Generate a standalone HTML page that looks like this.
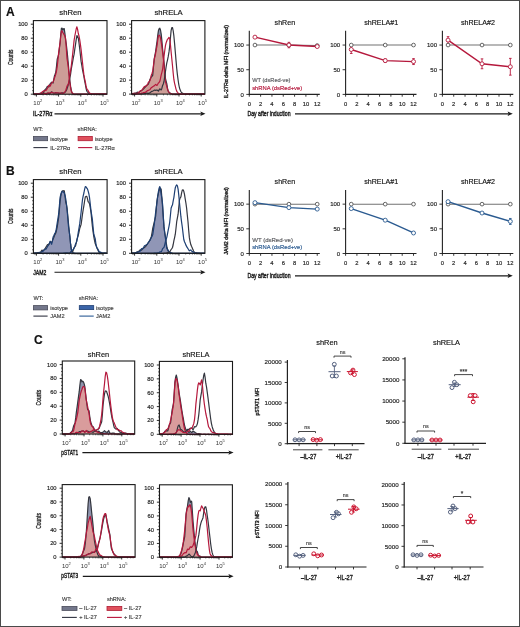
<!DOCTYPE html>
<html><head><meta charset="utf-8"><style>
html,body{margin:0;padding:0;background:#fff;width:520px;height:627px;overflow:hidden;}
svg{display:block;font-family:"Liberation Sans", sans-serif;will-change:transform;}
</style></head><body>
<svg width="520" height="627" viewBox="0 0 520 627" font-family='"Liberation Sans", sans-serif'>
<rect x="0" y="0" width="520" height="627" fill="#fff"/>
<text x="6" y="15.6" font-size="12" text-anchor="start" fill="#111" stroke="#111" stroke-width="0.16" font-weight="bold" >A</text>
<text x="70.4" y="15.1" font-size="7.7" text-anchor="middle" fill="#141414" stroke="#141414" stroke-width="0.16" >shRen</text>
<text x="168.6" y="15.1" font-size="7.7" text-anchor="middle" fill="#141414" stroke="#141414" stroke-width="0.16" >shRELA</text>
<path d="M33.4,94.0 34.1,93.9 34.8,93.9 35.5,93.9 36.2,94.0 36.9,94.0 37.6,94.1 38.3,94.0 39.0,94.0 39.7,93.6 40.4,93.1 41.1,93.1 41.8,93.1 42.5,93.0 43.2,92.7 43.9,91.5 44.6,90.1 45.3,89.4 46.0,88.7 46.7,87.6 47.4,86.4 48.1,86.6 48.8,86.9 49.5,85.3 50.2,83.7 50.9,83.0 51.6,82.2 52.3,82.6 53.0,83.1 53.7,79.8 54.4,76.0 55.1,74.2 55.8,72.1 56.5,66.3 57.2,59.2 57.9,57.1 58.6,54.6 59.3,49.0 60.0,43.5 60.7,35.3 61.4,28.3 62.1,28.1 62.8,30.0 63.5,28.9 64.2,28.6 64.9,33.4 65.6,39.8 66.3,44.2 67.0,50.3 67.7,57.2 68.4,64.8 69.1,73.4 69.8,80.7 70.6,86.4 71.3,90.2 72.0,92.7 72.7,93.9 73.4,94.0 74.1,94.0 74.8,94.1 75.5,94.2 76.2,94.2 76.9,94.2 77.6,94.2 78.3,94.2 79.0,94.2 79.7,94.2 80.4,94.2 81.1,94.2 81.8,94.2 82.5,94.2 83.2,94.2 83.9,94.2 84.6,94.2 85.3,94.2 86.0,94.2 86.7,94.2 87.4,94.2 88.1,94.2 88.8,94.2 89.5,94.2 90.2,94.2 90.9,94.2 91.6,94.2 92.3,94.2 93.0,94.2 93.7,94.2 94.4,94.2 95.1,94.2 95.8,94.2 96.5,94.2 97.2,94.2 97.9,94.2 98.6,94.2 99.3,94.2 100.0,94.2 100.7,94.2 101.4,94.2 102.1,94.2 102.8,94.2 103.5,94.2 104.2,94.2 104.9,94.2 105.6,94.2 106.3,94.2 107.0,94.2 L107,94.2 L33.4,94.2 Z" fill="#8e94ad" stroke="none"/>
<path d="M33.4,94.2 34.1,94.2 34.8,94.1 35.5,94.0 36.2,93.9 36.9,93.9 37.6,93.8 38.3,93.7 39.0,93.5 39.7,93.5 40.4,93.5 41.1,93.0 41.8,92.3 42.5,91.7 43.2,91.1 43.9,90.9 44.6,90.8 45.3,90.5 46.0,90.3 46.7,89.3 47.4,88.3 48.1,86.8 48.8,85.2 49.5,85.6 50.2,86.2 50.9,84.6 51.6,82.8 52.3,82.5 53.0,82.1 53.7,80.3 54.4,78.1 55.1,76.3 55.8,74.0 56.5,70.8 57.2,66.7 57.9,60.4 58.6,53.1 59.3,48.0 60.0,43.2 60.7,36.5 61.4,31.1 62.1,30.8 62.8,32.6 63.5,33.4 64.2,34.9 64.9,36.0 65.6,38.6 66.3,48.0 67.0,58.4 67.7,62.8 68.4,68.2 69.1,75.7 69.8,82.0 70.6,87.6 71.3,91.2 72.0,92.5 72.7,93.3 73.4,93.9 74.1,94.2 74.8,94.2 75.5,94.2 76.2,94.2 76.9,94.2 77.6,94.2 78.3,94.2 79.0,94.2 79.7,94.2 80.4,94.2 81.1,94.2 81.8,94.2 82.5,94.2 83.2,94.2 83.9,94.2 84.6,94.2 85.3,94.2 86.0,94.2 86.7,94.2 87.4,94.2 88.1,94.2 88.8,94.2 89.5,94.2 90.2,94.2 90.9,94.2 91.6,94.2 92.3,94.2 93.0,94.2 93.7,94.2 94.4,94.2 95.1,94.2 95.8,94.2 96.5,94.2 97.2,94.2 97.9,94.2 98.6,94.2 99.3,94.2 100.0,94.2 100.7,94.2 101.4,94.2 102.1,94.2 102.8,94.2 103.5,94.2 104.2,94.2 104.9,94.2 105.6,94.2 106.3,94.2 107.0,94.2 L107,94.2 L33.4,94.2 Z" fill="#cd9d97" stroke="none"/>
<path d="M33.4,94.0 34.1,93.9 34.8,93.9 35.5,93.9 36.2,94.0 36.9,94.0 37.6,94.1 38.3,94.0 39.0,94.0 39.7,93.6 40.4,93.1 41.1,93.1 41.8,93.1 42.5,93.0 43.2,92.7 43.9,91.5 44.6,90.1 45.3,89.4 46.0,88.7 46.7,87.6 47.4,86.4 48.1,86.6 48.8,86.9 49.5,85.3 50.2,83.7 50.9,83.0 51.6,82.2 52.3,82.6 53.0,83.1 53.7,79.8 54.4,76.0 55.1,74.2 55.8,72.1 56.5,66.3 57.2,59.2 57.9,57.1 58.6,54.6 59.3,49.0 60.0,43.5 60.7,35.3 61.4,28.3 62.1,28.1 62.8,30.0 63.5,28.9 64.2,28.6 64.9,33.4 65.6,39.8 66.3,44.2 67.0,50.3 67.7,57.2 68.4,64.8 69.1,73.4 69.8,80.7 70.6,86.4 71.3,90.2 72.0,92.7 72.7,93.9 73.4,94.0 74.1,94.0 74.8,94.1 75.5,94.2 76.2,94.2 76.9,94.2 77.6,94.2 78.3,94.2 79.0,94.2 79.7,94.2 80.4,94.2 81.1,94.2 81.8,94.2 82.5,94.2 83.2,94.2 83.9,94.2 84.6,94.2 85.3,94.2 86.0,94.2 86.7,94.2 87.4,94.2 88.1,94.2 88.8,94.2 89.5,94.2 90.2,94.2 90.9,94.2 91.6,94.2 92.3,94.2 93.0,94.2 93.7,94.2 94.4,94.2 95.1,94.2 95.8,94.2 96.5,94.2 97.2,94.2 97.9,94.2 98.6,94.2 99.3,94.2 100.0,94.2 100.7,94.2 101.4,94.2 102.1,94.2 102.8,94.2 103.5,94.2 104.2,94.2 104.9,94.2 105.6,94.2 106.3,94.2 107.0,94.2" fill="none" stroke="#34363f" stroke-width="1.2" stroke-linejoin="round"/>
<path d="M33.4,94.2 34.1,94.2 34.8,94.1 35.5,94.0 36.2,93.9 36.9,93.9 37.6,93.8 38.3,93.7 39.0,93.5 39.7,93.5 40.4,93.5 41.1,93.0 41.8,92.3 42.5,91.7 43.2,91.1 43.9,90.9 44.6,90.8 45.3,90.5 46.0,90.3 46.7,89.3 47.4,88.3 48.1,86.8 48.8,85.2 49.5,85.6 50.2,86.2 50.9,84.6 51.6,82.8 52.3,82.5 53.0,82.1 53.7,80.3 54.4,78.1 55.1,76.3 55.8,74.0 56.5,70.8 57.2,66.7 57.9,60.4 58.6,53.1 59.3,48.0 60.0,43.2 60.7,36.5 61.4,31.1 62.1,30.8 62.8,32.6 63.5,33.4 64.2,34.9 64.9,36.0 65.6,38.6 66.3,48.0 67.0,58.4 67.7,62.8 68.4,68.2 69.1,75.7 69.8,82.0 70.6,87.6 71.3,91.2 72.0,92.5 72.7,93.3 73.4,93.9 74.1,94.2 74.8,94.2 75.5,94.2 76.2,94.2 76.9,94.2 77.6,94.2 78.3,94.2 79.0,94.2 79.7,94.2 80.4,94.2 81.1,94.2 81.8,94.2 82.5,94.2 83.2,94.2 83.9,94.2 84.6,94.2 85.3,94.2 86.0,94.2 86.7,94.2 87.4,94.2 88.1,94.2 88.8,94.2 89.5,94.2 90.2,94.2 90.9,94.2 91.6,94.2 92.3,94.2 93.0,94.2 93.7,94.2 94.4,94.2 95.1,94.2 95.8,94.2 96.5,94.2 97.2,94.2 97.9,94.2 98.6,94.2 99.3,94.2 100.0,94.2 100.7,94.2 101.4,94.2 102.1,94.2 102.8,94.2 103.5,94.2 104.2,94.2 104.9,94.2 105.6,94.2 106.3,94.2 107.0,94.2" fill="none" stroke="#b5183c" stroke-width="1.2" stroke-linejoin="round"/>
<path d="M33.4,94.2 34.1,94.2 34.8,94.2 35.5,94.2 36.2,94.2 36.9,94.2 37.6,94.2 38.3,94.1 39.0,94.0 39.7,94.0 40.4,94.0 41.1,93.9 41.8,93.8 42.5,93.6 43.2,93.5 43.9,93.4 44.6,93.3 45.3,93.7 46.0,94.1 46.7,93.6 47.4,93.1 48.1,93.6 48.8,94.1 49.5,93.6 50.2,93.1 50.9,92.4 51.6,91.8 52.3,92.3 53.0,92.9 53.7,93.0 54.4,93.0 55.1,92.9 55.8,92.7 56.5,92.8 57.2,92.9 57.9,93.0 58.6,93.1 59.3,93.3 60.0,93.6 60.7,93.2 61.4,92.8 62.1,92.8 62.8,92.8 63.5,93.0 64.2,93.0 64.9,92.4 65.6,91.6 66.3,90.5 67.0,88.9 67.7,86.8 68.4,84.0 69.1,81.5 69.8,78.5 70.6,74.1 71.3,69.0 72.0,65.1 72.7,61.3 73.4,57.5 74.1,54.2 74.8,49.1 75.5,44.7 76.2,39.6 76.9,35.7 77.6,36.2 78.3,38.2 79.0,43.0 79.7,48.8 80.4,55.0 81.1,61.4 81.8,65.5 82.5,69.7 83.2,73.1 83.9,76.3 84.6,80.6 85.3,84.1 86.0,88.0 86.7,90.9 87.4,91.8 88.1,92.5 88.8,93.5 89.5,94.1 90.2,94.2 90.9,94.2 91.6,94.2 92.3,94.1 93.0,94.1 93.7,94.2 94.4,94.2 95.1,94.2 95.8,94.2 96.5,94.2 97.2,94.2 97.9,94.2 98.6,94.2 99.3,94.2 100.0,94.2 100.7,94.2 101.4,94.2 102.1,94.2 102.8,94.2 103.5,94.2 104.2,94.2 104.9,94.2 105.6,94.2 106.3,94.2 107.0,94.2" fill="none" stroke="#34363f" stroke-width="1.2" stroke-linejoin="round"/>
<path d="M33.4,94.2 34.1,94.2 34.8,94.1 35.5,94.2 36.2,94.2 36.9,94.2 37.6,94.1 38.3,94.1 39.0,94.1 39.7,94.0 40.4,93.9 41.1,93.9 41.8,93.8 42.5,93.8 43.2,93.8 43.9,93.6 44.6,93.3 45.3,93.5 46.0,93.6 46.7,93.6 47.4,93.5 48.1,93.1 48.8,92.7 49.5,93.0 50.2,93.3 50.9,92.8 51.6,92.2 52.3,92.5 53.0,92.8 53.7,93.0 54.4,93.1 55.1,93.0 55.8,92.8 56.5,92.9 57.2,92.9 57.9,92.9 58.6,93.0 59.3,93.1 60.0,93.2 60.7,93.1 61.4,92.9 62.1,93.3 62.8,93.6 63.5,93.2 64.2,92.5 64.9,91.8 65.6,90.7 66.3,88.8 67.0,86.2 67.7,85.2 68.4,84.0 69.1,79.8 69.8,74.8 70.6,70.5 71.3,65.9 72.0,59.9 72.7,53.8 73.4,47.0 74.1,40.4 74.8,36.0 75.5,32.5 76.2,29.0 76.9,26.8 77.6,29.4 78.3,33.5 79.0,36.0 79.7,39.7 80.4,44.3 81.1,49.6 81.8,56.1 82.5,62.5 83.2,69.1 83.9,74.9 84.6,78.6 85.3,81.7 86.0,85.7 86.7,88.7 87.4,89.7 88.1,90.5 88.8,91.9 89.5,92.9 90.2,93.4 90.9,93.7 91.6,93.9 92.3,94.0 93.0,94.1 93.7,94.1 94.4,94.1 95.1,94.1 95.8,94.2 96.5,94.2 97.2,94.2 97.9,94.2 98.6,94.2 99.3,94.2 100.0,94.2 100.7,94.2 101.4,94.2 102.1,94.2 102.8,94.2 103.5,94.2 104.2,94.2 104.9,94.2 105.6,94.2 106.3,94.2 107.0,94.2" fill="none" stroke="#b5183c" stroke-width="1.2" stroke-linejoin="round"/>
<rect x="33.4" y="20.6" width="73.6" height="73.6" fill="none" stroke="#1a1a1a" stroke-width="1.1"/>
<line x1="30.8" y1="94.2" x2="33.4" y2="94.2" stroke="#1a1a1a" stroke-width="0.9"/>
<text x="27.8" y="96.2" font-size="5.8" text-anchor="end" fill="#1e1e1e" stroke="#1e1e1e" stroke-width="0.16" >0</text>
<line x1="32.1" y1="90.7" x2="33.4" y2="90.7" stroke="#1a1a1a" stroke-width="0.7"/>
<line x1="32.1" y1="87.2" x2="33.4" y2="87.2" stroke="#1a1a1a" stroke-width="0.7"/>
<line x1="32.1" y1="83.7" x2="33.4" y2="83.7" stroke="#1a1a1a" stroke-width="0.7"/>
<line x1="30.8" y1="80.2" x2="33.4" y2="80.2" stroke="#1a1a1a" stroke-width="0.9"/>
<text x="27.8" y="82.2" font-size="5.8" text-anchor="end" fill="#1e1e1e" stroke="#1e1e1e" stroke-width="0.16" >20</text>
<line x1="32.1" y1="76.7" x2="33.4" y2="76.7" stroke="#1a1a1a" stroke-width="0.7"/>
<line x1="32.1" y1="73.2" x2="33.4" y2="73.2" stroke="#1a1a1a" stroke-width="0.7"/>
<line x1="32.1" y1="69.7" x2="33.4" y2="69.7" stroke="#1a1a1a" stroke-width="0.7"/>
<line x1="30.8" y1="66.2" x2="33.4" y2="66.2" stroke="#1a1a1a" stroke-width="0.9"/>
<text x="27.8" y="68.2" font-size="5.8" text-anchor="end" fill="#1e1e1e" stroke="#1e1e1e" stroke-width="0.16" >40</text>
<line x1="32.1" y1="62.7" x2="33.4" y2="62.7" stroke="#1a1a1a" stroke-width="0.7"/>
<line x1="32.1" y1="59.2" x2="33.4" y2="59.2" stroke="#1a1a1a" stroke-width="0.7"/>
<line x1="32.1" y1="55.7" x2="33.4" y2="55.7" stroke="#1a1a1a" stroke-width="0.7"/>
<line x1="30.8" y1="52.2" x2="33.4" y2="52.2" stroke="#1a1a1a" stroke-width="0.9"/>
<text x="27.8" y="54.2" font-size="5.8" text-anchor="end" fill="#1e1e1e" stroke="#1e1e1e" stroke-width="0.16" >60</text>
<line x1="32.1" y1="48.7" x2="33.4" y2="48.7" stroke="#1a1a1a" stroke-width="0.7"/>
<line x1="32.1" y1="45.2" x2="33.4" y2="45.2" stroke="#1a1a1a" stroke-width="0.7"/>
<line x1="32.1" y1="41.7" x2="33.4" y2="41.7" stroke="#1a1a1a" stroke-width="0.7"/>
<line x1="30.8" y1="38.2" x2="33.4" y2="38.2" stroke="#1a1a1a" stroke-width="0.9"/>
<text x="27.8" y="40.2" font-size="5.8" text-anchor="end" fill="#1e1e1e" stroke="#1e1e1e" stroke-width="0.16" >80</text>
<line x1="32.1" y1="34.7" x2="33.4" y2="34.7" stroke="#1a1a1a" stroke-width="0.7"/>
<line x1="32.1" y1="31.2" x2="33.4" y2="31.2" stroke="#1a1a1a" stroke-width="0.7"/>
<line x1="32.1" y1="27.7" x2="33.4" y2="27.7" stroke="#1a1a1a" stroke-width="0.7"/>
<line x1="30.8" y1="24.2" x2="33.4" y2="24.2" stroke="#1a1a1a" stroke-width="0.9"/>
<text x="27.8" y="26.2" font-size="5.8" text-anchor="end" fill="#1e1e1e" stroke="#1e1e1e" stroke-width="0.16" >100</text>
<line x1="36.4" y1="94.2" x2="36.4" y2="96.6" stroke="#1a1a1a" stroke-width="0.9"/>
<text x="33.3" y="104.7" font-size="6" fill="#333">10<tspan dy="-2.4" font-size="4">2</tspan></text>
<line x1="43.08" y1="94.2" x2="43.08" y2="95.5" stroke="#1a1a1a" stroke-width="0.6"/>
<line x1="46.99" y1="94.2" x2="46.99" y2="95.5" stroke="#1a1a1a" stroke-width="0.6"/>
<line x1="49.77" y1="94.2" x2="49.77" y2="95.5" stroke="#1a1a1a" stroke-width="0.6"/>
<line x1="51.92" y1="94.2" x2="51.92" y2="95.5" stroke="#1a1a1a" stroke-width="0.6"/>
<line x1="53.67" y1="94.2" x2="53.67" y2="95.5" stroke="#1a1a1a" stroke-width="0.6"/>
<line x1="55.16" y1="94.2" x2="55.16" y2="95.5" stroke="#1a1a1a" stroke-width="0.6"/>
<line x1="56.45" y1="94.2" x2="56.45" y2="95.5" stroke="#1a1a1a" stroke-width="0.6"/>
<line x1="57.58" y1="94.2" x2="57.58" y2="95.5" stroke="#1a1a1a" stroke-width="0.6"/>
<line x1="58.6" y1="94.2" x2="58.6" y2="96.6" stroke="#1a1a1a" stroke-width="0.9"/>
<text x="55.5" y="104.7" font-size="6" fill="#333">10<tspan dy="-2.4" font-size="4">3</tspan></text>
<line x1="65.28" y1="94.2" x2="65.28" y2="95.5" stroke="#1a1a1a" stroke-width="0.6"/>
<line x1="69.19" y1="94.2" x2="69.19" y2="95.5" stroke="#1a1a1a" stroke-width="0.6"/>
<line x1="71.97" y1="94.2" x2="71.97" y2="95.5" stroke="#1a1a1a" stroke-width="0.6"/>
<line x1="74.12" y1="94.2" x2="74.12" y2="95.5" stroke="#1a1a1a" stroke-width="0.6"/>
<line x1="75.87" y1="94.2" x2="75.87" y2="95.5" stroke="#1a1a1a" stroke-width="0.6"/>
<line x1="77.36" y1="94.2" x2="77.36" y2="95.5" stroke="#1a1a1a" stroke-width="0.6"/>
<line x1="78.65" y1="94.2" x2="78.65" y2="95.5" stroke="#1a1a1a" stroke-width="0.6"/>
<line x1="79.78" y1="94.2" x2="79.78" y2="95.5" stroke="#1a1a1a" stroke-width="0.6"/>
<line x1="80.8" y1="94.2" x2="80.8" y2="96.6" stroke="#1a1a1a" stroke-width="0.9"/>
<text x="77.7" y="104.7" font-size="6" fill="#333">10<tspan dy="-2.4" font-size="4">4</tspan></text>
<line x1="87.48" y1="94.2" x2="87.48" y2="95.5" stroke="#1a1a1a" stroke-width="0.6"/>
<line x1="91.39" y1="94.2" x2="91.39" y2="95.5" stroke="#1a1a1a" stroke-width="0.6"/>
<line x1="94.17" y1="94.2" x2="94.17" y2="95.5" stroke="#1a1a1a" stroke-width="0.6"/>
<line x1="96.32" y1="94.2" x2="96.32" y2="95.5" stroke="#1a1a1a" stroke-width="0.6"/>
<line x1="98.07" y1="94.2" x2="98.07" y2="95.5" stroke="#1a1a1a" stroke-width="0.6"/>
<line x1="99.56" y1="94.2" x2="99.56" y2="95.5" stroke="#1a1a1a" stroke-width="0.6"/>
<line x1="100.85" y1="94.2" x2="100.85" y2="95.5" stroke="#1a1a1a" stroke-width="0.6"/>
<line x1="101.98" y1="94.2" x2="101.98" y2="95.5" stroke="#1a1a1a" stroke-width="0.6"/>
<line x1="103" y1="94.2" x2="103" y2="96.6" stroke="#1a1a1a" stroke-width="0.9"/>
<text x="99.9" y="104.7" font-size="6" fill="#333">10<tspan dy="-2.4" font-size="4">5</tspan></text>
<line x1="34.25" y1="94.2" x2="34.25" y2="95.5" stroke="#1a1a1a" stroke-width="0.6"/>
<line x1="35.38" y1="94.2" x2="35.38" y2="95.5" stroke="#1a1a1a" stroke-width="0.6"/>
<path d="M131.6,93.5 132.3,93.7 133.0,93.9 133.7,93.7 134.4,93.4 135.1,93.2 135.8,93.1 136.5,92.7 137.2,92.2 137.9,92.4 138.6,92.6 139.4,92.0 140.1,91.2 140.8,90.8 141.5,90.4 142.2,90.0 142.9,89.5 143.6,88.9 144.3,88.1 145.0,87.3 145.7,86.5 146.4,85.7 147.1,84.9 147.8,84.4 148.5,83.9 149.2,81.9 149.9,79.6 150.6,78.4 151.3,76.9 152.0,76.3 152.7,75.4 153.4,67.8 154.2,59.0 154.9,55.3 155.6,51.5 156.3,46.4 157.0,41.6 157.7,35.7 158.4,30.8 159.1,28.7 159.8,28.2 160.5,30.0 161.2,34.1 161.9,40.9 162.6,49.0 163.3,55.3 164.0,61.9 164.7,70.7 165.4,78.1 166.1,81.1 166.8,83.6 167.5,88.1 168.2,91.2 169.0,92.2 169.7,92.8 170.4,93.4 171.1,93.7 171.8,93.9 172.5,94.0 173.2,94.0 173.9,94.1 174.6,94.1 175.3,94.1 176.0,94.1 176.7,94.1 177.4,94.1 178.1,94.1 178.8,94.1 179.5,94.1 180.2,94.1 180.9,94.1 181.6,94.1 182.3,94.1 183.1,94.1 183.8,94.1 184.5,94.1 185.2,94.1 185.9,94.1 186.6,94.1 187.3,94.1 188.0,94.1 188.7,94.1 189.4,94.1 190.1,94.1 190.8,94.1 191.5,94.1 192.2,94.1 192.9,94.1 193.6,94.1 194.3,94.1 195.0,94.1 195.7,94.1 196.4,94.1 197.1,94.1 197.9,94.1 198.6,94.1 199.3,94.1 200.0,94.1 200.7,94.1 201.4,94.1 202.1,94.1 202.8,94.1 203.5,94.1 204.2,94.1 204.9,94.1 L204.9,94.1 L131.6,94.1 Z" fill="#8e94ad" stroke="none"/>
<path d="M131.6,94.1 132.3,93.8 133.0,93.4 133.7,93.3 134.4,93.3 135.1,93.3 135.8,93.4 136.5,93.4 137.2,93.5 137.9,93.0 138.6,92.4 139.4,91.8 140.1,91.1 140.8,90.9 141.5,90.7 142.2,89.7 142.9,88.6 143.6,87.6 144.3,86.6 145.0,86.4 145.7,86.2 146.4,85.7 147.1,85.2 147.8,83.7 148.5,82.1 149.2,81.5 149.9,80.8 150.6,78.2 151.3,75.2 152.0,73.5 152.7,71.3 153.4,65.8 154.2,59.5 154.9,56.5 155.6,53.5 156.3,49.4 157.0,45.8 157.7,40.3 158.4,35.8 159.1,35.1 159.8,35.9 160.5,38.0 161.2,42.2 161.9,46.6 162.6,52.2 163.3,58.4 164.0,64.7 164.7,73.7 165.4,81.2 166.1,84.1 166.8,86.4 167.5,89.1 168.2,91.0 169.0,92.3 169.7,93.0 170.4,93.4 171.1,93.6 171.8,94.0 172.5,94.1 173.2,94.1 173.9,94.1 174.6,94.1 175.3,94.1 176.0,94.1 176.7,94.1 177.4,94.1 178.1,94.1 178.8,94.1 179.5,94.1 180.2,94.1 180.9,94.1 181.6,94.1 182.3,94.1 183.1,94.1 183.8,94.1 184.5,94.1 185.2,94.1 185.9,94.1 186.6,94.1 187.3,94.1 188.0,94.1 188.7,94.1 189.4,94.1 190.1,94.1 190.8,94.1 191.5,94.1 192.2,94.1 192.9,94.1 193.6,94.1 194.3,94.1 195.0,94.1 195.7,94.1 196.4,94.1 197.1,94.1 197.9,94.1 198.6,94.1 199.3,94.1 200.0,94.1 200.7,94.1 201.4,94.1 202.1,94.1 202.8,94.1 203.5,94.1 204.2,94.1 204.9,94.1 L204.9,94.1 L131.6,94.1 Z" fill="#cd9d97" stroke="none"/>
<path d="M131.6,93.5 132.3,93.7 133.0,93.9 133.7,93.7 134.4,93.4 135.1,93.2 135.8,93.1 136.5,92.7 137.2,92.2 137.9,92.4 138.6,92.6 139.4,92.0 140.1,91.2 140.8,90.8 141.5,90.4 142.2,90.0 142.9,89.5 143.6,88.9 144.3,88.1 145.0,87.3 145.7,86.5 146.4,85.7 147.1,84.9 147.8,84.4 148.5,83.9 149.2,81.9 149.9,79.6 150.6,78.4 151.3,76.9 152.0,76.3 152.7,75.4 153.4,67.8 154.2,59.0 154.9,55.3 155.6,51.5 156.3,46.4 157.0,41.6 157.7,35.7 158.4,30.8 159.1,28.7 159.8,28.2 160.5,30.0 161.2,34.1 161.9,40.9 162.6,49.0 163.3,55.3 164.0,61.9 164.7,70.7 165.4,78.1 166.1,81.1 166.8,83.6 167.5,88.1 168.2,91.2 169.0,92.2 169.7,92.8 170.4,93.4 171.1,93.7 171.8,93.9 172.5,94.0 173.2,94.0 173.9,94.1 174.6,94.1 175.3,94.1 176.0,94.1 176.7,94.1 177.4,94.1 178.1,94.1 178.8,94.1 179.5,94.1 180.2,94.1 180.9,94.1 181.6,94.1 182.3,94.1 183.1,94.1 183.8,94.1 184.5,94.1 185.2,94.1 185.9,94.1 186.6,94.1 187.3,94.1 188.0,94.1 188.7,94.1 189.4,94.1 190.1,94.1 190.8,94.1 191.5,94.1 192.2,94.1 192.9,94.1 193.6,94.1 194.3,94.1 195.0,94.1 195.7,94.1 196.4,94.1 197.1,94.1 197.9,94.1 198.6,94.1 199.3,94.1 200.0,94.1 200.7,94.1 201.4,94.1 202.1,94.1 202.8,94.1 203.5,94.1 204.2,94.1 204.9,94.1" fill="none" stroke="#34363f" stroke-width="1.2" stroke-linejoin="round"/>
<path d="M131.6,94.1 132.3,93.8 133.0,93.4 133.7,93.3 134.4,93.3 135.1,93.3 135.8,93.4 136.5,93.4 137.2,93.5 137.9,93.0 138.6,92.4 139.4,91.8 140.1,91.1 140.8,90.9 141.5,90.7 142.2,89.7 142.9,88.6 143.6,87.6 144.3,86.6 145.0,86.4 145.7,86.2 146.4,85.7 147.1,85.2 147.8,83.7 148.5,82.1 149.2,81.5 149.9,80.8 150.6,78.2 151.3,75.2 152.0,73.5 152.7,71.3 153.4,65.8 154.2,59.5 154.9,56.5 155.6,53.5 156.3,49.4 157.0,45.8 157.7,40.3 158.4,35.8 159.1,35.1 159.8,35.9 160.5,38.0 161.2,42.2 161.9,46.6 162.6,52.2 163.3,58.4 164.0,64.7 164.7,73.7 165.4,81.2 166.1,84.1 166.8,86.4 167.5,89.1 168.2,91.0 169.0,92.3 169.7,93.0 170.4,93.4 171.1,93.6 171.8,94.0 172.5,94.1 173.2,94.1 173.9,94.1 174.6,94.1 175.3,94.1 176.0,94.1 176.7,94.1 177.4,94.1 178.1,94.1 178.8,94.1 179.5,94.1 180.2,94.1 180.9,94.1 181.6,94.1 182.3,94.1 183.1,94.1 183.8,94.1 184.5,94.1 185.2,94.1 185.9,94.1 186.6,94.1 187.3,94.1 188.0,94.1 188.7,94.1 189.4,94.1 190.1,94.1 190.8,94.1 191.5,94.1 192.2,94.1 192.9,94.1 193.6,94.1 194.3,94.1 195.0,94.1 195.7,94.1 196.4,94.1 197.1,94.1 197.9,94.1 198.6,94.1 199.3,94.1 200.0,94.1 200.7,94.1 201.4,94.1 202.1,94.1 202.8,94.1 203.5,94.1 204.2,94.1 204.9,94.1" fill="none" stroke="#b5183c" stroke-width="1.2" stroke-linejoin="round"/>
<path d="M131.6,94.1 132.3,94.1 133.0,94.1 133.7,94.1 134.4,94.1 135.1,94.1 135.8,94.1 136.5,94.1 137.2,94.0 137.9,94.0 138.6,94.0 139.4,94.0 140.1,94.0 140.8,94.0 141.5,93.9 142.2,93.9 142.9,93.8 143.6,93.8 144.3,93.7 145.0,93.5 145.7,93.3 146.4,93.2 147.1,93.2 147.8,93.3 148.5,93.4 149.2,93.2 149.9,92.9 150.6,92.3 151.3,91.6 152.0,91.3 152.7,91.1 153.4,90.7 154.2,90.2 154.9,90.2 155.6,90.3 156.3,90.1 157.0,90.0 157.7,90.5 158.4,91.1 159.1,89.9 159.8,88.8 160.5,89.4 161.2,89.9 161.9,88.2 162.6,85.5 163.3,83.9 164.0,81.5 164.7,76.9 165.4,71.9 166.1,67.0 166.8,62.8 167.5,60.1 168.2,56.7 169.0,51.9 169.7,46.4 170.4,38.2 171.1,30.6 171.8,27.6 172.5,27.7 173.2,30.9 173.9,36.2 174.6,43.6 175.3,51.9 176.0,60.3 176.7,68.2 177.4,74.6 178.1,80.0 178.8,84.6 179.5,88.0 180.2,90.1 180.9,91.6 181.6,92.5 182.3,93.1 183.1,93.6 183.8,93.9 184.5,94.1 185.2,94.1 185.9,94.1 186.6,94.1 187.3,94.1 188.0,94.1 188.7,94.1 189.4,94.1 190.1,94.1 190.8,94.1 191.5,94.1 192.2,94.1 192.9,94.1 193.6,94.1 194.3,94.1 195.0,94.1 195.7,94.1 196.4,94.1 197.1,94.1 197.9,94.1 198.6,94.1 199.3,94.1 200.0,94.1 200.7,94.1 201.4,94.1 202.1,94.1 202.8,94.1 203.5,94.1 204.2,94.1 204.9,94.1" fill="none" stroke="#34363f" stroke-width="1.2" stroke-linejoin="round"/>
<path d="M131.6,94.1 132.3,94.0 133.0,94.0 133.7,94.0 134.4,94.1 135.1,94.1 135.8,94.1 136.5,94.0 137.2,93.9 137.9,93.9 138.6,93.9 139.4,93.9 140.1,93.9 140.8,93.6 141.5,93.2 142.2,93.0 142.9,92.9 143.6,92.7 144.3,92.5 145.0,92.3 145.7,92.1 146.4,91.5 147.1,90.9 147.8,90.6 148.5,90.3 149.2,90.0 149.9,89.7 150.6,88.7 151.3,87.7 152.0,87.2 152.7,86.7 153.4,86.3 154.2,85.9 154.9,85.2 155.6,84.4 156.3,84.9 157.0,85.4 157.7,84.3 158.4,83.0 159.1,82.3 159.8,81.3 160.5,78.4 161.2,74.8 161.9,72.3 162.6,69.2 163.3,63.2 164.0,56.3 164.7,51.0 165.4,45.8 166.1,42.9 166.8,41.0 167.5,39.1 168.2,38.8 169.0,37.4 169.7,38.3 170.4,44.3 171.1,51.7 171.8,58.7 172.5,65.8 173.2,73.3 173.9,79.7 174.6,83.3 175.3,86.2 176.0,89.1 176.7,91.1 177.4,92.3 178.1,93.0 178.8,93.5 179.5,93.8 180.2,94.0 180.9,94.1 181.6,94.1 182.3,94.1 183.1,94.1 183.8,94.1 184.5,94.1 185.2,94.1 185.9,94.1 186.6,94.1 187.3,94.1 188.0,94.1 188.7,94.1 189.4,94.1 190.1,94.1 190.8,94.1 191.5,94.1 192.2,94.1 192.9,94.1 193.6,94.1 194.3,94.1 195.0,94.1 195.7,94.1 196.4,94.1 197.1,94.1 197.9,94.1 198.6,94.1 199.3,94.1 200.0,94.1 200.7,94.1 201.4,94.1 202.1,94.1 202.8,94.1 203.5,94.1 204.2,94.1 204.9,94.1" fill="none" stroke="#b5183c" stroke-width="1.2" stroke-linejoin="round"/>
<rect x="131.6" y="20.6" width="73.3" height="73.5" fill="none" stroke="#1a1a1a" stroke-width="1.1"/>
<line x1="129" y1="94.1" x2="131.6" y2="94.1" stroke="#1a1a1a" stroke-width="0.9"/>
<text x="126" y="96.1" font-size="5.8" text-anchor="end" fill="#1e1e1e" stroke="#1e1e1e" stroke-width="0.16" >0</text>
<line x1="130.3" y1="90.6" x2="131.6" y2="90.6" stroke="#1a1a1a" stroke-width="0.7"/>
<line x1="130.3" y1="87.11" x2="131.6" y2="87.11" stroke="#1a1a1a" stroke-width="0.7"/>
<line x1="130.3" y1="83.61" x2="131.6" y2="83.61" stroke="#1a1a1a" stroke-width="0.7"/>
<line x1="129" y1="80.12" x2="131.6" y2="80.12" stroke="#1a1a1a" stroke-width="0.9"/>
<text x="126" y="82.12" font-size="5.8" text-anchor="end" fill="#1e1e1e" stroke="#1e1e1e" stroke-width="0.16" >20</text>
<line x1="130.3" y1="76.62" x2="131.6" y2="76.62" stroke="#1a1a1a" stroke-width="0.7"/>
<line x1="130.3" y1="73.13" x2="131.6" y2="73.13" stroke="#1a1a1a" stroke-width="0.7"/>
<line x1="130.3" y1="69.63" x2="131.6" y2="69.63" stroke="#1a1a1a" stroke-width="0.7"/>
<line x1="129" y1="66.14" x2="131.6" y2="66.14" stroke="#1a1a1a" stroke-width="0.9"/>
<text x="126" y="68.14" font-size="5.8" text-anchor="end" fill="#1e1e1e" stroke="#1e1e1e" stroke-width="0.16" >40</text>
<line x1="130.3" y1="62.64" x2="131.6" y2="62.64" stroke="#1a1a1a" stroke-width="0.7"/>
<line x1="130.3" y1="59.15" x2="131.6" y2="59.15" stroke="#1a1a1a" stroke-width="0.7"/>
<line x1="130.3" y1="55.65" x2="131.6" y2="55.65" stroke="#1a1a1a" stroke-width="0.7"/>
<line x1="129" y1="52.16" x2="131.6" y2="52.16" stroke="#1a1a1a" stroke-width="0.9"/>
<text x="126" y="54.16" font-size="5.8" text-anchor="end" fill="#1e1e1e" stroke="#1e1e1e" stroke-width="0.16" >60</text>
<line x1="130.3" y1="48.66" x2="131.6" y2="48.66" stroke="#1a1a1a" stroke-width="0.7"/>
<line x1="130.3" y1="45.17" x2="131.6" y2="45.17" stroke="#1a1a1a" stroke-width="0.7"/>
<line x1="130.3" y1="41.67" x2="131.6" y2="41.67" stroke="#1a1a1a" stroke-width="0.7"/>
<line x1="129" y1="38.18" x2="131.6" y2="38.18" stroke="#1a1a1a" stroke-width="0.9"/>
<text x="126" y="40.18" font-size="5.8" text-anchor="end" fill="#1e1e1e" stroke="#1e1e1e" stroke-width="0.16" >80</text>
<line x1="130.3" y1="34.68" x2="131.6" y2="34.68" stroke="#1a1a1a" stroke-width="0.7"/>
<line x1="130.3" y1="31.19" x2="131.6" y2="31.19" stroke="#1a1a1a" stroke-width="0.7"/>
<line x1="130.3" y1="27.69" x2="131.6" y2="27.69" stroke="#1a1a1a" stroke-width="0.7"/>
<line x1="129" y1="24.2" x2="131.6" y2="24.2" stroke="#1a1a1a" stroke-width="0.9"/>
<text x="126" y="26.2" font-size="5.8" text-anchor="end" fill="#1e1e1e" stroke="#1e1e1e" stroke-width="0.16" >100</text>
<line x1="134.6" y1="94.1" x2="134.6" y2="96.5" stroke="#1a1a1a" stroke-width="0.9"/>
<text x="131.5" y="104.6" font-size="6" fill="#333">10<tspan dy="-2.4" font-size="4">2</tspan></text>
<line x1="141.28" y1="94.1" x2="141.28" y2="95.4" stroke="#1a1a1a" stroke-width="0.6"/>
<line x1="145.19" y1="94.1" x2="145.19" y2="95.4" stroke="#1a1a1a" stroke-width="0.6"/>
<line x1="147.97" y1="94.1" x2="147.97" y2="95.4" stroke="#1a1a1a" stroke-width="0.6"/>
<line x1="150.12" y1="94.1" x2="150.12" y2="95.4" stroke="#1a1a1a" stroke-width="0.6"/>
<line x1="151.87" y1="94.1" x2="151.87" y2="95.4" stroke="#1a1a1a" stroke-width="0.6"/>
<line x1="153.36" y1="94.1" x2="153.36" y2="95.4" stroke="#1a1a1a" stroke-width="0.6"/>
<line x1="154.65" y1="94.1" x2="154.65" y2="95.4" stroke="#1a1a1a" stroke-width="0.6"/>
<line x1="155.78" y1="94.1" x2="155.78" y2="95.4" stroke="#1a1a1a" stroke-width="0.6"/>
<line x1="156.8" y1="94.1" x2="156.8" y2="96.5" stroke="#1a1a1a" stroke-width="0.9"/>
<text x="153.7" y="104.6" font-size="6" fill="#333">10<tspan dy="-2.4" font-size="4">3</tspan></text>
<line x1="163.48" y1="94.1" x2="163.48" y2="95.4" stroke="#1a1a1a" stroke-width="0.6"/>
<line x1="167.39" y1="94.1" x2="167.39" y2="95.4" stroke="#1a1a1a" stroke-width="0.6"/>
<line x1="170.17" y1="94.1" x2="170.17" y2="95.4" stroke="#1a1a1a" stroke-width="0.6"/>
<line x1="172.32" y1="94.1" x2="172.32" y2="95.4" stroke="#1a1a1a" stroke-width="0.6"/>
<line x1="174.07" y1="94.1" x2="174.07" y2="95.4" stroke="#1a1a1a" stroke-width="0.6"/>
<line x1="175.56" y1="94.1" x2="175.56" y2="95.4" stroke="#1a1a1a" stroke-width="0.6"/>
<line x1="176.85" y1="94.1" x2="176.85" y2="95.4" stroke="#1a1a1a" stroke-width="0.6"/>
<line x1="177.98" y1="94.1" x2="177.98" y2="95.4" stroke="#1a1a1a" stroke-width="0.6"/>
<line x1="179" y1="94.1" x2="179" y2="96.5" stroke="#1a1a1a" stroke-width="0.9"/>
<text x="175.9" y="104.6" font-size="6" fill="#333">10<tspan dy="-2.4" font-size="4">4</tspan></text>
<line x1="185.68" y1="94.1" x2="185.68" y2="95.4" stroke="#1a1a1a" stroke-width="0.6"/>
<line x1="189.59" y1="94.1" x2="189.59" y2="95.4" stroke="#1a1a1a" stroke-width="0.6"/>
<line x1="192.37" y1="94.1" x2="192.37" y2="95.4" stroke="#1a1a1a" stroke-width="0.6"/>
<line x1="194.52" y1="94.1" x2="194.52" y2="95.4" stroke="#1a1a1a" stroke-width="0.6"/>
<line x1="196.27" y1="94.1" x2="196.27" y2="95.4" stroke="#1a1a1a" stroke-width="0.6"/>
<line x1="197.76" y1="94.1" x2="197.76" y2="95.4" stroke="#1a1a1a" stroke-width="0.6"/>
<line x1="199.05" y1="94.1" x2="199.05" y2="95.4" stroke="#1a1a1a" stroke-width="0.6"/>
<line x1="200.18" y1="94.1" x2="200.18" y2="95.4" stroke="#1a1a1a" stroke-width="0.6"/>
<line x1="201.2" y1="94.1" x2="201.2" y2="96.5" stroke="#1a1a1a" stroke-width="0.9"/>
<text x="198.1" y="104.6" font-size="6" fill="#333">10<tspan dy="-2.4" font-size="4">5</tspan></text>
<line x1="132.45" y1="94.1" x2="132.45" y2="95.4" stroke="#1a1a1a" stroke-width="0.6"/>
<line x1="133.58" y1="94.1" x2="133.58" y2="95.4" stroke="#1a1a1a" stroke-width="0.6"/>
<text x="33" y="115.8" font-size="6.6" text-anchor="start" fill="#1a1a1a" stroke="#1a1a1a" stroke-width="0.38" textLength="19.5" lengthAdjust="spacingAndGlyphs" >IL-27R&#945;</text>
<line x1="54.5" y1="113.8" x2="201.5" y2="113.8" stroke="#1a1a1a" stroke-width="1.15"/>
<path d="M205.5,113.8 L200.3,111.6 L201.3,113.8 L200.3,116 Z" fill="#1a1a1a"/>
<text x="33.2" y="131" font-size="5.6" text-anchor="start" fill="#444" stroke="#444" stroke-width="0.16" >WT:</text>
<text x="77.6" y="131" font-size="5.6" text-anchor="start" fill="#444" stroke="#444" stroke-width="0.16" >shRNA:</text>
<rect x="33.4" y="136.4" width="14.2" height="4.3" fill="#73778b" stroke="#4a4c5a" stroke-width="0.8"/>
<rect x="78.1" y="136.4" width="14.2" height="4.3" fill="#e0505c" stroke="#b01c34" stroke-width="0.8"/>
<text x="50.2" y="140.6" font-size="5.6" text-anchor="start" fill="#444" stroke="#444" stroke-width="0.16" >isotype</text>
<text x="94.8" y="140.6" font-size="5.6" text-anchor="start" fill="#444" stroke="#444" stroke-width="0.16" >isotype</text>
<line x1="33.4" y1="147.6" x2="47.6" y2="147.6" stroke="#2f3240" stroke-width="1.1"/>
<line x1="78.1" y1="147.6" x2="92.3" y2="147.6" stroke="#b8123a" stroke-width="1.1"/>
<text x="50.2" y="150" font-size="5.6" text-anchor="start" fill="#444" stroke="#444" stroke-width="0.16" >IL-27R&#945;</text>
<text x="94.8" y="150" font-size="5.6" text-anchor="start" fill="#444" stroke="#444" stroke-width="0.16" >IL-27R&#945;</text>
<text x="284.86" y="25.3" font-size="7.1" text-anchor="middle" fill="#141414" stroke="#141414" stroke-width="0.16" >shRen</text>
<line x1="249.3" y1="30.8" x2="249.3" y2="94.9" stroke="#222" stroke-width="1.1"/>
<line x1="248.8" y1="94.4" x2="319.8" y2="94.4" stroke="#222" stroke-width="1.1"/>
<line x1="246.3" y1="94.4" x2="249.3" y2="94.4" stroke="#222" stroke-width="0.9"/>
<text x="243.9" y="96.5" font-size="6" text-anchor="end" fill="#1e1e1e" stroke="#1e1e1e" stroke-width="0.16" >0</text>
<line x1="246.3" y1="69.73" x2="249.3" y2="69.73" stroke="#222" stroke-width="0.9"/>
<text x="243.9" y="71.83" font-size="6" text-anchor="end" fill="#1e1e1e" stroke="#1e1e1e" stroke-width="0.16" >50</text>
<line x1="246.3" y1="45.05" x2="249.3" y2="45.05" stroke="#222" stroke-width="0.9"/>
<text x="243.9" y="47.15" font-size="6" text-anchor="end" fill="#1e1e1e" stroke="#1e1e1e" stroke-width="0.16" >100</text>
<line x1="249.3" y1="94.4" x2="249.3" y2="96.7" stroke="#222" stroke-width="0.9"/>
<text x="249.3" y="105.6" font-size="5.8" text-anchor="middle" fill="#1e1e1e" stroke="#1e1e1e" stroke-width="0.16" >0</text>
<line x1="260.62" y1="94.4" x2="260.62" y2="96.7" stroke="#222" stroke-width="0.9"/>
<text x="260.62" y="105.6" font-size="5.8" text-anchor="middle" fill="#1e1e1e" stroke="#1e1e1e" stroke-width="0.16" >2</text>
<line x1="271.94" y1="94.4" x2="271.94" y2="96.7" stroke="#222" stroke-width="0.9"/>
<text x="271.94" y="105.6" font-size="5.8" text-anchor="middle" fill="#1e1e1e" stroke="#1e1e1e" stroke-width="0.16" >4</text>
<line x1="283.26" y1="94.4" x2="283.26" y2="96.7" stroke="#222" stroke-width="0.9"/>
<text x="283.26" y="105.6" font-size="5.8" text-anchor="middle" fill="#1e1e1e" stroke="#1e1e1e" stroke-width="0.16" >6</text>
<line x1="294.58" y1="94.4" x2="294.58" y2="96.7" stroke="#222" stroke-width="0.9"/>
<text x="294.58" y="105.6" font-size="5.8" text-anchor="middle" fill="#1e1e1e" stroke="#1e1e1e" stroke-width="0.16" >8</text>
<line x1="305.9" y1="94.4" x2="305.9" y2="96.7" stroke="#222" stroke-width="0.9"/>
<text x="305.9" y="105.6" font-size="5.8" text-anchor="middle" fill="#1e1e1e" stroke="#1e1e1e" stroke-width="0.16" >10</text>
<line x1="317.22" y1="94.4" x2="317.22" y2="96.7" stroke="#222" stroke-width="0.9"/>
<text x="317.22" y="105.6" font-size="5.8" text-anchor="middle" fill="#1e1e1e" stroke="#1e1e1e" stroke-width="0.16" >12</text>
<polyline points="254.96,45.05 288.92,45.05 317.22,45.54" fill="none" stroke="#727272" stroke-width="1.05"/>
<polyline points="254.96,37.15 288.92,45.05 317.22,46.53" fill="none" stroke="#b5183c" stroke-width="1.4"/>
<line x1="288.92" y1="42.34" x2="288.92" y2="47.76" stroke="#b5183c" stroke-width="0.9"/>
<line x1="287.62" y1="42.34" x2="290.22" y2="42.34" stroke="#b5183c" stroke-width="0.9"/>
<line x1="287.62" y1="47.76" x2="290.22" y2="47.76" stroke="#b5183c" stroke-width="0.9"/>
<circle cx="254.96" cy="45.05" r="1.85" fill="#fff" stroke="#555" stroke-width="0.9"/>
<circle cx="288.92" cy="45.05" r="1.85" fill="#fff" stroke="#555" stroke-width="0.9"/>
<circle cx="317.22" cy="45.54" r="1.85" fill="#fff" stroke="#555" stroke-width="0.9"/>
<circle cx="254.96" cy="37.15" r="2" fill="#fff" stroke="#b5183c" stroke-width="0.9"/>
<circle cx="288.92" cy="45.05" r="2" fill="#fff" stroke="#b5183c" stroke-width="0.9"/>
<circle cx="317.22" cy="46.53" r="2" fill="#fff" stroke="#b5183c" stroke-width="0.9"/>
<text x="381.16" y="25.3" font-size="7.1" text-anchor="middle" fill="#141414" stroke="#141414" stroke-width="0.16" >shRELA#1</text>
<line x1="345.6" y1="30.8" x2="345.6" y2="94.9" stroke="#222" stroke-width="1.1"/>
<line x1="345.1" y1="94.4" x2="416.5" y2="94.4" stroke="#222" stroke-width="1.1"/>
<line x1="342.6" y1="94.4" x2="345.6" y2="94.4" stroke="#222" stroke-width="0.9"/>
<text x="340.2" y="96.5" font-size="6" text-anchor="end" fill="#1e1e1e" stroke="#1e1e1e" stroke-width="0.16" >0</text>
<line x1="342.6" y1="69.73" x2="345.6" y2="69.73" stroke="#222" stroke-width="0.9"/>
<text x="340.2" y="71.83" font-size="6" text-anchor="end" fill="#1e1e1e" stroke="#1e1e1e" stroke-width="0.16" >50</text>
<line x1="342.6" y1="45.05" x2="345.6" y2="45.05" stroke="#222" stroke-width="0.9"/>
<text x="340.2" y="47.15" font-size="6" text-anchor="end" fill="#1e1e1e" stroke="#1e1e1e" stroke-width="0.16" >100</text>
<line x1="345.6" y1="94.4" x2="345.6" y2="96.7" stroke="#222" stroke-width="0.9"/>
<text x="345.6" y="105.6" font-size="5.8" text-anchor="middle" fill="#1e1e1e" stroke="#1e1e1e" stroke-width="0.16" >0</text>
<line x1="356.92" y1="94.4" x2="356.92" y2="96.7" stroke="#222" stroke-width="0.9"/>
<text x="356.92" y="105.6" font-size="5.8" text-anchor="middle" fill="#1e1e1e" stroke="#1e1e1e" stroke-width="0.16" >2</text>
<line x1="368.24" y1="94.4" x2="368.24" y2="96.7" stroke="#222" stroke-width="0.9"/>
<text x="368.24" y="105.6" font-size="5.8" text-anchor="middle" fill="#1e1e1e" stroke="#1e1e1e" stroke-width="0.16" >4</text>
<line x1="379.56" y1="94.4" x2="379.56" y2="96.7" stroke="#222" stroke-width="0.9"/>
<text x="379.56" y="105.6" font-size="5.8" text-anchor="middle" fill="#1e1e1e" stroke="#1e1e1e" stroke-width="0.16" >6</text>
<line x1="390.88" y1="94.4" x2="390.88" y2="96.7" stroke="#222" stroke-width="0.9"/>
<text x="390.88" y="105.6" font-size="5.8" text-anchor="middle" fill="#1e1e1e" stroke="#1e1e1e" stroke-width="0.16" >8</text>
<line x1="402.2" y1="94.4" x2="402.2" y2="96.7" stroke="#222" stroke-width="0.9"/>
<text x="402.2" y="105.6" font-size="5.8" text-anchor="middle" fill="#1e1e1e" stroke="#1e1e1e" stroke-width="0.16" >10</text>
<line x1="413.52" y1="94.4" x2="413.52" y2="96.7" stroke="#222" stroke-width="0.9"/>
<text x="413.52" y="105.6" font-size="5.8" text-anchor="middle" fill="#1e1e1e" stroke="#1e1e1e" stroke-width="0.16" >12</text>
<polyline points="351.26,45.05 385.22,45.05 413.52,45.05" fill="none" stroke="#727272" stroke-width="1.05"/>
<polyline points="351.26,49.49 385.22,60.6 413.52,61.58" fill="none" stroke="#b5183c" stroke-width="1.4"/>
<line x1="351.26" y1="45.54" x2="351.26" y2="53.44" stroke="#b5183c" stroke-width="0.9"/>
<line x1="349.96" y1="45.54" x2="352.56" y2="45.54" stroke="#b5183c" stroke-width="0.9"/>
<line x1="349.96" y1="53.44" x2="352.56" y2="53.44" stroke="#b5183c" stroke-width="0.9"/>
<line x1="385.22" y1="58.87" x2="385.22" y2="62.32" stroke="#b5183c" stroke-width="0.9"/>
<line x1="383.92" y1="58.87" x2="386.52" y2="58.87" stroke="#b5183c" stroke-width="0.9"/>
<line x1="383.92" y1="62.32" x2="386.52" y2="62.32" stroke="#b5183c" stroke-width="0.9"/>
<line x1="413.52" y1="58.62" x2="413.52" y2="64.54" stroke="#b5183c" stroke-width="0.9"/>
<line x1="412.22" y1="58.62" x2="414.82" y2="58.62" stroke="#b5183c" stroke-width="0.9"/>
<line x1="412.22" y1="64.54" x2="414.82" y2="64.54" stroke="#b5183c" stroke-width="0.9"/>
<circle cx="351.26" cy="45.05" r="1.85" fill="#fff" stroke="#555" stroke-width="0.9"/>
<circle cx="385.22" cy="45.05" r="1.85" fill="#fff" stroke="#555" stroke-width="0.9"/>
<circle cx="413.52" cy="45.05" r="1.85" fill="#fff" stroke="#555" stroke-width="0.9"/>
<circle cx="351.26" cy="49.49" r="2" fill="#fff" stroke="#b5183c" stroke-width="0.9"/>
<circle cx="385.22" cy="60.6" r="2" fill="#fff" stroke="#b5183c" stroke-width="0.9"/>
<circle cx="413.52" cy="61.58" r="2" fill="#fff" stroke="#b5183c" stroke-width="0.9"/>
<text x="477.96" y="25.3" font-size="7.1" text-anchor="middle" fill="#141414" stroke="#141414" stroke-width="0.16" >shRELA#2</text>
<line x1="442.4" y1="30.8" x2="442.4" y2="94.9" stroke="#222" stroke-width="1.1"/>
<line x1="441.9" y1="94.4" x2="513.3" y2="94.4" stroke="#222" stroke-width="1.1"/>
<line x1="439.4" y1="94.4" x2="442.4" y2="94.4" stroke="#222" stroke-width="0.9"/>
<text x="437" y="96.5" font-size="6" text-anchor="end" fill="#1e1e1e" stroke="#1e1e1e" stroke-width="0.16" >0</text>
<line x1="439.4" y1="69.73" x2="442.4" y2="69.73" stroke="#222" stroke-width="0.9"/>
<text x="437" y="71.83" font-size="6" text-anchor="end" fill="#1e1e1e" stroke="#1e1e1e" stroke-width="0.16" >50</text>
<line x1="439.4" y1="45.05" x2="442.4" y2="45.05" stroke="#222" stroke-width="0.9"/>
<text x="437" y="47.15" font-size="6" text-anchor="end" fill="#1e1e1e" stroke="#1e1e1e" stroke-width="0.16" >100</text>
<line x1="442.4" y1="94.4" x2="442.4" y2="96.7" stroke="#222" stroke-width="0.9"/>
<text x="442.4" y="105.6" font-size="5.8" text-anchor="middle" fill="#1e1e1e" stroke="#1e1e1e" stroke-width="0.16" >0</text>
<line x1="453.72" y1="94.4" x2="453.72" y2="96.7" stroke="#222" stroke-width="0.9"/>
<text x="453.72" y="105.6" font-size="5.8" text-anchor="middle" fill="#1e1e1e" stroke="#1e1e1e" stroke-width="0.16" >2</text>
<line x1="465.04" y1="94.4" x2="465.04" y2="96.7" stroke="#222" stroke-width="0.9"/>
<text x="465.04" y="105.6" font-size="5.8" text-anchor="middle" fill="#1e1e1e" stroke="#1e1e1e" stroke-width="0.16" >4</text>
<line x1="476.36" y1="94.4" x2="476.36" y2="96.7" stroke="#222" stroke-width="0.9"/>
<text x="476.36" y="105.6" font-size="5.8" text-anchor="middle" fill="#1e1e1e" stroke="#1e1e1e" stroke-width="0.16" >6</text>
<line x1="487.68" y1="94.4" x2="487.68" y2="96.7" stroke="#222" stroke-width="0.9"/>
<text x="487.68" y="105.6" font-size="5.8" text-anchor="middle" fill="#1e1e1e" stroke="#1e1e1e" stroke-width="0.16" >8</text>
<line x1="499" y1="94.4" x2="499" y2="96.7" stroke="#222" stroke-width="0.9"/>
<text x="499" y="105.6" font-size="5.8" text-anchor="middle" fill="#1e1e1e" stroke="#1e1e1e" stroke-width="0.16" >10</text>
<line x1="510.32" y1="94.4" x2="510.32" y2="96.7" stroke="#222" stroke-width="0.9"/>
<text x="510.32" y="105.6" font-size="5.8" text-anchor="middle" fill="#1e1e1e" stroke="#1e1e1e" stroke-width="0.16" >12</text>
<polyline points="448.06,45.05 482.02,45.05 510.32,45.05" fill="none" stroke="#727272" stroke-width="1.05"/>
<polyline points="448.06,40.12 482.02,63.8 510.32,66.76" fill="none" stroke="#b5183c" stroke-width="1.4"/>
<line x1="448.06" y1="36.66" x2="448.06" y2="43.57" stroke="#b5183c" stroke-width="0.9"/>
<line x1="446.76" y1="36.66" x2="449.36" y2="36.66" stroke="#b5183c" stroke-width="0.9"/>
<line x1="446.76" y1="43.57" x2="449.36" y2="43.57" stroke="#b5183c" stroke-width="0.9"/>
<line x1="482.02" y1="58.87" x2="482.02" y2="68.74" stroke="#b5183c" stroke-width="0.9"/>
<line x1="480.72" y1="58.87" x2="483.32" y2="58.87" stroke="#b5183c" stroke-width="0.9"/>
<line x1="480.72" y1="68.74" x2="483.32" y2="68.74" stroke="#b5183c" stroke-width="0.9"/>
<line x1="510.32" y1="58.37" x2="510.32" y2="75.15" stroke="#b5183c" stroke-width="0.9"/>
<line x1="509.02" y1="58.37" x2="511.62" y2="58.37" stroke="#b5183c" stroke-width="0.9"/>
<line x1="509.02" y1="75.15" x2="511.62" y2="75.15" stroke="#b5183c" stroke-width="0.9"/>
<circle cx="448.06" cy="45.05" r="1.85" fill="#fff" stroke="#555" stroke-width="0.9"/>
<circle cx="482.02" cy="45.05" r="1.85" fill="#fff" stroke="#555" stroke-width="0.9"/>
<circle cx="510.32" cy="45.05" r="1.85" fill="#fff" stroke="#555" stroke-width="0.9"/>
<circle cx="448.06" cy="40.12" r="2" fill="#fff" stroke="#b5183c" stroke-width="0.9"/>
<circle cx="482.02" cy="63.8" r="2" fill="#fff" stroke="#b5183c" stroke-width="0.9"/>
<circle cx="510.32" cy="66.76" r="2" fill="#fff" stroke="#b5183c" stroke-width="0.9"/>
<text x="228.2" y="61.6" font-size="6" text-anchor="middle" fill="#222" stroke="#222" stroke-width="0.38" textLength="73" lengthAdjust="spacingAndGlyphs" transform="rotate(-90 228.2 61.6)" >IL-27R&#945; delta MFI (normalized)</text>
<text x="252.2" y="82.4" font-size="5.6" text-anchor="start" fill="#5d5e62" stroke="#5d5e62" stroke-width="0.16" textLength="38.3" lengthAdjust="spacingAndGlyphs" >WT (dsRed-ve)</text>
<text x="252.2" y="90.2" font-size="5.6" text-anchor="start" fill="#b5183c" stroke="#b5183c" stroke-width="0.16" textLength="50" lengthAdjust="spacingAndGlyphs" >shRNA (dsRed+ve)</text>
<text x="247.5" y="116" font-size="6.6" text-anchor="start" fill="#1a1a1a" stroke="#1a1a1a" stroke-width="0.38" textLength="43" lengthAdjust="spacingAndGlyphs" >Day after induction</text>
<line x1="295" y1="113.8" x2="508.8" y2="113.8" stroke="#1a1a1a" stroke-width="1.15"/>
<path d="M512.8,113.8 L507.6,111.6 L508.6,113.8 L507.6,116 Z" fill="#1a1a1a"/>
<text x="6" y="174.6" font-size="12" text-anchor="start" fill="#111" stroke="#111" stroke-width="0.16" font-weight="bold" >B</text>
<text x="70.4" y="174.1" font-size="7.7" text-anchor="middle" fill="#141414" stroke="#141414" stroke-width="0.16" >shRen</text>
<text x="168.6" y="174.1" font-size="7.7" text-anchor="middle" fill="#141414" stroke="#141414" stroke-width="0.16" >shRELA</text>
<path d="M33.4,253.2 34.1,253.1 34.8,253.0 35.5,253.1 36.2,253.3 36.9,253.0 37.6,252.6 38.3,252.7 39.0,252.8 39.7,252.6 40.4,252.3 41.1,251.4 41.8,250.2 42.5,250.3 43.2,250.5 43.9,250.0 44.6,249.4 45.3,248.3 46.0,247.0 46.7,245.9 47.4,244.7 48.1,244.6 48.8,244.5 49.5,243.1 50.2,241.7 50.9,242.1 51.6,242.5 52.4,240.9 53.1,239.0 53.8,237.5 54.5,235.5 55.2,234.3 55.9,232.8 56.6,229.8 57.3,226.3 58.0,221.9 58.7,217.0 59.4,209.1 60.1,201.1 60.8,196.2 61.5,192.5 62.2,190.9 62.9,191.1 63.6,190.7 64.3,190.9 65.0,195.8 65.7,202.0 66.4,204.5 67.1,208.7 67.8,215.8 68.5,223.5 69.2,230.7 69.9,237.2 70.6,244.2 71.3,249.0 72.0,251.1 72.7,252.2 73.4,253.2 74.1,253.3 74.8,253.3 75.5,253.3 76.2,253.3 76.9,253.3 77.6,253.3 78.3,253.3 79.0,253.3 79.7,253.3 80.4,253.3 81.1,253.3 81.8,253.3 82.5,253.3 83.2,253.3 83.9,253.3 84.6,253.3 85.3,253.3 86.0,253.3 86.7,253.3 87.4,253.3 88.1,253.3 88.9,253.3 89.6,253.3 90.3,253.3 91.0,253.3 91.7,253.3 92.4,253.3 93.1,253.3 93.8,253.3 94.5,253.3 95.2,253.3 95.9,253.3 96.6,253.3 97.3,253.3 98.0,253.3 98.7,253.3 99.4,253.3 100.1,253.3 100.8,253.3 101.5,253.3 102.2,253.3 102.9,253.3 103.6,253.3 104.3,253.3 105.0,253.3 105.7,253.3 106.4,253.3 107.1,253.3 L107.1,253.3 L33.4,253.3 Z" fill="#8e94ad" stroke="none"/>
<path d="M33.4,253.3 34.1,253.3 34.8,253.3 35.5,253.1 36.2,252.9 36.9,253.1 37.6,253.3 38.3,252.9 39.0,252.4 39.7,252.4 40.4,252.5 41.1,252.2 41.8,251.7 42.5,251.4 43.2,251.1 43.9,250.2 44.6,249.2 45.3,249.1 46.0,249.1 46.7,248.0 47.4,246.7 48.1,245.7 48.8,244.6 49.5,242.9 50.2,241.2 50.9,242.7 51.6,244.3 52.4,240.9 53.1,237.1 53.8,235.7 54.5,234.0 55.2,232.7 55.9,231.1 56.6,227.1 57.3,222.3 58.0,218.2 58.7,213.7 59.4,205.6 60.1,197.4 60.8,194.3 61.5,192.6 62.2,191.3 62.9,191.8 63.6,192.2 64.3,193.2 65.0,195.2 65.7,198.6 66.4,203.5 67.1,209.8 67.8,218.0 68.5,226.4 69.2,231.4 69.9,236.3 70.6,244.2 71.3,249.6 72.0,252.2 72.7,253.3 73.4,253.2 74.1,253.1 74.8,253.2 75.5,253.3 76.2,253.3 76.9,253.3 77.6,253.3 78.3,253.3 79.0,253.3 79.7,253.3 80.4,253.3 81.1,253.3 81.8,253.3 82.5,253.3 83.2,253.3 83.9,253.3 84.6,253.3 85.3,253.3 86.0,253.3 86.7,253.3 87.4,253.3 88.1,253.3 88.9,253.3 89.6,253.3 90.3,253.3 91.0,253.3 91.7,253.3 92.4,253.3 93.1,253.3 93.8,253.3 94.5,253.3 95.2,253.3 95.9,253.3 96.6,253.3 97.3,253.3 98.0,253.3 98.7,253.3 99.4,253.3 100.1,253.3 100.8,253.3 101.5,253.3 102.2,253.3 102.9,253.3 103.6,253.3 104.3,253.3 105.0,253.3 105.7,253.3 106.4,253.3 107.1,253.3 L107.1,253.3 L33.4,253.3 Z" fill="#9096b6" stroke="none"/>
<path d="M33.4,253.2 34.1,253.1 34.8,253.0 35.5,253.1 36.2,253.3 36.9,253.0 37.6,252.6 38.3,252.7 39.0,252.8 39.7,252.6 40.4,252.3 41.1,251.4 41.8,250.2 42.5,250.3 43.2,250.5 43.9,250.0 44.6,249.4 45.3,248.3 46.0,247.0 46.7,245.9 47.4,244.7 48.1,244.6 48.8,244.5 49.5,243.1 50.2,241.7 50.9,242.1 51.6,242.5 52.4,240.9 53.1,239.0 53.8,237.5 54.5,235.5 55.2,234.3 55.9,232.8 56.6,229.8 57.3,226.3 58.0,221.9 58.7,217.0 59.4,209.1 60.1,201.1 60.8,196.2 61.5,192.5 62.2,190.9 62.9,191.1 63.6,190.7 64.3,190.9 65.0,195.8 65.7,202.0 66.4,204.5 67.1,208.7 67.8,215.8 68.5,223.5 69.2,230.7 69.9,237.2 70.6,244.2 71.3,249.0 72.0,251.1 72.7,252.2 73.4,253.2 74.1,253.3 74.8,253.3 75.5,253.3 76.2,253.3 76.9,253.3 77.6,253.3 78.3,253.3 79.0,253.3 79.7,253.3 80.4,253.3 81.1,253.3 81.8,253.3 82.5,253.3 83.2,253.3 83.9,253.3 84.6,253.3 85.3,253.3 86.0,253.3 86.7,253.3 87.4,253.3 88.1,253.3 88.9,253.3 89.6,253.3 90.3,253.3 91.0,253.3 91.7,253.3 92.4,253.3 93.1,253.3 93.8,253.3 94.5,253.3 95.2,253.3 95.9,253.3 96.6,253.3 97.3,253.3 98.0,253.3 98.7,253.3 99.4,253.3 100.1,253.3 100.8,253.3 101.5,253.3 102.2,253.3 102.9,253.3 103.6,253.3 104.3,253.3 105.0,253.3 105.7,253.3 106.4,253.3 107.1,253.3" fill="none" stroke="#34363f" stroke-width="1.2" stroke-linejoin="round"/>
<path d="M33.4,253.3 34.1,253.3 34.8,253.3 35.5,253.1 36.2,252.9 36.9,253.1 37.6,253.3 38.3,252.9 39.0,252.4 39.7,252.4 40.4,252.5 41.1,252.2 41.8,251.7 42.5,251.4 43.2,251.1 43.9,250.2 44.6,249.2 45.3,249.1 46.0,249.1 46.7,248.0 47.4,246.7 48.1,245.7 48.8,244.6 49.5,242.9 50.2,241.2 50.9,242.7 51.6,244.3 52.4,240.9 53.1,237.1 53.8,235.7 54.5,234.0 55.2,232.7 55.9,231.1 56.6,227.1 57.3,222.3 58.0,218.2 58.7,213.7 59.4,205.6 60.1,197.4 60.8,194.3 61.5,192.6 62.2,191.3 62.9,191.8 63.6,192.2 64.3,193.2 65.0,195.2 65.7,198.6 66.4,203.5 67.1,209.8 67.8,218.0 68.5,226.4 69.2,231.4 69.9,236.3 70.6,244.2 71.3,249.6 72.0,252.2 72.7,253.3 73.4,253.2 74.1,253.1 74.8,253.2 75.5,253.3 76.2,253.3 76.9,253.3 77.6,253.3 78.3,253.3 79.0,253.3 79.7,253.3 80.4,253.3 81.1,253.3 81.8,253.3 82.5,253.3 83.2,253.3 83.9,253.3 84.6,253.3 85.3,253.3 86.0,253.3 86.7,253.3 87.4,253.3 88.1,253.3 88.9,253.3 89.6,253.3 90.3,253.3 91.0,253.3 91.7,253.3 92.4,253.3 93.1,253.3 93.8,253.3 94.5,253.3 95.2,253.3 95.9,253.3 96.6,253.3 97.3,253.3 98.0,253.3 98.7,253.3 99.4,253.3 100.1,253.3 100.8,253.3 101.5,253.3 102.2,253.3 102.9,253.3 103.6,253.3 104.3,253.3 105.0,253.3 105.7,253.3 106.4,253.3 107.1,253.3" fill="none" stroke="#1d3f73" stroke-width="1.2" stroke-linejoin="round"/>
<path d="M33.4,253.3 34.1,253.3 34.8,253.3 35.5,253.3 36.2,253.3 36.9,253.3 37.6,253.3 38.3,253.3 39.0,253.3 39.7,253.3 40.4,253.3 41.1,253.3 41.8,253.3 42.5,253.3 43.2,253.3 43.9,253.3 44.6,253.3 45.3,253.3 46.0,253.3 46.7,253.3 47.4,253.3 48.1,253.3 48.8,253.3 49.5,253.3 50.2,253.3 50.9,253.3 51.6,253.3 52.4,253.3 53.1,253.3 53.8,253.3 54.5,253.3 55.2,253.3 55.9,253.3 56.6,253.3 57.3,253.3 58.0,253.3 58.7,253.3 59.4,253.3 60.1,253.3 60.8,253.3 61.5,253.3 62.2,253.3 62.9,253.3 63.6,253.3 64.3,253.3 65.0,253.2 65.7,253.1 66.4,253.2 67.1,253.3 67.8,253.2 68.5,253.1 69.2,253.0 69.9,252.9 70.6,252.3 71.3,251.5 72.0,251.5 72.7,251.5 73.4,249.8 74.1,247.6 74.8,246.9 75.5,246.0 76.2,243.1 76.9,239.5 77.6,237.4 78.3,235.2 79.0,232.0 79.7,228.6 80.4,226.5 81.1,224.4 81.8,219.3 82.5,214.1 83.2,209.7 83.9,205.6 84.6,201.0 85.3,197.0 86.0,196.3 86.7,196.3 87.4,198.4 88.1,201.7 88.9,202.3 89.6,204.2 90.3,207.9 91.0,212.3 91.7,219.6 92.4,226.5 93.1,231.8 93.8,236.6 94.5,240.4 95.2,243.6 95.9,245.3 96.6,246.8 97.3,248.7 98.0,250.2 98.7,251.7 99.4,252.7 100.1,252.7 100.8,252.7 101.5,253.0 102.2,253.2 102.9,253.3 103.6,253.3 104.3,253.2 105.0,253.2 105.7,253.2 106.4,253.3 107.1,253.3" fill="none" stroke="#34363f" stroke-width="1.2" stroke-linejoin="round"/>
<path d="M33.4,253.3 34.1,253.3 34.8,253.3 35.5,253.3 36.2,253.3 36.9,253.3 37.6,253.3 38.3,253.3 39.0,253.3 39.7,253.3 40.4,253.3 41.1,253.3 41.8,253.3 42.5,253.3 43.2,253.3 43.9,253.3 44.6,253.3 45.3,253.3 46.0,253.3 46.7,253.3 47.4,253.3 48.1,253.3 48.8,253.3 49.5,253.3 50.2,253.3 50.9,253.3 51.6,253.3 52.4,253.3 53.1,253.3 53.8,253.3 54.5,253.3 55.2,253.3 55.9,253.3 56.6,253.3 57.3,253.3 58.0,253.3 58.7,253.3 59.4,253.3 60.1,253.3 60.8,253.3 61.5,253.3 62.2,253.3 62.9,253.3 63.6,253.2 64.3,253.2 65.0,253.2 65.7,253.2 66.4,253.1 67.1,252.9 67.8,253.1 68.5,253.3 69.2,253.3 69.9,253.2 70.6,252.5 71.3,251.4 72.0,250.7 72.7,250.0 73.4,249.1 74.1,248.1 74.8,246.3 75.5,244.1 76.2,242.7 76.9,241.0 77.6,236.8 78.3,232.0 79.0,228.1 79.7,223.9 80.4,218.1 81.1,212.2 81.8,205.8 82.5,199.5 83.2,195.9 83.9,193.0 84.6,189.4 85.3,186.6 86.0,186.8 86.7,188.0 87.4,188.8 88.1,190.9 88.9,194.0 89.6,198.2 90.3,204.2 91.0,210.7 91.7,215.2 92.4,219.7 93.1,227.4 93.8,234.2 94.5,236.5 95.2,238.7 95.9,243.6 96.6,247.4 97.3,248.4 98.0,249.2 98.7,250.9 99.4,252.1 100.1,252.1 100.8,252.2 101.5,252.7 102.2,253.0 102.9,253.1 103.6,253.2 104.3,253.2 105.0,253.2 105.7,253.3 106.4,253.3 107.1,253.3" fill="none" stroke="#1d3f73" stroke-width="1.2" stroke-linejoin="round"/>
<rect x="33.4" y="179.6" width="73.7" height="73.7" fill="none" stroke="#1a1a1a" stroke-width="1.1"/>
<line x1="30.8" y1="253.3" x2="33.4" y2="253.3" stroke="#1a1a1a" stroke-width="0.9"/>
<text x="27.8" y="255.3" font-size="5.8" text-anchor="end" fill="#1e1e1e" stroke="#1e1e1e" stroke-width="0.16" >0</text>
<line x1="32.1" y1="249.8" x2="33.4" y2="249.8" stroke="#1a1a1a" stroke-width="0.7"/>
<line x1="32.1" y1="246.29" x2="33.4" y2="246.29" stroke="#1a1a1a" stroke-width="0.7"/>
<line x1="32.1" y1="242.78" x2="33.4" y2="242.78" stroke="#1a1a1a" stroke-width="0.7"/>
<line x1="30.8" y1="239.28" x2="33.4" y2="239.28" stroke="#1a1a1a" stroke-width="0.9"/>
<text x="27.8" y="241.28" font-size="5.8" text-anchor="end" fill="#1e1e1e" stroke="#1e1e1e" stroke-width="0.16" >20</text>
<line x1="32.1" y1="235.78" x2="33.4" y2="235.78" stroke="#1a1a1a" stroke-width="0.7"/>
<line x1="32.1" y1="232.27" x2="33.4" y2="232.27" stroke="#1a1a1a" stroke-width="0.7"/>
<line x1="32.1" y1="228.76" x2="33.4" y2="228.76" stroke="#1a1a1a" stroke-width="0.7"/>
<line x1="30.8" y1="225.26" x2="33.4" y2="225.26" stroke="#1a1a1a" stroke-width="0.9"/>
<text x="27.8" y="227.26" font-size="5.8" text-anchor="end" fill="#1e1e1e" stroke="#1e1e1e" stroke-width="0.16" >40</text>
<line x1="32.1" y1="221.75" x2="33.4" y2="221.75" stroke="#1a1a1a" stroke-width="0.7"/>
<line x1="32.1" y1="218.25" x2="33.4" y2="218.25" stroke="#1a1a1a" stroke-width="0.7"/>
<line x1="32.1" y1="214.75" x2="33.4" y2="214.75" stroke="#1a1a1a" stroke-width="0.7"/>
<line x1="30.8" y1="211.24" x2="33.4" y2="211.24" stroke="#1a1a1a" stroke-width="0.9"/>
<text x="27.8" y="213.24" font-size="5.8" text-anchor="end" fill="#1e1e1e" stroke="#1e1e1e" stroke-width="0.16" >60</text>
<line x1="32.1" y1="207.73" x2="33.4" y2="207.73" stroke="#1a1a1a" stroke-width="0.7"/>
<line x1="32.1" y1="204.23" x2="33.4" y2="204.23" stroke="#1a1a1a" stroke-width="0.7"/>
<line x1="32.1" y1="200.72" x2="33.4" y2="200.72" stroke="#1a1a1a" stroke-width="0.7"/>
<line x1="30.8" y1="197.22" x2="33.4" y2="197.22" stroke="#1a1a1a" stroke-width="0.9"/>
<text x="27.8" y="199.22" font-size="5.8" text-anchor="end" fill="#1e1e1e" stroke="#1e1e1e" stroke-width="0.16" >80</text>
<line x1="32.1" y1="193.72" x2="33.4" y2="193.72" stroke="#1a1a1a" stroke-width="0.7"/>
<line x1="32.1" y1="190.21" x2="33.4" y2="190.21" stroke="#1a1a1a" stroke-width="0.7"/>
<line x1="32.1" y1="186.7" x2="33.4" y2="186.7" stroke="#1a1a1a" stroke-width="0.7"/>
<line x1="30.8" y1="183.2" x2="33.4" y2="183.2" stroke="#1a1a1a" stroke-width="0.9"/>
<text x="27.8" y="185.2" font-size="5.8" text-anchor="end" fill="#1e1e1e" stroke="#1e1e1e" stroke-width="0.16" >100</text>
<line x1="36.4" y1="253.3" x2="36.4" y2="255.7" stroke="#1a1a1a" stroke-width="0.9"/>
<text x="33.3" y="263.8" font-size="6" fill="#333">10<tspan dy="-2.4" font-size="4">2</tspan></text>
<line x1="43.08" y1="253.3" x2="43.08" y2="254.6" stroke="#1a1a1a" stroke-width="0.6"/>
<line x1="46.99" y1="253.3" x2="46.99" y2="254.6" stroke="#1a1a1a" stroke-width="0.6"/>
<line x1="49.77" y1="253.3" x2="49.77" y2="254.6" stroke="#1a1a1a" stroke-width="0.6"/>
<line x1="51.92" y1="253.3" x2="51.92" y2="254.6" stroke="#1a1a1a" stroke-width="0.6"/>
<line x1="53.67" y1="253.3" x2="53.67" y2="254.6" stroke="#1a1a1a" stroke-width="0.6"/>
<line x1="55.16" y1="253.3" x2="55.16" y2="254.6" stroke="#1a1a1a" stroke-width="0.6"/>
<line x1="56.45" y1="253.3" x2="56.45" y2="254.6" stroke="#1a1a1a" stroke-width="0.6"/>
<line x1="57.58" y1="253.3" x2="57.58" y2="254.6" stroke="#1a1a1a" stroke-width="0.6"/>
<line x1="58.6" y1="253.3" x2="58.6" y2="255.7" stroke="#1a1a1a" stroke-width="0.9"/>
<text x="55.5" y="263.8" font-size="6" fill="#333">10<tspan dy="-2.4" font-size="4">3</tspan></text>
<line x1="65.28" y1="253.3" x2="65.28" y2="254.6" stroke="#1a1a1a" stroke-width="0.6"/>
<line x1="69.19" y1="253.3" x2="69.19" y2="254.6" stroke="#1a1a1a" stroke-width="0.6"/>
<line x1="71.97" y1="253.3" x2="71.97" y2="254.6" stroke="#1a1a1a" stroke-width="0.6"/>
<line x1="74.12" y1="253.3" x2="74.12" y2="254.6" stroke="#1a1a1a" stroke-width="0.6"/>
<line x1="75.87" y1="253.3" x2="75.87" y2="254.6" stroke="#1a1a1a" stroke-width="0.6"/>
<line x1="77.36" y1="253.3" x2="77.36" y2="254.6" stroke="#1a1a1a" stroke-width="0.6"/>
<line x1="78.65" y1="253.3" x2="78.65" y2="254.6" stroke="#1a1a1a" stroke-width="0.6"/>
<line x1="79.78" y1="253.3" x2="79.78" y2="254.6" stroke="#1a1a1a" stroke-width="0.6"/>
<line x1="80.8" y1="253.3" x2="80.8" y2="255.7" stroke="#1a1a1a" stroke-width="0.9"/>
<text x="77.7" y="263.8" font-size="6" fill="#333">10<tspan dy="-2.4" font-size="4">4</tspan></text>
<line x1="87.48" y1="253.3" x2="87.48" y2="254.6" stroke="#1a1a1a" stroke-width="0.6"/>
<line x1="91.39" y1="253.3" x2="91.39" y2="254.6" stroke="#1a1a1a" stroke-width="0.6"/>
<line x1="94.17" y1="253.3" x2="94.17" y2="254.6" stroke="#1a1a1a" stroke-width="0.6"/>
<line x1="96.32" y1="253.3" x2="96.32" y2="254.6" stroke="#1a1a1a" stroke-width="0.6"/>
<line x1="98.07" y1="253.3" x2="98.07" y2="254.6" stroke="#1a1a1a" stroke-width="0.6"/>
<line x1="99.56" y1="253.3" x2="99.56" y2="254.6" stroke="#1a1a1a" stroke-width="0.6"/>
<line x1="100.85" y1="253.3" x2="100.85" y2="254.6" stroke="#1a1a1a" stroke-width="0.6"/>
<line x1="101.98" y1="253.3" x2="101.98" y2="254.6" stroke="#1a1a1a" stroke-width="0.6"/>
<line x1="103" y1="253.3" x2="103" y2="255.7" stroke="#1a1a1a" stroke-width="0.9"/>
<text x="99.9" y="263.8" font-size="6" fill="#333">10<tspan dy="-2.4" font-size="4">5</tspan></text>
<line x1="34.25" y1="253.3" x2="34.25" y2="254.6" stroke="#1a1a1a" stroke-width="0.6"/>
<line x1="35.38" y1="253.3" x2="35.38" y2="254.6" stroke="#1a1a1a" stroke-width="0.6"/>
<path d="M131.6,253.2 132.3,253.1 133.0,253.0 133.7,253.0 134.4,253.0 135.1,252.8 135.8,252.5 136.5,252.2 137.2,251.8 137.9,251.6 138.6,251.3 139.4,250.6 140.1,249.8 140.8,249.9 141.5,250.2 142.2,249.3 142.9,248.3 143.6,247.9 144.3,247.6 145.0,247.0 145.7,246.3 146.4,245.4 147.1,244.4 147.8,243.5 148.5,242.5 149.2,241.4 149.9,240.1 150.6,238.6 151.3,236.7 152.0,233.0 152.7,228.5 153.4,225.7 154.2,222.3 154.9,219.4 155.6,216.4 156.3,208.6 157.0,200.5 157.7,196.3 158.4,193.3 159.1,190.4 159.8,189.4 160.5,188.1 161.2,189.6 161.9,197.8 162.6,207.3 163.3,217.3 164.0,226.9 164.7,232.0 165.4,236.5 166.1,242.1 166.8,246.2 167.5,249.2 168.2,251.2 169.0,252.1 169.7,252.7 170.4,253.0 171.1,253.2 171.8,253.2 172.5,253.2 173.2,253.3 173.9,253.3 174.6,253.3 175.3,253.3 176.0,253.3 176.7,253.3 177.4,253.3 178.1,253.3 178.8,253.3 179.5,253.3 180.2,253.3 180.9,253.3 181.6,253.3 182.3,253.3 183.1,253.3 183.8,253.3 184.5,253.3 185.2,253.3 185.9,253.3 186.6,253.3 187.3,253.3 188.0,253.3 188.7,253.3 189.4,253.3 190.1,253.3 190.8,253.3 191.5,253.3 192.2,253.3 192.9,253.3 193.6,253.3 194.3,253.3 195.0,253.3 195.7,253.3 196.4,253.3 197.1,253.3 197.9,253.3 198.6,253.3 199.3,253.3 200.0,253.3 200.7,253.3 201.4,253.3 202.1,253.3 202.8,253.3 203.5,253.3 204.2,253.3 204.9,253.3 L204.9,253.3 L131.6,253.3 Z" fill="#8e94ad" stroke="none"/>
<path d="M131.6,253.1 132.3,253.1 133.0,253.1 133.7,253.1 134.4,253.0 135.1,252.8 135.8,252.5 136.5,252.4 137.2,252.4 137.9,252.1 138.6,251.8 139.4,251.5 140.1,251.2 140.8,250.1 141.5,248.7 142.2,248.7 142.9,248.8 143.6,247.4 144.3,246.0 145.0,245.6 145.7,245.2 146.4,244.8 147.1,244.5 147.8,243.3 148.5,242.0 149.2,241.3 149.9,240.4 150.6,239.1 151.3,237.5 152.0,236.4 152.7,234.8 153.4,230.3 154.2,224.8 154.9,219.0 155.6,212.6 156.3,207.2 157.0,202.0 157.7,196.3 158.4,191.5 159.1,188.2 159.8,186.6 160.5,189.3 161.2,194.6 161.9,198.5 162.6,204.2 163.3,216.2 164.0,227.3 164.7,233.0 165.4,238.0 166.1,244.1 166.8,248.5 167.5,249.5 168.2,250.2 169.0,251.6 169.7,252.4 170.4,252.6 171.1,252.8 171.8,253.1 172.5,253.3 173.2,253.3 173.9,253.3 174.6,253.3 175.3,253.3 176.0,253.3 176.7,253.3 177.4,253.3 178.1,253.3 178.8,253.3 179.5,253.3 180.2,253.3 180.9,253.3 181.6,253.3 182.3,253.3 183.1,253.3 183.8,253.3 184.5,253.3 185.2,253.3 185.9,253.3 186.6,253.3 187.3,253.3 188.0,253.3 188.7,253.3 189.4,253.3 190.1,253.3 190.8,253.3 191.5,253.3 192.2,253.3 192.9,253.3 193.6,253.3 194.3,253.3 195.0,253.3 195.7,253.3 196.4,253.3 197.1,253.3 197.9,253.3 198.6,253.3 199.3,253.3 200.0,253.3 200.7,253.3 201.4,253.3 202.1,253.3 202.8,253.3 203.5,253.3 204.2,253.3 204.9,253.3 L204.9,253.3 L131.6,253.3 Z" fill="#9096b6" stroke="none"/>
<path d="M131.6,253.2 132.3,253.1 133.0,253.0 133.7,253.0 134.4,253.0 135.1,252.8 135.8,252.5 136.5,252.2 137.2,251.8 137.9,251.6 138.6,251.3 139.4,250.6 140.1,249.8 140.8,249.9 141.5,250.2 142.2,249.3 142.9,248.3 143.6,247.9 144.3,247.6 145.0,247.0 145.7,246.3 146.4,245.4 147.1,244.4 147.8,243.5 148.5,242.5 149.2,241.4 149.9,240.1 150.6,238.6 151.3,236.7 152.0,233.0 152.7,228.5 153.4,225.7 154.2,222.3 154.9,219.4 155.6,216.4 156.3,208.6 157.0,200.5 157.7,196.3 158.4,193.3 159.1,190.4 159.8,189.4 160.5,188.1 161.2,189.6 161.9,197.8 162.6,207.3 163.3,217.3 164.0,226.9 164.7,232.0 165.4,236.5 166.1,242.1 166.8,246.2 167.5,249.2 168.2,251.2 169.0,252.1 169.7,252.7 170.4,253.0 171.1,253.2 171.8,253.2 172.5,253.2 173.2,253.3 173.9,253.3 174.6,253.3 175.3,253.3 176.0,253.3 176.7,253.3 177.4,253.3 178.1,253.3 178.8,253.3 179.5,253.3 180.2,253.3 180.9,253.3 181.6,253.3 182.3,253.3 183.1,253.3 183.8,253.3 184.5,253.3 185.2,253.3 185.9,253.3 186.6,253.3 187.3,253.3 188.0,253.3 188.7,253.3 189.4,253.3 190.1,253.3 190.8,253.3 191.5,253.3 192.2,253.3 192.9,253.3 193.6,253.3 194.3,253.3 195.0,253.3 195.7,253.3 196.4,253.3 197.1,253.3 197.9,253.3 198.6,253.3 199.3,253.3 200.0,253.3 200.7,253.3 201.4,253.3 202.1,253.3 202.8,253.3 203.5,253.3 204.2,253.3 204.9,253.3" fill="none" stroke="#34363f" stroke-width="1.2" stroke-linejoin="round"/>
<path d="M131.6,253.1 132.3,253.1 133.0,253.1 133.7,253.1 134.4,253.0 135.1,252.8 135.8,252.5 136.5,252.4 137.2,252.4 137.9,252.1 138.6,251.8 139.4,251.5 140.1,251.2 140.8,250.1 141.5,248.7 142.2,248.7 142.9,248.8 143.6,247.4 144.3,246.0 145.0,245.6 145.7,245.2 146.4,244.8 147.1,244.5 147.8,243.3 148.5,242.0 149.2,241.3 149.9,240.4 150.6,239.1 151.3,237.5 152.0,236.4 152.7,234.8 153.4,230.3 154.2,224.8 154.9,219.0 155.6,212.6 156.3,207.2 157.0,202.0 157.7,196.3 158.4,191.5 159.1,188.2 159.8,186.6 160.5,189.3 161.2,194.6 161.9,198.5 162.6,204.2 163.3,216.2 164.0,227.3 164.7,233.0 165.4,238.0 166.1,244.1 166.8,248.5 167.5,249.5 168.2,250.2 169.0,251.6 169.7,252.4 170.4,252.6 171.1,252.8 171.8,253.1 172.5,253.3 173.2,253.3 173.9,253.3 174.6,253.3 175.3,253.3 176.0,253.3 176.7,253.3 177.4,253.3 178.1,253.3 178.8,253.3 179.5,253.3 180.2,253.3 180.9,253.3 181.6,253.3 182.3,253.3 183.1,253.3 183.8,253.3 184.5,253.3 185.2,253.3 185.9,253.3 186.6,253.3 187.3,253.3 188.0,253.3 188.7,253.3 189.4,253.3 190.1,253.3 190.8,253.3 191.5,253.3 192.2,253.3 192.9,253.3 193.6,253.3 194.3,253.3 195.0,253.3 195.7,253.3 196.4,253.3 197.1,253.3 197.9,253.3 198.6,253.3 199.3,253.3 200.0,253.3 200.7,253.3 201.4,253.3 202.1,253.3 202.8,253.3 203.5,253.3 204.2,253.3 204.9,253.3" fill="none" stroke="#1d3f73" stroke-width="1.2" stroke-linejoin="round"/>
<path d="M131.6,253.3 132.3,253.3 133.0,253.3 133.7,253.3 134.4,253.3 135.1,253.3 135.8,253.3 136.5,253.3 137.2,253.3 137.9,253.3 138.6,253.3 139.4,253.3 140.1,253.3 140.8,253.3 141.5,253.3 142.2,253.3 142.9,253.3 143.6,253.3 144.3,253.3 145.0,253.3 145.7,253.3 146.4,253.3 147.1,253.3 147.8,253.3 148.5,253.3 149.2,253.3 149.9,253.3 150.6,253.3 151.3,253.3 152.0,253.3 152.7,253.3 153.4,253.3 154.2,253.3 154.9,253.3 155.6,253.3 156.3,253.3 157.0,253.3 157.7,253.3 158.4,253.3 159.1,253.3 159.8,253.3 160.5,253.3 161.2,253.3 161.9,253.3 162.6,253.3 163.3,253.3 164.0,253.2 164.7,253.2 165.4,253.2 166.1,253.0 166.8,252.8 167.5,252.7 168.2,252.7 169.0,252.3 169.7,251.8 170.4,250.8 171.1,249.5 171.8,248.6 172.5,247.5 173.2,244.5 173.9,240.6 174.6,237.6 175.3,234.2 176.0,228.3 176.7,221.7 177.4,217.8 178.1,214.2 178.8,207.0 179.5,200.0 180.2,197.9 180.9,196.9 181.6,192.8 182.3,190.1 183.1,189.8 183.8,191.3 184.5,194.4 185.2,198.8 185.9,203.0 186.6,208.0 187.3,215.0 188.0,221.8 188.7,230.5 189.4,237.9 190.1,241.6 190.8,244.6 191.5,246.3 192.2,247.7 192.9,249.6 193.6,251.0 194.3,252.2 195.0,252.9 195.7,252.9 196.4,252.9 197.1,253.2 197.9,253.3 198.6,253.3 199.3,253.3 200.0,253.3 200.7,253.3 201.4,253.3 202.1,253.3 202.8,253.3 203.5,253.3 204.2,253.3 204.9,253.3" fill="none" stroke="#34363f" stroke-width="1.2" stroke-linejoin="round"/>
<path d="M131.6,253.3 132.3,253.3 133.0,253.3 133.7,253.3 134.4,253.3 135.1,253.3 135.8,253.3 136.5,253.3 137.2,253.3 137.9,253.3 138.6,253.3 139.4,253.3 140.1,253.3 140.8,253.3 141.5,253.3 142.2,253.3 142.9,253.3 143.6,253.3 144.3,253.3 145.0,253.3 145.7,253.3 146.4,253.3 147.1,253.3 147.8,253.3 148.5,253.3 149.2,253.3 149.9,253.3 150.6,253.3 151.3,253.3 152.0,253.3 152.7,253.3 153.4,253.3 154.2,253.2 154.9,253.2 155.6,253.2 156.3,253.1 157.0,253.0 157.7,252.9 158.4,252.8 159.1,252.4 159.8,251.9 160.5,251.9 161.2,251.9 161.9,250.5 162.6,248.6 163.3,248.0 164.0,247.3 164.7,244.8 165.4,241.8 166.1,239.7 166.8,237.3 167.5,233.9 168.2,230.1 169.0,226.3 169.7,222.3 170.4,215.5 171.1,208.3 171.8,206.3 172.5,204.8 173.2,200.8 173.9,197.3 174.6,192.2 175.3,187.7 176.0,185.9 176.7,184.9 177.4,185.8 178.1,189.1 178.8,195.4 179.5,203.0 180.2,209.8 180.9,216.7 181.6,222.1 182.3,227.0 183.1,233.9 183.8,239.5 184.5,241.7 185.2,243.2 185.9,245.1 186.6,246.4 187.3,247.7 188.0,248.7 188.7,249.8 189.4,250.8 190.1,250.3 190.8,249.9 191.5,250.8 192.2,251.6 192.9,251.9 193.6,252.2 194.3,252.5 195.0,252.8 195.7,253.0 196.4,253.1 197.1,253.1 197.9,253.1 198.6,253.2 199.3,253.2 200.0,253.3 200.7,253.3 201.4,253.3 202.1,253.3 202.8,253.3 203.5,253.3 204.2,253.3 204.9,253.3" fill="none" stroke="#1d3f73" stroke-width="1.2" stroke-linejoin="round"/>
<rect x="131.6" y="179.6" width="73.3" height="73.7" fill="none" stroke="#1a1a1a" stroke-width="1.1"/>
<line x1="129" y1="253.3" x2="131.6" y2="253.3" stroke="#1a1a1a" stroke-width="0.9"/>
<text x="126" y="255.3" font-size="5.8" text-anchor="end" fill="#1e1e1e" stroke="#1e1e1e" stroke-width="0.16" >0</text>
<line x1="130.3" y1="249.8" x2="131.6" y2="249.8" stroke="#1a1a1a" stroke-width="0.7"/>
<line x1="130.3" y1="246.29" x2="131.6" y2="246.29" stroke="#1a1a1a" stroke-width="0.7"/>
<line x1="130.3" y1="242.78" x2="131.6" y2="242.78" stroke="#1a1a1a" stroke-width="0.7"/>
<line x1="129" y1="239.28" x2="131.6" y2="239.28" stroke="#1a1a1a" stroke-width="0.9"/>
<text x="126" y="241.28" font-size="5.8" text-anchor="end" fill="#1e1e1e" stroke="#1e1e1e" stroke-width="0.16" >20</text>
<line x1="130.3" y1="235.78" x2="131.6" y2="235.78" stroke="#1a1a1a" stroke-width="0.7"/>
<line x1="130.3" y1="232.27" x2="131.6" y2="232.27" stroke="#1a1a1a" stroke-width="0.7"/>
<line x1="130.3" y1="228.76" x2="131.6" y2="228.76" stroke="#1a1a1a" stroke-width="0.7"/>
<line x1="129" y1="225.26" x2="131.6" y2="225.26" stroke="#1a1a1a" stroke-width="0.9"/>
<text x="126" y="227.26" font-size="5.8" text-anchor="end" fill="#1e1e1e" stroke="#1e1e1e" stroke-width="0.16" >40</text>
<line x1="130.3" y1="221.75" x2="131.6" y2="221.75" stroke="#1a1a1a" stroke-width="0.7"/>
<line x1="130.3" y1="218.25" x2="131.6" y2="218.25" stroke="#1a1a1a" stroke-width="0.7"/>
<line x1="130.3" y1="214.75" x2="131.6" y2="214.75" stroke="#1a1a1a" stroke-width="0.7"/>
<line x1="129" y1="211.24" x2="131.6" y2="211.24" stroke="#1a1a1a" stroke-width="0.9"/>
<text x="126" y="213.24" font-size="5.8" text-anchor="end" fill="#1e1e1e" stroke="#1e1e1e" stroke-width="0.16" >60</text>
<line x1="130.3" y1="207.73" x2="131.6" y2="207.73" stroke="#1a1a1a" stroke-width="0.7"/>
<line x1="130.3" y1="204.23" x2="131.6" y2="204.23" stroke="#1a1a1a" stroke-width="0.7"/>
<line x1="130.3" y1="200.72" x2="131.6" y2="200.72" stroke="#1a1a1a" stroke-width="0.7"/>
<line x1="129" y1="197.22" x2="131.6" y2="197.22" stroke="#1a1a1a" stroke-width="0.9"/>
<text x="126" y="199.22" font-size="5.8" text-anchor="end" fill="#1e1e1e" stroke="#1e1e1e" stroke-width="0.16" >80</text>
<line x1="130.3" y1="193.72" x2="131.6" y2="193.72" stroke="#1a1a1a" stroke-width="0.7"/>
<line x1="130.3" y1="190.21" x2="131.6" y2="190.21" stroke="#1a1a1a" stroke-width="0.7"/>
<line x1="130.3" y1="186.7" x2="131.6" y2="186.7" stroke="#1a1a1a" stroke-width="0.7"/>
<line x1="129" y1="183.2" x2="131.6" y2="183.2" stroke="#1a1a1a" stroke-width="0.9"/>
<text x="126" y="185.2" font-size="5.8" text-anchor="end" fill="#1e1e1e" stroke="#1e1e1e" stroke-width="0.16" >100</text>
<line x1="134.6" y1="253.3" x2="134.6" y2="255.7" stroke="#1a1a1a" stroke-width="0.9"/>
<text x="131.5" y="263.8" font-size="6" fill="#333">10<tspan dy="-2.4" font-size="4">2</tspan></text>
<line x1="141.28" y1="253.3" x2="141.28" y2="254.6" stroke="#1a1a1a" stroke-width="0.6"/>
<line x1="145.19" y1="253.3" x2="145.19" y2="254.6" stroke="#1a1a1a" stroke-width="0.6"/>
<line x1="147.97" y1="253.3" x2="147.97" y2="254.6" stroke="#1a1a1a" stroke-width="0.6"/>
<line x1="150.12" y1="253.3" x2="150.12" y2="254.6" stroke="#1a1a1a" stroke-width="0.6"/>
<line x1="151.87" y1="253.3" x2="151.87" y2="254.6" stroke="#1a1a1a" stroke-width="0.6"/>
<line x1="153.36" y1="253.3" x2="153.36" y2="254.6" stroke="#1a1a1a" stroke-width="0.6"/>
<line x1="154.65" y1="253.3" x2="154.65" y2="254.6" stroke="#1a1a1a" stroke-width="0.6"/>
<line x1="155.78" y1="253.3" x2="155.78" y2="254.6" stroke="#1a1a1a" stroke-width="0.6"/>
<line x1="156.8" y1="253.3" x2="156.8" y2="255.7" stroke="#1a1a1a" stroke-width="0.9"/>
<text x="153.7" y="263.8" font-size="6" fill="#333">10<tspan dy="-2.4" font-size="4">3</tspan></text>
<line x1="163.48" y1="253.3" x2="163.48" y2="254.6" stroke="#1a1a1a" stroke-width="0.6"/>
<line x1="167.39" y1="253.3" x2="167.39" y2="254.6" stroke="#1a1a1a" stroke-width="0.6"/>
<line x1="170.17" y1="253.3" x2="170.17" y2="254.6" stroke="#1a1a1a" stroke-width="0.6"/>
<line x1="172.32" y1="253.3" x2="172.32" y2="254.6" stroke="#1a1a1a" stroke-width="0.6"/>
<line x1="174.07" y1="253.3" x2="174.07" y2="254.6" stroke="#1a1a1a" stroke-width="0.6"/>
<line x1="175.56" y1="253.3" x2="175.56" y2="254.6" stroke="#1a1a1a" stroke-width="0.6"/>
<line x1="176.85" y1="253.3" x2="176.85" y2="254.6" stroke="#1a1a1a" stroke-width="0.6"/>
<line x1="177.98" y1="253.3" x2="177.98" y2="254.6" stroke="#1a1a1a" stroke-width="0.6"/>
<line x1="179" y1="253.3" x2="179" y2="255.7" stroke="#1a1a1a" stroke-width="0.9"/>
<text x="175.9" y="263.8" font-size="6" fill="#333">10<tspan dy="-2.4" font-size="4">4</tspan></text>
<line x1="185.68" y1="253.3" x2="185.68" y2="254.6" stroke="#1a1a1a" stroke-width="0.6"/>
<line x1="189.59" y1="253.3" x2="189.59" y2="254.6" stroke="#1a1a1a" stroke-width="0.6"/>
<line x1="192.37" y1="253.3" x2="192.37" y2="254.6" stroke="#1a1a1a" stroke-width="0.6"/>
<line x1="194.52" y1="253.3" x2="194.52" y2="254.6" stroke="#1a1a1a" stroke-width="0.6"/>
<line x1="196.27" y1="253.3" x2="196.27" y2="254.6" stroke="#1a1a1a" stroke-width="0.6"/>
<line x1="197.76" y1="253.3" x2="197.76" y2="254.6" stroke="#1a1a1a" stroke-width="0.6"/>
<line x1="199.05" y1="253.3" x2="199.05" y2="254.6" stroke="#1a1a1a" stroke-width="0.6"/>
<line x1="200.18" y1="253.3" x2="200.18" y2="254.6" stroke="#1a1a1a" stroke-width="0.6"/>
<line x1="201.2" y1="253.3" x2="201.2" y2="255.7" stroke="#1a1a1a" stroke-width="0.9"/>
<text x="198.1" y="263.8" font-size="6" fill="#333">10<tspan dy="-2.4" font-size="4">5</tspan></text>
<line x1="132.45" y1="253.3" x2="132.45" y2="254.6" stroke="#1a1a1a" stroke-width="0.6"/>
<line x1="133.58" y1="253.3" x2="133.58" y2="254.6" stroke="#1a1a1a" stroke-width="0.6"/>
<text x="33.3" y="274.6" font-size="6.6" text-anchor="start" fill="#1a1a1a" stroke="#1a1a1a" stroke-width="0.38" textLength="13" lengthAdjust="spacingAndGlyphs" >JAM2</text>
<line x1="54.5" y1="272.2" x2="201.5" y2="272.2" stroke="#1a1a1a" stroke-width="1.15"/>
<path d="M205.5,272.2 L200.3,270 L201.3,272.2 L200.3,274.4 Z" fill="#1a1a1a"/>
<text x="33.6" y="300" font-size="5.6" text-anchor="start" fill="#444" stroke="#444" stroke-width="0.16" >WT:</text>
<text x="78.8" y="300" font-size="5.6" text-anchor="start" fill="#444" stroke="#444" stroke-width="0.16" >shRNA:</text>
<rect x="33.4" y="305.6" width="14.2" height="4.3" fill="#73778b" stroke="#4a4c5a" stroke-width="0.8"/>
<rect x="79.3" y="305.6" width="14.4" height="4" fill="#3a64a8" stroke="#1f3f73" stroke-width="0.8"/>
<text x="50.2" y="309.8" font-size="5.6" text-anchor="start" fill="#444" stroke="#444" stroke-width="0.16" >isotype</text>
<text x="96" y="309.8" font-size="5.6" text-anchor="start" fill="#444" stroke="#444" stroke-width="0.16" >isotype</text>
<line x1="33.4" y1="316.1" x2="47.6" y2="316.1" stroke="#2f3240" stroke-width="1.1"/>
<line x1="79.3" y1="316.1" x2="93.7" y2="316.1" stroke="#2a5a95" stroke-width="1.1"/>
<text x="50.2" y="318.3" font-size="5.6" text-anchor="start" fill="#444" stroke="#444" stroke-width="0.16" >JAM2</text>
<text x="96" y="318.3" font-size="5.6" text-anchor="start" fill="#444" stroke="#444" stroke-width="0.16" >JAM2</text>
<text x="284.86" y="184.4" font-size="7.1" text-anchor="middle" fill="#141414" stroke="#141414" stroke-width="0.16" >shRen</text>
<line x1="249.3" y1="189.9" x2="249.3" y2="254" stroke="#222" stroke-width="1.1"/>
<line x1="248.8" y1="253.5" x2="319.8" y2="253.5" stroke="#222" stroke-width="1.1"/>
<line x1="246.3" y1="253.5" x2="249.3" y2="253.5" stroke="#222" stroke-width="0.9"/>
<text x="243.9" y="255.6" font-size="6" text-anchor="end" fill="#1e1e1e" stroke="#1e1e1e" stroke-width="0.16" >0</text>
<line x1="246.3" y1="228.82" x2="249.3" y2="228.82" stroke="#222" stroke-width="0.9"/>
<text x="243.9" y="230.92" font-size="6" text-anchor="end" fill="#1e1e1e" stroke="#1e1e1e" stroke-width="0.16" >50</text>
<line x1="246.3" y1="204.15" x2="249.3" y2="204.15" stroke="#222" stroke-width="0.9"/>
<text x="243.9" y="206.25" font-size="6" text-anchor="end" fill="#1e1e1e" stroke="#1e1e1e" stroke-width="0.16" >100</text>
<line x1="249.3" y1="253.5" x2="249.3" y2="255.8" stroke="#222" stroke-width="0.9"/>
<text x="249.3" y="264.7" font-size="5.8" text-anchor="middle" fill="#1e1e1e" stroke="#1e1e1e" stroke-width="0.16" >0</text>
<line x1="260.62" y1="253.5" x2="260.62" y2="255.8" stroke="#222" stroke-width="0.9"/>
<text x="260.62" y="264.7" font-size="5.8" text-anchor="middle" fill="#1e1e1e" stroke="#1e1e1e" stroke-width="0.16" >2</text>
<line x1="271.94" y1="253.5" x2="271.94" y2="255.8" stroke="#222" stroke-width="0.9"/>
<text x="271.94" y="264.7" font-size="5.8" text-anchor="middle" fill="#1e1e1e" stroke="#1e1e1e" stroke-width="0.16" >4</text>
<line x1="283.26" y1="253.5" x2="283.26" y2="255.8" stroke="#222" stroke-width="0.9"/>
<text x="283.26" y="264.7" font-size="5.8" text-anchor="middle" fill="#1e1e1e" stroke="#1e1e1e" stroke-width="0.16" >6</text>
<line x1="294.58" y1="253.5" x2="294.58" y2="255.8" stroke="#222" stroke-width="0.9"/>
<text x="294.58" y="264.7" font-size="5.8" text-anchor="middle" fill="#1e1e1e" stroke="#1e1e1e" stroke-width="0.16" >8</text>
<line x1="305.9" y1="253.5" x2="305.9" y2="255.8" stroke="#222" stroke-width="0.9"/>
<text x="305.9" y="264.7" font-size="5.8" text-anchor="middle" fill="#1e1e1e" stroke="#1e1e1e" stroke-width="0.16" >10</text>
<line x1="317.22" y1="253.5" x2="317.22" y2="255.8" stroke="#222" stroke-width="0.9"/>
<text x="317.22" y="264.7" font-size="5.8" text-anchor="middle" fill="#1e1e1e" stroke="#1e1e1e" stroke-width="0.16" >12</text>
<polyline points="254.96,204.15 288.92,204.15 317.22,204.15" fill="none" stroke="#727272" stroke-width="1.05"/>
<polyline points="254.96,202.67 288.92,207.6 317.22,209.09" fill="none" stroke="#2a5a90" stroke-width="1.4"/>
<circle cx="254.96" cy="204.15" r="1.85" fill="#fff" stroke="#555" stroke-width="0.9"/>
<circle cx="288.92" cy="204.15" r="1.85" fill="#fff" stroke="#555" stroke-width="0.9"/>
<circle cx="317.22" cy="204.15" r="1.85" fill="#fff" stroke="#555" stroke-width="0.9"/>
<circle cx="254.96" cy="202.67" r="2" fill="#fff" stroke="#2a5a90" stroke-width="0.9"/>
<circle cx="288.92" cy="207.6" r="2" fill="#fff" stroke="#2a5a90" stroke-width="0.9"/>
<circle cx="317.22" cy="209.09" r="2" fill="#fff" stroke="#2a5a90" stroke-width="0.9"/>
<text x="381.16" y="184.4" font-size="7.1" text-anchor="middle" fill="#141414" stroke="#141414" stroke-width="0.16" >shRELA#1</text>
<line x1="345.6" y1="189.9" x2="345.6" y2="254" stroke="#222" stroke-width="1.1"/>
<line x1="345.1" y1="253.5" x2="416.5" y2="253.5" stroke="#222" stroke-width="1.1"/>
<line x1="342.6" y1="253.5" x2="345.6" y2="253.5" stroke="#222" stroke-width="0.9"/>
<text x="340.2" y="255.6" font-size="6" text-anchor="end" fill="#1e1e1e" stroke="#1e1e1e" stroke-width="0.16" >0</text>
<line x1="342.6" y1="228.82" x2="345.6" y2="228.82" stroke="#222" stroke-width="0.9"/>
<text x="340.2" y="230.92" font-size="6" text-anchor="end" fill="#1e1e1e" stroke="#1e1e1e" stroke-width="0.16" >50</text>
<line x1="342.6" y1="204.15" x2="345.6" y2="204.15" stroke="#222" stroke-width="0.9"/>
<text x="340.2" y="206.25" font-size="6" text-anchor="end" fill="#1e1e1e" stroke="#1e1e1e" stroke-width="0.16" >100</text>
<line x1="345.6" y1="253.5" x2="345.6" y2="255.8" stroke="#222" stroke-width="0.9"/>
<text x="345.6" y="264.7" font-size="5.8" text-anchor="middle" fill="#1e1e1e" stroke="#1e1e1e" stroke-width="0.16" >0</text>
<line x1="356.92" y1="253.5" x2="356.92" y2="255.8" stroke="#222" stroke-width="0.9"/>
<text x="356.92" y="264.7" font-size="5.8" text-anchor="middle" fill="#1e1e1e" stroke="#1e1e1e" stroke-width="0.16" >2</text>
<line x1="368.24" y1="253.5" x2="368.24" y2="255.8" stroke="#222" stroke-width="0.9"/>
<text x="368.24" y="264.7" font-size="5.8" text-anchor="middle" fill="#1e1e1e" stroke="#1e1e1e" stroke-width="0.16" >4</text>
<line x1="379.56" y1="253.5" x2="379.56" y2="255.8" stroke="#222" stroke-width="0.9"/>
<text x="379.56" y="264.7" font-size="5.8" text-anchor="middle" fill="#1e1e1e" stroke="#1e1e1e" stroke-width="0.16" >6</text>
<line x1="390.88" y1="253.5" x2="390.88" y2="255.8" stroke="#222" stroke-width="0.9"/>
<text x="390.88" y="264.7" font-size="5.8" text-anchor="middle" fill="#1e1e1e" stroke="#1e1e1e" stroke-width="0.16" >8</text>
<line x1="402.2" y1="253.5" x2="402.2" y2="255.8" stroke="#222" stroke-width="0.9"/>
<text x="402.2" y="264.7" font-size="5.8" text-anchor="middle" fill="#1e1e1e" stroke="#1e1e1e" stroke-width="0.16" >10</text>
<line x1="413.52" y1="253.5" x2="413.52" y2="255.8" stroke="#222" stroke-width="0.9"/>
<text x="413.52" y="264.7" font-size="5.8" text-anchor="middle" fill="#1e1e1e" stroke="#1e1e1e" stroke-width="0.16" >12</text>
<polyline points="351.26,204.15 385.22,204.15 413.52,204.15" fill="none" stroke="#727272" stroke-width="1.05"/>
<polyline points="351.26,208.59 385.22,220.19 413.52,232.97" fill="none" stroke="#2a5a90" stroke-width="1.4"/>
<circle cx="351.26" cy="204.15" r="1.85" fill="#fff" stroke="#555" stroke-width="0.9"/>
<circle cx="385.22" cy="204.15" r="1.85" fill="#fff" stroke="#555" stroke-width="0.9"/>
<circle cx="413.52" cy="204.15" r="1.85" fill="#fff" stroke="#555" stroke-width="0.9"/>
<circle cx="351.26" cy="208.59" r="2" fill="#fff" stroke="#2a5a90" stroke-width="0.9"/>
<circle cx="385.22" cy="220.19" r="2" fill="#fff" stroke="#2a5a90" stroke-width="0.9"/>
<circle cx="413.52" cy="232.97" r="2" fill="#fff" stroke="#2a5a90" stroke-width="0.9"/>
<text x="477.96" y="184.4" font-size="7.1" text-anchor="middle" fill="#141414" stroke="#141414" stroke-width="0.16" >shRELA#2</text>
<line x1="442.4" y1="189.9" x2="442.4" y2="254" stroke="#222" stroke-width="1.1"/>
<line x1="441.9" y1="253.5" x2="513.3" y2="253.5" stroke="#222" stroke-width="1.1"/>
<line x1="439.4" y1="253.5" x2="442.4" y2="253.5" stroke="#222" stroke-width="0.9"/>
<text x="437" y="255.6" font-size="6" text-anchor="end" fill="#1e1e1e" stroke="#1e1e1e" stroke-width="0.16" >0</text>
<line x1="439.4" y1="228.82" x2="442.4" y2="228.82" stroke="#222" stroke-width="0.9"/>
<text x="437" y="230.92" font-size="6" text-anchor="end" fill="#1e1e1e" stroke="#1e1e1e" stroke-width="0.16" >50</text>
<line x1="439.4" y1="204.15" x2="442.4" y2="204.15" stroke="#222" stroke-width="0.9"/>
<text x="437" y="206.25" font-size="6" text-anchor="end" fill="#1e1e1e" stroke="#1e1e1e" stroke-width="0.16" >100</text>
<line x1="442.4" y1="253.5" x2="442.4" y2="255.8" stroke="#222" stroke-width="0.9"/>
<text x="442.4" y="264.7" font-size="5.8" text-anchor="middle" fill="#1e1e1e" stroke="#1e1e1e" stroke-width="0.16" >0</text>
<line x1="453.72" y1="253.5" x2="453.72" y2="255.8" stroke="#222" stroke-width="0.9"/>
<text x="453.72" y="264.7" font-size="5.8" text-anchor="middle" fill="#1e1e1e" stroke="#1e1e1e" stroke-width="0.16" >2</text>
<line x1="465.04" y1="253.5" x2="465.04" y2="255.8" stroke="#222" stroke-width="0.9"/>
<text x="465.04" y="264.7" font-size="5.8" text-anchor="middle" fill="#1e1e1e" stroke="#1e1e1e" stroke-width="0.16" >4</text>
<line x1="476.36" y1="253.5" x2="476.36" y2="255.8" stroke="#222" stroke-width="0.9"/>
<text x="476.36" y="264.7" font-size="5.8" text-anchor="middle" fill="#1e1e1e" stroke="#1e1e1e" stroke-width="0.16" >6</text>
<line x1="487.68" y1="253.5" x2="487.68" y2="255.8" stroke="#222" stroke-width="0.9"/>
<text x="487.68" y="264.7" font-size="5.8" text-anchor="middle" fill="#1e1e1e" stroke="#1e1e1e" stroke-width="0.16" >8</text>
<line x1="499" y1="253.5" x2="499" y2="255.8" stroke="#222" stroke-width="0.9"/>
<text x="499" y="264.7" font-size="5.8" text-anchor="middle" fill="#1e1e1e" stroke="#1e1e1e" stroke-width="0.16" >10</text>
<line x1="510.32" y1="253.5" x2="510.32" y2="255.8" stroke="#222" stroke-width="0.9"/>
<text x="510.32" y="264.7" font-size="5.8" text-anchor="middle" fill="#1e1e1e" stroke="#1e1e1e" stroke-width="0.16" >12</text>
<polyline points="448.06,204.15 482.02,204.15 510.32,204.15" fill="none" stroke="#727272" stroke-width="1.05"/>
<polyline points="448.06,201.68 482.02,213.03 510.32,221.42" fill="none" stroke="#2a5a90" stroke-width="1.4"/>
<line x1="510.32" y1="218.46" x2="510.32" y2="224.38" stroke="#2a5a90" stroke-width="0.9"/>
<line x1="509.02" y1="218.46" x2="511.62" y2="218.46" stroke="#2a5a90" stroke-width="0.9"/>
<line x1="509.02" y1="224.38" x2="511.62" y2="224.38" stroke="#2a5a90" stroke-width="0.9"/>
<circle cx="448.06" cy="204.15" r="1.85" fill="#fff" stroke="#555" stroke-width="0.9"/>
<circle cx="482.02" cy="204.15" r="1.85" fill="#fff" stroke="#555" stroke-width="0.9"/>
<circle cx="510.32" cy="204.15" r="1.85" fill="#fff" stroke="#555" stroke-width="0.9"/>
<circle cx="448.06" cy="201.68" r="2" fill="#fff" stroke="#2a5a90" stroke-width="0.9"/>
<circle cx="482.02" cy="213.03" r="2" fill="#fff" stroke="#2a5a90" stroke-width="0.9"/>
<circle cx="510.32" cy="221.42" r="2" fill="#fff" stroke="#2a5a90" stroke-width="0.9"/>
<text x="228.2" y="220.9" font-size="6" text-anchor="middle" fill="#222" stroke="#222" stroke-width="0.38" textLength="67.5" lengthAdjust="spacingAndGlyphs" transform="rotate(-90 228.2 220.9)" >JAM2 delta MFI (normalized)</text>
<text x="252.2" y="241.5" font-size="5.6" text-anchor="start" fill="#5d5e62" stroke="#5d5e62" stroke-width="0.16" textLength="40.8" lengthAdjust="spacingAndGlyphs" >WT (dsRed-ve)</text>
<text x="252.2" y="249.3" font-size="5.6" text-anchor="start" fill="#2a5a90" stroke="#2a5a90" stroke-width="0.16" textLength="50" lengthAdjust="spacingAndGlyphs" >shRNA (dsRed+ve)</text>
<text x="247.5" y="278" font-size="6.6" text-anchor="start" fill="#1a1a1a" stroke="#1a1a1a" stroke-width="0.38" textLength="43" lengthAdjust="spacingAndGlyphs" >Day after induction</text>
<line x1="295" y1="275.8" x2="508.8" y2="275.8" stroke="#1a1a1a" stroke-width="1.15"/>
<path d="M512.8,275.8 L507.6,273.6 L508.6,275.8 L507.6,278 Z" fill="#1a1a1a"/>
<text x="34" y="344.3" font-size="12" text-anchor="start" fill="#111" stroke="#111" stroke-width="0.16" font-weight="bold" >C</text>
<text x="98.5" y="357" font-size="7.4" text-anchor="middle" fill="#141414" stroke="#141414" stroke-width="0.16" >shRen</text>
<text x="196" y="357" font-size="7.4" text-anchor="middle" fill="#141414" stroke="#141414" stroke-width="0.16" >shRELA</text>
<path d="M62.3,434.0 63.0,434.0 63.7,434.0 64.4,434.0 65.1,434.0 65.8,434.0 66.5,434.0 67.2,434.0 67.9,433.9 68.6,434.0 69.3,434.0 70.0,433.6 70.7,432.4 71.4,431.9 72.1,431.2 72.8,429.2 73.5,426.3 74.2,424.7 75.0,422.9 75.7,417.9 76.4,411.8 77.1,407.0 77.8,401.9 78.5,396.6 79.2,391.7 79.9,385.1 80.6,379.6 81.3,380.0 82.0,382.0 82.7,381.1 83.4,381.8 84.1,383.6 84.8,386.3 85.5,392.5 86.2,398.7 86.9,404.2 87.6,409.3 88.3,410.0 89.0,410.6 89.7,416.0 90.4,420.6 91.1,423.1 91.8,425.3 92.5,426.1 93.2,426.8 93.9,428.3 94.6,429.6 95.3,430.3 96.0,431.0 96.7,431.5 97.4,432.0 98.1,431.5 98.9,431.1 99.6,432.0 100.3,432.7 101.0,432.7 101.7,432.6 102.4,432.4 103.1,432.0 103.8,431.4 104.5,430.7 105.2,431.4 105.9,432.1 106.6,432.2 107.3,432.4 108.0,431.4 108.7,430.5 109.4,432.1 110.1,433.5 110.8,433.4 111.5,433.3 112.2,433.2 112.9,433.2 113.6,433.1 114.3,433.1 115.0,433.7 115.7,434.0 116.4,434.0 117.1,434.0 117.8,434.0 118.5,433.9 119.2,434.0 119.9,434.0 120.6,434.0 121.3,434.0 122.0,434.0 122.8,434.0 123.5,434.0 124.2,434.0 124.9,434.0 125.6,434.0 126.3,434.0 127.0,434.0 127.7,434.0 128.4,434.0 129.1,434.0 129.8,434.0 130.5,434.0 131.2,434.0 131.9,434.0 132.6,434.0 133.3,434.0 134.0,434.0 134.7,434.0 L134.7,434 L62.3,434 Z" fill="#8e94ad" stroke="none"/>
<path d="M62.3,434.0 63.0,434.0 63.7,434.0 64.4,434.0 65.1,433.9 65.8,434.0 66.5,434.0 67.2,433.9 67.9,433.9 68.6,433.8 69.3,433.6 70.0,433.4 70.7,433.1 71.4,432.6 72.1,431.9 72.8,431.5 73.5,431.0 74.2,427.9 75.0,423.8 75.7,421.6 76.4,419.1 77.1,416.0 77.8,412.7 78.5,406.7 79.2,400.4 79.9,396.8 80.6,393.7 81.3,391.0 82.0,389.3 82.7,387.2 83.4,386.4 84.1,386.7 84.8,388.2 85.5,393.8 86.2,399.7 86.9,403.0 87.6,406.4 88.3,410.0 89.0,413.2 89.7,418.6 90.4,423.0 91.1,424.7 91.8,426.1 92.5,426.9 93.2,427.5 93.9,429.5 94.6,431.2 95.3,431.3 96.0,431.5 96.7,431.6 97.4,431.7 98.1,432.2 98.9,432.6 99.6,433.0 100.3,433.3 101.0,433.7 101.7,434.0 102.4,433.7 103.1,433.5 103.8,433.7 104.5,433.9 105.2,433.9 105.9,433.9 106.6,433.9 107.3,434.0 108.0,434.0 108.7,434.0 109.4,434.0 110.1,434.0 110.8,434.0 111.5,434.0 112.2,434.0 112.9,434.0 113.6,434.0 114.3,434.0 115.0,434.0 115.7,434.0 116.4,434.0 117.1,434.0 117.8,434.0 118.5,434.0 119.2,434.0 119.9,434.0 120.6,434.0 121.3,434.0 122.0,434.0 122.8,434.0 123.5,434.0 124.2,434.0 124.9,434.0 125.6,434.0 126.3,434.0 127.0,434.0 127.7,434.0 128.4,434.0 129.1,434.0 129.8,434.0 130.5,434.0 131.2,434.0 131.9,434.0 132.6,434.0 133.3,434.0 134.0,434.0 134.7,434.0 L134.7,434 L62.3,434 Z" fill="#d99c9c" stroke="none"/>
<path d="M62.3,434.0 63.0,434.0 63.7,434.0 64.4,434.0 65.1,434.0 65.8,434.0 66.5,434.0 67.2,434.0 67.9,433.9 68.6,434.0 69.3,434.0 70.0,433.6 70.7,432.4 71.4,431.9 72.1,431.2 72.8,429.2 73.5,426.3 74.2,424.7 75.0,422.9 75.7,417.9 76.4,411.8 77.1,407.0 77.8,401.9 78.5,396.6 79.2,391.7 79.9,385.1 80.6,379.6 81.3,380.0 82.0,382.0 82.7,381.1 83.4,381.8 84.1,383.6 84.8,386.3 85.5,392.5 86.2,398.7 86.9,404.2 87.6,409.3 88.3,410.0 89.0,410.6 89.7,416.0 90.4,420.6 91.1,423.1 91.8,425.3 92.5,426.1 93.2,426.8 93.9,428.3 94.6,429.6 95.3,430.3 96.0,431.0 96.7,431.5 97.4,432.0 98.1,431.5 98.9,431.1 99.6,432.0 100.3,432.7 101.0,432.7 101.7,432.6 102.4,432.4 103.1,432.0 103.8,431.4 104.5,430.7 105.2,431.4 105.9,432.1 106.6,432.2 107.3,432.4 108.0,431.4 108.7,430.5 109.4,432.1 110.1,433.5 110.8,433.4 111.5,433.3 112.2,433.2 112.9,433.2 113.6,433.1 114.3,433.1 115.0,433.7 115.7,434.0 116.4,434.0 117.1,434.0 117.8,434.0 118.5,433.9 119.2,434.0 119.9,434.0 120.6,434.0 121.3,434.0 122.0,434.0 122.8,434.0 123.5,434.0 124.2,434.0 124.9,434.0 125.6,434.0 126.3,434.0 127.0,434.0 127.7,434.0 128.4,434.0 129.1,434.0 129.8,434.0 130.5,434.0 131.2,434.0 131.9,434.0 132.6,434.0 133.3,434.0 134.0,434.0 134.7,434.0" fill="none" stroke="#34363f" stroke-width="1.2" stroke-linejoin="round"/>
<path d="M62.3,434.0 63.0,434.0 63.7,434.0 64.4,434.0 65.1,433.9 65.8,434.0 66.5,434.0 67.2,433.9 67.9,433.9 68.6,433.8 69.3,433.6 70.0,433.4 70.7,433.1 71.4,432.6 72.1,431.9 72.8,431.5 73.5,431.0 74.2,427.9 75.0,423.8 75.7,421.6 76.4,419.1 77.1,416.0 77.8,412.7 78.5,406.7 79.2,400.4 79.9,396.8 80.6,393.7 81.3,391.0 82.0,389.3 82.7,387.2 83.4,386.4 84.1,386.7 84.8,388.2 85.5,393.8 86.2,399.7 86.9,403.0 87.6,406.4 88.3,410.0 89.0,413.2 89.7,418.6 90.4,423.0 91.1,424.7 91.8,426.1 92.5,426.9 93.2,427.5 93.9,429.5 94.6,431.2 95.3,431.3 96.0,431.5 96.7,431.6 97.4,431.7 98.1,432.2 98.9,432.6 99.6,433.0 100.3,433.3 101.0,433.7 101.7,434.0 102.4,433.7 103.1,433.5 103.8,433.7 104.5,433.9 105.2,433.9 105.9,433.9 106.6,433.9 107.3,434.0 108.0,434.0 108.7,434.0 109.4,434.0 110.1,434.0 110.8,434.0 111.5,434.0 112.2,434.0 112.9,434.0 113.6,434.0 114.3,434.0 115.0,434.0 115.7,434.0 116.4,434.0 117.1,434.0 117.8,434.0 118.5,434.0 119.2,434.0 119.9,434.0 120.6,434.0 121.3,434.0 122.0,434.0 122.8,434.0 123.5,434.0 124.2,434.0 124.9,434.0 125.6,434.0 126.3,434.0 127.0,434.0 127.7,434.0 128.4,434.0 129.1,434.0 129.8,434.0 130.5,434.0 131.2,434.0 131.9,434.0 132.6,434.0 133.3,434.0 134.0,434.0 134.7,434.0" fill="none" stroke="#b5183c" stroke-width="1.2" stroke-linejoin="round"/>
<path d="M62.3,434.0 63.0,434.0 63.7,434.0 64.4,433.9 65.1,433.9 65.8,433.9 66.5,433.9 67.2,433.8 67.9,433.8 68.6,433.8 69.3,433.8 70.0,433.7 70.7,433.7 71.4,433.7 72.1,433.7 72.8,433.5 73.5,433.4 74.2,433.6 75.0,433.9 75.7,433.5 76.4,433.2 77.1,433.1 77.8,433.0 78.5,432.4 79.2,431.7 79.9,431.6 80.6,431.6 81.3,431.4 82.0,431.2 82.7,431.0 83.4,430.9 84.1,431.4 84.8,431.9 85.5,431.6 86.2,431.4 86.9,431.2 87.6,431.0 88.3,431.5 89.0,432.0 89.7,431.8 90.4,431.4 91.1,431.7 91.8,431.9 92.5,432.1 93.2,432.3 93.9,431.7 94.6,430.9 95.3,430.9 96.0,431.0 96.7,430.3 97.4,429.5 98.1,429.2 98.9,428.6 99.6,427.1 100.3,424.9 101.0,423.6 101.7,421.7 102.4,414.1 103.1,404.7 103.8,398.9 104.5,393.8 105.2,391.2 105.9,390.9 106.6,391.5 107.3,393.8 108.0,395.7 108.7,398.6 109.4,402.4 110.1,406.5 110.8,411.2 111.5,415.4 112.2,418.8 112.9,421.6 113.6,425.0 114.3,427.7 115.0,428.4 115.7,429.0 116.4,428.7 117.1,428.4 117.8,429.4 118.5,430.3 119.2,431.3 119.9,432.2 120.6,432.3 121.3,432.4 122.0,432.8 122.8,433.2 123.5,433.3 124.2,433.4 124.9,433.2 125.6,433.0 126.3,433.3 127.0,433.6 127.7,433.6 128.4,433.5 129.1,433.7 129.8,433.8 130.5,434.0 131.2,434.0 131.9,434.0 132.6,434.0 133.3,433.9 134.0,433.8 134.7,433.9" fill="none" stroke="#34363f" stroke-width="1.2" stroke-linejoin="round"/>
<path d="M62.3,434.0 63.0,434.0 63.7,433.9 64.4,434.0 65.1,434.0 65.8,434.0 66.5,434.0 67.2,433.9 67.9,433.8 68.6,433.9 69.3,434.0 70.0,433.9 70.7,433.6 71.4,433.7 72.1,433.8 72.8,433.8 73.5,433.7 74.2,433.5 75.0,433.3 75.7,432.8 76.4,432.3 77.1,432.3 77.8,432.5 78.5,432.7 79.2,433.0 79.9,432.7 80.6,432.4 81.3,431.7 82.0,430.9 82.7,431.0 83.4,431.1 84.1,431.7 84.8,432.3 85.5,431.4 86.2,430.5 86.9,431.3 87.6,432.1 88.3,432.3 89.0,432.5 89.7,432.2 90.4,431.8 91.1,431.4 91.8,431.0 92.5,430.6 93.2,430.1 93.9,430.0 94.6,429.9 95.3,430.0 96.0,430.1 96.7,429.8 97.4,429.3 98.1,429.0 98.9,428.4 99.6,426.1 100.3,422.8 101.0,419.3 101.7,414.3 102.4,406.6 103.1,397.3 103.8,390.1 104.5,383.7 105.2,376.5 105.9,372.2 106.6,372.8 107.3,375.8 108.0,380.6 108.7,386.7 109.4,393.1 110.1,399.7 110.8,405.9 111.5,411.3 112.2,416.2 112.9,420.0 113.6,421.8 114.3,423.1 115.0,425.1 115.7,426.7 116.4,428.3 117.1,429.7 117.8,429.6 118.5,429.5 119.2,430.1 119.9,430.7 120.6,430.8 121.3,430.9 122.0,431.7 122.8,432.4 123.5,432.7 124.2,432.9 124.9,433.2 125.6,433.4 126.3,433.5 127.0,433.5 127.7,433.5 128.4,433.6 129.1,433.7 129.8,433.8 130.5,433.9 131.2,433.9 131.9,433.9 132.6,433.9 133.3,433.9 134.0,434.0 134.7,434.0" fill="none" stroke="#b5183c" stroke-width="1.2" stroke-linejoin="round"/>
<rect x="62.3" y="361" width="72.4" height="73" fill="none" stroke="#1a1a1a" stroke-width="1.1"/>
<line x1="59.7" y1="434" x2="62.3" y2="434" stroke="#1a1a1a" stroke-width="0.9"/>
<text x="56.7" y="436" font-size="5.8" text-anchor="end" fill="#1e1e1e" stroke="#1e1e1e" stroke-width="0.16" >0</text>
<line x1="61" y1="430.53" x2="62.3" y2="430.53" stroke="#1a1a1a" stroke-width="0.7"/>
<line x1="61" y1="427.06" x2="62.3" y2="427.06" stroke="#1a1a1a" stroke-width="0.7"/>
<line x1="61" y1="423.59" x2="62.3" y2="423.59" stroke="#1a1a1a" stroke-width="0.7"/>
<line x1="59.7" y1="420.12" x2="62.3" y2="420.12" stroke="#1a1a1a" stroke-width="0.9"/>
<text x="56.7" y="422.12" font-size="5.8" text-anchor="end" fill="#1e1e1e" stroke="#1e1e1e" stroke-width="0.16" >20</text>
<line x1="61" y1="416.65" x2="62.3" y2="416.65" stroke="#1a1a1a" stroke-width="0.7"/>
<line x1="61" y1="413.18" x2="62.3" y2="413.18" stroke="#1a1a1a" stroke-width="0.7"/>
<line x1="61" y1="409.71" x2="62.3" y2="409.71" stroke="#1a1a1a" stroke-width="0.7"/>
<line x1="59.7" y1="406.24" x2="62.3" y2="406.24" stroke="#1a1a1a" stroke-width="0.9"/>
<text x="56.7" y="408.24" font-size="5.8" text-anchor="end" fill="#1e1e1e" stroke="#1e1e1e" stroke-width="0.16" >40</text>
<line x1="61" y1="402.77" x2="62.3" y2="402.77" stroke="#1a1a1a" stroke-width="0.7"/>
<line x1="61" y1="399.3" x2="62.3" y2="399.3" stroke="#1a1a1a" stroke-width="0.7"/>
<line x1="61" y1="395.83" x2="62.3" y2="395.83" stroke="#1a1a1a" stroke-width="0.7"/>
<line x1="59.7" y1="392.36" x2="62.3" y2="392.36" stroke="#1a1a1a" stroke-width="0.9"/>
<text x="56.7" y="394.36" font-size="5.8" text-anchor="end" fill="#1e1e1e" stroke="#1e1e1e" stroke-width="0.16" >60</text>
<line x1="61" y1="388.89" x2="62.3" y2="388.89" stroke="#1a1a1a" stroke-width="0.7"/>
<line x1="61" y1="385.42" x2="62.3" y2="385.42" stroke="#1a1a1a" stroke-width="0.7"/>
<line x1="61" y1="381.95" x2="62.3" y2="381.95" stroke="#1a1a1a" stroke-width="0.7"/>
<line x1="59.7" y1="378.48" x2="62.3" y2="378.48" stroke="#1a1a1a" stroke-width="0.9"/>
<text x="56.7" y="380.48" font-size="5.8" text-anchor="end" fill="#1e1e1e" stroke="#1e1e1e" stroke-width="0.16" >80</text>
<line x1="61" y1="375.01" x2="62.3" y2="375.01" stroke="#1a1a1a" stroke-width="0.7"/>
<line x1="61" y1="371.54" x2="62.3" y2="371.54" stroke="#1a1a1a" stroke-width="0.7"/>
<line x1="61" y1="368.07" x2="62.3" y2="368.07" stroke="#1a1a1a" stroke-width="0.7"/>
<line x1="59.7" y1="364.6" x2="62.3" y2="364.6" stroke="#1a1a1a" stroke-width="0.9"/>
<text x="56.7" y="366.6" font-size="5.8" text-anchor="end" fill="#1e1e1e" stroke="#1e1e1e" stroke-width="0.16" >100</text>
<line x1="65.1" y1="434" x2="65.1" y2="436.4" stroke="#1a1a1a" stroke-width="0.9"/>
<text x="62" y="444.5" font-size="6" fill="#333">10<tspan dy="-2.4" font-size="4">2</tspan></text>
<line x1="70.79" y1="434" x2="70.79" y2="435.3" stroke="#1a1a1a" stroke-width="0.6"/>
<line x1="74.12" y1="434" x2="74.12" y2="435.3" stroke="#1a1a1a" stroke-width="0.6"/>
<line x1="76.48" y1="434" x2="76.48" y2="435.3" stroke="#1a1a1a" stroke-width="0.6"/>
<line x1="78.31" y1="434" x2="78.31" y2="435.3" stroke="#1a1a1a" stroke-width="0.6"/>
<line x1="79.81" y1="434" x2="79.81" y2="435.3" stroke="#1a1a1a" stroke-width="0.6"/>
<line x1="81.07" y1="434" x2="81.07" y2="435.3" stroke="#1a1a1a" stroke-width="0.6"/>
<line x1="82.17" y1="434" x2="82.17" y2="435.3" stroke="#1a1a1a" stroke-width="0.6"/>
<line x1="83.14" y1="434" x2="83.14" y2="435.3" stroke="#1a1a1a" stroke-width="0.6"/>
<line x1="84" y1="434" x2="84" y2="436.4" stroke="#1a1a1a" stroke-width="0.9"/>
<text x="80.9" y="444.5" font-size="6" fill="#333">10<tspan dy="-2.4" font-size="4">3</tspan></text>
<line x1="89.69" y1="434" x2="89.69" y2="435.3" stroke="#1a1a1a" stroke-width="0.6"/>
<line x1="93.02" y1="434" x2="93.02" y2="435.3" stroke="#1a1a1a" stroke-width="0.6"/>
<line x1="95.38" y1="434" x2="95.38" y2="435.3" stroke="#1a1a1a" stroke-width="0.6"/>
<line x1="97.21" y1="434" x2="97.21" y2="435.3" stroke="#1a1a1a" stroke-width="0.6"/>
<line x1="98.71" y1="434" x2="98.71" y2="435.3" stroke="#1a1a1a" stroke-width="0.6"/>
<line x1="99.97" y1="434" x2="99.97" y2="435.3" stroke="#1a1a1a" stroke-width="0.6"/>
<line x1="101.07" y1="434" x2="101.07" y2="435.3" stroke="#1a1a1a" stroke-width="0.6"/>
<line x1="102.04" y1="434" x2="102.04" y2="435.3" stroke="#1a1a1a" stroke-width="0.6"/>
<line x1="102.9" y1="434" x2="102.9" y2="436.4" stroke="#1a1a1a" stroke-width="0.9"/>
<text x="99.8" y="444.5" font-size="6" fill="#333">10<tspan dy="-2.4" font-size="4">4</tspan></text>
<line x1="108.59" y1="434" x2="108.59" y2="435.3" stroke="#1a1a1a" stroke-width="0.6"/>
<line x1="111.92" y1="434" x2="111.92" y2="435.3" stroke="#1a1a1a" stroke-width="0.6"/>
<line x1="114.28" y1="434" x2="114.28" y2="435.3" stroke="#1a1a1a" stroke-width="0.6"/>
<line x1="116.11" y1="434" x2="116.11" y2="435.3" stroke="#1a1a1a" stroke-width="0.6"/>
<line x1="117.61" y1="434" x2="117.61" y2="435.3" stroke="#1a1a1a" stroke-width="0.6"/>
<line x1="118.87" y1="434" x2="118.87" y2="435.3" stroke="#1a1a1a" stroke-width="0.6"/>
<line x1="119.97" y1="434" x2="119.97" y2="435.3" stroke="#1a1a1a" stroke-width="0.6"/>
<line x1="120.94" y1="434" x2="120.94" y2="435.3" stroke="#1a1a1a" stroke-width="0.6"/>
<line x1="121.8" y1="434" x2="121.8" y2="436.4" stroke="#1a1a1a" stroke-width="0.9"/>
<text x="118.7" y="444.5" font-size="6" fill="#333">10<tspan dy="-2.4" font-size="4">5</tspan></text>
<line x1="127.49" y1="434" x2="127.49" y2="435.3" stroke="#1a1a1a" stroke-width="0.6"/>
<line x1="130.82" y1="434" x2="130.82" y2="435.3" stroke="#1a1a1a" stroke-width="0.6"/>
<line x1="133.18" y1="434" x2="133.18" y2="435.3" stroke="#1a1a1a" stroke-width="0.6"/>
<line x1="63.27" y1="434" x2="63.27" y2="435.3" stroke="#1a1a1a" stroke-width="0.6"/>
<line x1="64.24" y1="434" x2="64.24" y2="435.3" stroke="#1a1a1a" stroke-width="0.6"/>
<path d="M159.4,433.9 160.1,434.2 160.8,434.3 161.5,434.2 162.2,433.9 162.9,433.5 163.6,433.1 164.3,432.2 165.0,431.2 165.7,431.1 166.4,430.9 167.1,430.9 167.8,430.8 168.5,428.3 169.2,425.0 169.9,424.0 170.6,422.7 171.3,417.0 172.1,410.0 172.8,406.8 173.5,403.0 174.2,393.2 174.9,382.1 175.6,377.3 176.3,375.0 177.0,377.8 177.7,382.3 178.4,387.2 179.1,393.1 179.8,397.0 180.5,401.3 181.2,406.1 181.9,410.6 182.6,414.8 183.3,418.3 184.0,422.5 184.7,425.8 185.4,428.2 186.1,430.0 186.8,430.1 187.5,430.1 188.2,431.4 188.9,432.5 189.6,431.8 190.3,431.1 191.0,431.8 191.7,432.5 192.4,431.8 193.1,431.2 193.8,431.6 194.5,432.0 195.2,432.5 195.9,432.9 196.7,433.4 197.4,433.9 198.1,433.7 198.8,433.5 199.5,433.7 200.2,433.8 200.9,434.1 201.6,434.2 202.3,434.3 203.0,434.3 203.7,434.2 204.4,434.1 205.1,434.2 205.8,434.3 206.5,434.3 207.2,434.3 207.9,434.2 208.6,434.2 209.3,434.3 210.0,434.3 210.7,434.3 211.4,434.3 212.1,434.3 212.8,434.3 213.5,434.3 214.2,434.3 214.9,434.3 215.6,434.3 216.3,434.3 217.0,434.3 217.7,434.3 218.4,434.3 219.1,434.3 219.8,434.3 220.6,434.3 221.3,434.3 222.0,434.3 222.7,434.3 223.4,434.3 224.1,434.3 224.8,434.3 225.5,434.3 226.2,434.3 226.9,434.3 227.6,434.3 228.3,434.3 229.0,434.3 229.7,434.3 230.4,434.3 231.1,434.3 231.8,434.3 232.5,434.3 L232.5,434.3 L159.4,434.3 Z" fill="#8e94ad" stroke="none"/>
<path d="M159.4,434.1 160.1,433.9 160.8,433.7 161.5,433.7 162.2,433.7 162.9,433.4 163.6,433.0 164.3,432.6 165.0,432.0 165.7,430.9 166.4,429.6 167.1,429.2 167.8,428.7 168.5,427.3 169.2,425.4 169.9,423.0 170.6,420.1 171.3,416.8 172.1,412.8 172.8,408.7 173.5,404.0 174.2,394.4 174.9,383.6 175.6,379.0 176.3,378.6 177.0,380.2 177.7,383.6 178.4,388.7 179.1,394.6 179.8,399.5 180.5,404.6 181.2,408.9 181.9,413.0 182.6,418.1 183.3,422.3 184.0,426.5 184.7,429.6 185.4,431.3 186.1,432.5 186.8,433.3 187.5,433.8 188.2,434.1 188.9,434.3 189.6,434.2 190.3,434.2 191.0,434.3 191.7,434.3 192.4,434.3 193.1,434.3 193.8,434.3 194.5,434.3 195.2,434.3 195.9,434.3 196.7,434.3 197.4,434.3 198.1,434.3 198.8,434.3 199.5,434.3 200.2,434.3 200.9,434.3 201.6,434.3 202.3,434.3 203.0,434.3 203.7,434.3 204.4,434.3 205.1,434.3 205.8,434.3 206.5,434.3 207.2,434.3 207.9,434.3 208.6,434.3 209.3,434.3 210.0,434.3 210.7,434.3 211.4,434.3 212.1,434.3 212.8,434.3 213.5,434.3 214.2,434.3 214.9,434.3 215.6,434.3 216.3,434.3 217.0,434.3 217.7,434.3 218.4,434.3 219.1,434.3 219.8,434.3 220.6,434.3 221.3,434.3 222.0,434.3 222.7,434.3 223.4,434.3 224.1,434.3 224.8,434.3 225.5,434.3 226.2,434.3 226.9,434.3 227.6,434.3 228.3,434.3 229.0,434.3 229.7,434.3 230.4,434.3 231.1,434.3 231.8,434.3 232.5,434.3 L232.5,434.3 L159.4,434.3 Z" fill="#d99c9c" stroke="none"/>
<path d="M159.4,433.9 160.1,434.2 160.8,434.3 161.5,434.2 162.2,433.9 162.9,433.5 163.6,433.1 164.3,432.2 165.0,431.2 165.7,431.1 166.4,430.9 167.1,430.9 167.8,430.8 168.5,428.3 169.2,425.0 169.9,424.0 170.6,422.7 171.3,417.0 172.1,410.0 172.8,406.8 173.5,403.0 174.2,393.2 174.9,382.1 175.6,377.3 176.3,375.0 177.0,377.8 177.7,382.3 178.4,387.2 179.1,393.1 179.8,397.0 180.5,401.3 181.2,406.1 181.9,410.6 182.6,414.8 183.3,418.3 184.0,422.5 184.7,425.8 185.4,428.2 186.1,430.0 186.8,430.1 187.5,430.1 188.2,431.4 188.9,432.5 189.6,431.8 190.3,431.1 191.0,431.8 191.7,432.5 192.4,431.8 193.1,431.2 193.8,431.6 194.5,432.0 195.2,432.5 195.9,432.9 196.7,433.4 197.4,433.9 198.1,433.7 198.8,433.5 199.5,433.7 200.2,433.8 200.9,434.1 201.6,434.2 202.3,434.3 203.0,434.3 203.7,434.2 204.4,434.1 205.1,434.2 205.8,434.3 206.5,434.3 207.2,434.3 207.9,434.2 208.6,434.2 209.3,434.3 210.0,434.3 210.7,434.3 211.4,434.3 212.1,434.3 212.8,434.3 213.5,434.3 214.2,434.3 214.9,434.3 215.6,434.3 216.3,434.3 217.0,434.3 217.7,434.3 218.4,434.3 219.1,434.3 219.8,434.3 220.6,434.3 221.3,434.3 222.0,434.3 222.7,434.3 223.4,434.3 224.1,434.3 224.8,434.3 225.5,434.3 226.2,434.3 226.9,434.3 227.6,434.3 228.3,434.3 229.0,434.3 229.7,434.3 230.4,434.3 231.1,434.3 231.8,434.3 232.5,434.3" fill="none" stroke="#34363f" stroke-width="1.2" stroke-linejoin="round"/>
<path d="M159.4,434.1 160.1,433.9 160.8,433.7 161.5,433.7 162.2,433.7 162.9,433.4 163.6,433.0 164.3,432.6 165.0,432.0 165.7,430.9 166.4,429.6 167.1,429.2 167.8,428.7 168.5,427.3 169.2,425.4 169.9,423.0 170.6,420.1 171.3,416.8 172.1,412.8 172.8,408.7 173.5,404.0 174.2,394.4 174.9,383.6 175.6,379.0 176.3,378.6 177.0,380.2 177.7,383.6 178.4,388.7 179.1,394.6 179.8,399.5 180.5,404.6 181.2,408.9 181.9,413.0 182.6,418.1 183.3,422.3 184.0,426.5 184.7,429.6 185.4,431.3 186.1,432.5 186.8,433.3 187.5,433.8 188.2,434.1 188.9,434.3 189.6,434.2 190.3,434.2 191.0,434.3 191.7,434.3 192.4,434.3 193.1,434.3 193.8,434.3 194.5,434.3 195.2,434.3 195.9,434.3 196.7,434.3 197.4,434.3 198.1,434.3 198.8,434.3 199.5,434.3 200.2,434.3 200.9,434.3 201.6,434.3 202.3,434.3 203.0,434.3 203.7,434.3 204.4,434.3 205.1,434.3 205.8,434.3 206.5,434.3 207.2,434.3 207.9,434.3 208.6,434.3 209.3,434.3 210.0,434.3 210.7,434.3 211.4,434.3 212.1,434.3 212.8,434.3 213.5,434.3 214.2,434.3 214.9,434.3 215.6,434.3 216.3,434.3 217.0,434.3 217.7,434.3 218.4,434.3 219.1,434.3 219.8,434.3 220.6,434.3 221.3,434.3 222.0,434.3 222.7,434.3 223.4,434.3 224.1,434.3 224.8,434.3 225.5,434.3 226.2,434.3 226.9,434.3 227.6,434.3 228.3,434.3 229.0,434.3 229.7,434.3 230.4,434.3 231.1,434.3 231.8,434.3 232.5,434.3" fill="none" stroke="#b5183c" stroke-width="1.2" stroke-linejoin="round"/>
<path d="M159.4,434.3 160.1,434.3 160.8,434.3 161.5,434.3 162.2,434.3 162.9,434.3 163.6,434.3 164.3,434.3 165.0,434.3 165.7,434.3 166.4,434.3 167.1,434.3 167.8,434.3 168.5,434.3 169.2,434.3 169.9,434.3 170.6,434.3 171.3,434.3 172.1,434.3 172.8,434.3 173.5,434.3 174.2,434.3 174.9,434.1 175.6,433.7 176.3,432.7 177.0,430.3 177.7,427.3 178.4,425.4 179.1,425.0 179.8,427.0 180.5,429.4 181.2,429.6 181.9,430.0 182.6,430.9 183.3,431.5 184.0,431.9 184.7,432.0 185.4,431.7 186.1,431.2 186.8,430.3 187.5,429.4 188.2,429.4 188.9,429.5 189.6,428.8 190.3,428.2 191.0,428.0 191.7,427.9 192.4,428.8 193.1,429.8 193.8,428.3 194.5,426.7 195.2,426.8 195.9,426.7 196.7,425.5 197.4,423.6 198.1,419.7 198.8,414.6 199.5,407.8 200.2,399.8 200.9,395.6 201.6,391.9 202.3,385.4 203.0,380.1 203.7,375.5 204.4,373.1 205.1,377.3 205.8,383.2 206.5,386.9 207.2,391.8 207.9,397.0 208.6,402.5 209.3,408.3 210.0,413.7 210.7,419.0 211.4,423.3 212.1,426.4 212.8,428.8 213.5,430.6 214.2,431.8 214.9,433.0 215.6,433.7 216.3,434.0 217.0,434.1 217.7,434.2 218.4,434.3 219.1,434.3 219.8,434.3 220.6,434.3 221.3,434.3 222.0,434.3 222.7,434.3 223.4,434.3 224.1,434.3 224.8,434.3 225.5,434.3 226.2,434.3 226.9,434.3 227.6,434.3 228.3,434.3 229.0,434.3 229.7,434.3 230.4,434.3 231.1,434.3 231.8,434.3 232.5,434.3" fill="none" stroke="#34363f" stroke-width="1.2" stroke-linejoin="round"/>
<path d="M159.4,434.3 160.1,434.3 160.8,434.3 161.5,434.3 162.2,434.3 162.9,434.3 163.6,434.3 164.3,434.3 165.0,434.3 165.7,434.3 166.4,434.3 167.1,434.3 167.8,434.3 168.5,434.3 169.2,434.2 169.9,434.2 170.6,434.2 171.3,434.2 172.1,434.2 172.8,434.1 173.5,433.8 174.2,433.7 174.9,433.6 175.6,433.1 176.3,432.4 177.0,431.4 177.7,430.3 178.4,429.9 179.1,429.7 179.8,430.0 180.5,430.6 181.2,430.9 181.9,431.3 182.6,432.0 183.3,432.5 184.0,432.6 184.7,432.5 185.4,432.6 186.1,432.5 186.8,432.0 187.5,431.4 188.2,431.2 188.9,431.1 189.6,429.9 190.3,428.7 191.0,428.5 191.7,428.3 192.4,427.2 193.1,425.6 193.8,423.4 194.5,419.7 195.2,412.7 195.9,403.9 196.7,396.7 197.4,389.8 198.1,384.7 198.8,382.8 199.5,383.5 200.2,385.0 200.9,382.5 201.6,379.8 202.3,383.9 203.0,391.7 203.7,398.7 204.4,404.5 205.1,409.2 205.8,413.5 206.5,416.7 207.2,419.5 207.9,423.6 208.6,426.8 209.3,427.9 210.0,428.7 210.7,430.4 211.4,431.7 212.1,432.1 212.8,432.4 213.5,432.6 214.2,432.8 214.9,433.0 215.6,433.3 216.3,433.5 217.0,433.7 217.7,433.9 218.4,434.0 219.1,434.0 219.8,434.0 220.6,434.1 221.3,434.1 222.0,434.1 222.7,434.1 223.4,434.1 224.1,434.1 224.8,434.1 225.5,434.2 226.2,434.2 226.9,434.2 227.6,434.2 228.3,434.3 229.0,434.3 229.7,434.3 230.4,434.3 231.1,434.3 231.8,434.3 232.5,434.3" fill="none" stroke="#b5183c" stroke-width="1.2" stroke-linejoin="round"/>
<rect x="159.4" y="361.4" width="73.1" height="72.9" fill="none" stroke="#1a1a1a" stroke-width="1.1"/>
<line x1="156.8" y1="434.3" x2="159.4" y2="434.3" stroke="#1a1a1a" stroke-width="0.9"/>
<text x="153.8" y="436.3" font-size="5.8" text-anchor="end" fill="#1e1e1e" stroke="#1e1e1e" stroke-width="0.16" >0</text>
<line x1="158.1" y1="430.84" x2="159.4" y2="430.84" stroke="#1a1a1a" stroke-width="0.7"/>
<line x1="158.1" y1="427.37" x2="159.4" y2="427.37" stroke="#1a1a1a" stroke-width="0.7"/>
<line x1="158.1" y1="423.91" x2="159.4" y2="423.91" stroke="#1a1a1a" stroke-width="0.7"/>
<line x1="156.8" y1="420.44" x2="159.4" y2="420.44" stroke="#1a1a1a" stroke-width="0.9"/>
<text x="153.8" y="422.44" font-size="5.8" text-anchor="end" fill="#1e1e1e" stroke="#1e1e1e" stroke-width="0.16" >20</text>
<line x1="158.1" y1="416.98" x2="159.4" y2="416.98" stroke="#1a1a1a" stroke-width="0.7"/>
<line x1="158.1" y1="413.51" x2="159.4" y2="413.51" stroke="#1a1a1a" stroke-width="0.7"/>
<line x1="158.1" y1="410.05" x2="159.4" y2="410.05" stroke="#1a1a1a" stroke-width="0.7"/>
<line x1="156.8" y1="406.58" x2="159.4" y2="406.58" stroke="#1a1a1a" stroke-width="0.9"/>
<text x="153.8" y="408.58" font-size="5.8" text-anchor="end" fill="#1e1e1e" stroke="#1e1e1e" stroke-width="0.16" >40</text>
<line x1="158.1" y1="403.12" x2="159.4" y2="403.12" stroke="#1a1a1a" stroke-width="0.7"/>
<line x1="158.1" y1="399.65" x2="159.4" y2="399.65" stroke="#1a1a1a" stroke-width="0.7"/>
<line x1="158.1" y1="396.19" x2="159.4" y2="396.19" stroke="#1a1a1a" stroke-width="0.7"/>
<line x1="156.8" y1="392.72" x2="159.4" y2="392.72" stroke="#1a1a1a" stroke-width="0.9"/>
<text x="153.8" y="394.72" font-size="5.8" text-anchor="end" fill="#1e1e1e" stroke="#1e1e1e" stroke-width="0.16" >60</text>
<line x1="158.1" y1="389.25" x2="159.4" y2="389.25" stroke="#1a1a1a" stroke-width="0.7"/>
<line x1="158.1" y1="385.79" x2="159.4" y2="385.79" stroke="#1a1a1a" stroke-width="0.7"/>
<line x1="158.1" y1="382.32" x2="159.4" y2="382.32" stroke="#1a1a1a" stroke-width="0.7"/>
<line x1="156.8" y1="378.86" x2="159.4" y2="378.86" stroke="#1a1a1a" stroke-width="0.9"/>
<text x="153.8" y="380.86" font-size="5.8" text-anchor="end" fill="#1e1e1e" stroke="#1e1e1e" stroke-width="0.16" >80</text>
<line x1="158.1" y1="375.39" x2="159.4" y2="375.39" stroke="#1a1a1a" stroke-width="0.7"/>
<line x1="158.1" y1="371.93" x2="159.4" y2="371.93" stroke="#1a1a1a" stroke-width="0.7"/>
<line x1="158.1" y1="368.46" x2="159.4" y2="368.46" stroke="#1a1a1a" stroke-width="0.7"/>
<line x1="156.8" y1="365" x2="159.4" y2="365" stroke="#1a1a1a" stroke-width="0.9"/>
<text x="153.8" y="367" font-size="5.8" text-anchor="end" fill="#1e1e1e" stroke="#1e1e1e" stroke-width="0.16" >100</text>
<line x1="162.2" y1="434.3" x2="162.2" y2="436.7" stroke="#1a1a1a" stroke-width="0.9"/>
<text x="159.1" y="444.8" font-size="6" fill="#333">10<tspan dy="-2.4" font-size="4">2</tspan></text>
<line x1="167.89" y1="434.3" x2="167.89" y2="435.6" stroke="#1a1a1a" stroke-width="0.6"/>
<line x1="171.22" y1="434.3" x2="171.22" y2="435.6" stroke="#1a1a1a" stroke-width="0.6"/>
<line x1="173.58" y1="434.3" x2="173.58" y2="435.6" stroke="#1a1a1a" stroke-width="0.6"/>
<line x1="175.41" y1="434.3" x2="175.41" y2="435.6" stroke="#1a1a1a" stroke-width="0.6"/>
<line x1="176.91" y1="434.3" x2="176.91" y2="435.6" stroke="#1a1a1a" stroke-width="0.6"/>
<line x1="178.17" y1="434.3" x2="178.17" y2="435.6" stroke="#1a1a1a" stroke-width="0.6"/>
<line x1="179.27" y1="434.3" x2="179.27" y2="435.6" stroke="#1a1a1a" stroke-width="0.6"/>
<line x1="180.24" y1="434.3" x2="180.24" y2="435.6" stroke="#1a1a1a" stroke-width="0.6"/>
<line x1="181.1" y1="434.3" x2="181.1" y2="436.7" stroke="#1a1a1a" stroke-width="0.9"/>
<text x="178" y="444.8" font-size="6" fill="#333">10<tspan dy="-2.4" font-size="4">3</tspan></text>
<line x1="186.79" y1="434.3" x2="186.79" y2="435.6" stroke="#1a1a1a" stroke-width="0.6"/>
<line x1="190.12" y1="434.3" x2="190.12" y2="435.6" stroke="#1a1a1a" stroke-width="0.6"/>
<line x1="192.48" y1="434.3" x2="192.48" y2="435.6" stroke="#1a1a1a" stroke-width="0.6"/>
<line x1="194.31" y1="434.3" x2="194.31" y2="435.6" stroke="#1a1a1a" stroke-width="0.6"/>
<line x1="195.81" y1="434.3" x2="195.81" y2="435.6" stroke="#1a1a1a" stroke-width="0.6"/>
<line x1="197.07" y1="434.3" x2="197.07" y2="435.6" stroke="#1a1a1a" stroke-width="0.6"/>
<line x1="198.17" y1="434.3" x2="198.17" y2="435.6" stroke="#1a1a1a" stroke-width="0.6"/>
<line x1="199.14" y1="434.3" x2="199.14" y2="435.6" stroke="#1a1a1a" stroke-width="0.6"/>
<line x1="200" y1="434.3" x2="200" y2="436.7" stroke="#1a1a1a" stroke-width="0.9"/>
<text x="196.9" y="444.8" font-size="6" fill="#333">10<tspan dy="-2.4" font-size="4">4</tspan></text>
<line x1="205.69" y1="434.3" x2="205.69" y2="435.6" stroke="#1a1a1a" stroke-width="0.6"/>
<line x1="209.02" y1="434.3" x2="209.02" y2="435.6" stroke="#1a1a1a" stroke-width="0.6"/>
<line x1="211.38" y1="434.3" x2="211.38" y2="435.6" stroke="#1a1a1a" stroke-width="0.6"/>
<line x1="213.21" y1="434.3" x2="213.21" y2="435.6" stroke="#1a1a1a" stroke-width="0.6"/>
<line x1="214.71" y1="434.3" x2="214.71" y2="435.6" stroke="#1a1a1a" stroke-width="0.6"/>
<line x1="215.97" y1="434.3" x2="215.97" y2="435.6" stroke="#1a1a1a" stroke-width="0.6"/>
<line x1="217.07" y1="434.3" x2="217.07" y2="435.6" stroke="#1a1a1a" stroke-width="0.6"/>
<line x1="218.04" y1="434.3" x2="218.04" y2="435.6" stroke="#1a1a1a" stroke-width="0.6"/>
<line x1="218.9" y1="434.3" x2="218.9" y2="436.7" stroke="#1a1a1a" stroke-width="0.9"/>
<text x="215.8" y="444.8" font-size="6" fill="#333">10<tspan dy="-2.4" font-size="4">5</tspan></text>
<line x1="224.59" y1="434.3" x2="224.59" y2="435.6" stroke="#1a1a1a" stroke-width="0.6"/>
<line x1="227.92" y1="434.3" x2="227.92" y2="435.6" stroke="#1a1a1a" stroke-width="0.6"/>
<line x1="230.28" y1="434.3" x2="230.28" y2="435.6" stroke="#1a1a1a" stroke-width="0.6"/>
<line x1="160.37" y1="434.3" x2="160.37" y2="435.6" stroke="#1a1a1a" stroke-width="0.6"/>
<line x1="161.34" y1="434.3" x2="161.34" y2="435.6" stroke="#1a1a1a" stroke-width="0.6"/>
<text x="61.3" y="455.2" font-size="6.4" text-anchor="start" fill="#1a1a1a" stroke="#1a1a1a" stroke-width="0.38" textLength="16.8" lengthAdjust="spacingAndGlyphs" >pSTAT1</text>
<line x1="82.4" y1="452.6" x2="229.6" y2="452.6" stroke="#1a1a1a" stroke-width="1.15"/>
<path d="M233.6,452.6 L228.4,450.4 L229.4,452.6 L228.4,454.8 Z" fill="#1a1a1a"/>
<path d="M62.2,557.1 62.9,557.1 63.6,557.1 64.3,557.1 65.0,557.1 65.7,557.1 66.4,557.1 67.1,557.1 67.8,557.1 68.5,557.1 69.2,557.1 69.9,557.1 70.6,557.1 71.3,557.1 72.0,557.1 72.7,557.1 73.4,557.1 74.1,557.1 74.8,557.1 75.5,557.1 76.2,557.1 76.9,557.1 77.6,557.0 78.3,557.1 79.0,557.1 79.7,556.9 80.4,556.2 81.1,555.7 81.8,555.0 82.5,553.7 83.2,551.6 83.9,550.2 84.6,548.2 85.3,543.1 86.0,536.2 86.7,526.3 87.4,514.8 88.1,504.0 88.8,497.0 89.5,496.7 90.2,498.6 90.9,504.6 91.6,511.8 92.3,518.1 93.0,524.6 93.7,533.1 94.4,540.4 95.1,544.3 95.8,547.5 96.5,550.6 97.2,552.8 97.9,554.8 98.7,556.1 99.4,556.0 100.1,556.0 100.8,556.6 101.5,556.9 102.2,556.9 102.9,557.0 103.6,557.1 104.3,557.1 105.0,557.1 105.7,557.1 106.4,557.1 107.1,557.1 107.8,557.1 108.5,557.1 109.2,557.1 109.9,557.1 110.6,557.1 111.3,557.1 112.0,557.1 112.7,557.1 113.4,557.1 114.1,557.1 114.8,557.1 115.5,557.1 116.2,557.1 116.9,557.1 117.6,557.1 118.3,557.1 119.0,557.1 119.7,557.1 120.4,557.1 121.1,557.1 121.8,557.1 122.5,557.1 123.2,557.1 123.9,557.1 124.6,557.1 125.3,557.1 126.0,557.1 126.7,557.1 127.4,557.1 128.1,557.1 128.8,557.1 129.5,557.1 130.2,557.1 130.9,557.1 131.6,557.1 132.3,557.1 133.0,557.1 133.7,557.1 134.4,557.1 135.1,557.1 L135.1,557.1 L62.2,557.1 Z" fill="#8e94ad" stroke="none"/>
<path d="M62.2,557.1 62.9,557.1 63.6,557.1 64.3,557.1 65.0,557.1 65.7,557.1 66.4,557.1 67.1,557.1 67.8,557.1 68.5,557.1 69.2,557.1 69.9,557.1 70.6,557.1 71.3,557.1 72.0,557.1 72.7,557.1 73.4,557.1 74.1,557.1 74.8,557.1 75.5,557.1 76.2,557.1 76.9,557.1 77.6,557.0 78.3,556.7 79.0,556.3 79.7,556.5 80.4,556.7 81.1,556.1 81.8,555.1 82.5,553.3 83.2,550.8 83.9,547.6 84.6,543.4 85.3,539.5 86.0,534.9 86.7,531.2 87.4,527.7 88.1,523.1 88.8,520.7 89.5,518.0 90.2,516.3 90.9,519.8 91.6,524.0 92.3,527.8 93.0,531.9 93.7,533.9 94.4,536.2 95.1,539.8 95.8,543.1 96.5,546.6 97.2,549.5 97.9,551.4 98.7,552.9 99.4,554.1 100.1,554.9 100.8,555.4 101.5,555.7 102.2,556.3 102.9,556.6 103.6,556.8 104.3,556.9 105.0,557.0 105.7,557.0 106.4,557.1 107.1,557.1 107.8,557.1 108.5,557.1 109.2,557.1 109.9,557.1 110.6,557.1 111.3,557.1 112.0,557.1 112.7,557.1 113.4,557.1 114.1,557.1 114.8,557.1 115.5,557.1 116.2,557.1 116.9,557.1 117.6,557.1 118.3,557.1 119.0,557.1 119.7,557.1 120.4,557.1 121.1,557.1 121.8,557.1 122.5,557.1 123.2,557.1 123.9,557.1 124.6,557.1 125.3,557.1 126.0,557.1 126.7,557.1 127.4,557.1 128.1,557.1 128.8,557.1 129.5,557.1 130.2,557.1 130.9,557.1 131.6,557.1 132.3,557.1 133.0,557.1 133.7,557.1 134.4,557.1 135.1,557.1 L135.1,557.1 L62.2,557.1 Z" fill="#d99c9c" stroke="none"/>
<path d="M62.2,557.1 62.9,557.1 63.6,557.1 64.3,557.1 65.0,557.1 65.7,557.1 66.4,557.1 67.1,557.1 67.8,557.1 68.5,557.1 69.2,557.1 69.9,557.1 70.6,557.1 71.3,557.1 72.0,557.1 72.7,557.1 73.4,557.1 74.1,557.1 74.8,557.1 75.5,557.1 76.2,557.1 76.9,557.1 77.6,557.0 78.3,557.1 79.0,557.1 79.7,556.9 80.4,556.2 81.1,555.7 81.8,555.0 82.5,553.7 83.2,551.6 83.9,550.2 84.6,548.2 85.3,543.1 86.0,536.2 86.7,526.3 87.4,514.8 88.1,504.0 88.8,497.0 89.5,496.7 90.2,498.6 90.9,504.6 91.6,511.8 92.3,518.1 93.0,524.6 93.7,533.1 94.4,540.4 95.1,544.3 95.8,547.5 96.5,550.6 97.2,552.8 97.9,554.8 98.7,556.1 99.4,556.0 100.1,556.0 100.8,556.6 101.5,556.9 102.2,556.9 102.9,557.0 103.6,557.1 104.3,557.1 105.0,557.1 105.7,557.1 106.4,557.1 107.1,557.1 107.8,557.1 108.5,557.1 109.2,557.1 109.9,557.1 110.6,557.1 111.3,557.1 112.0,557.1 112.7,557.1 113.4,557.1 114.1,557.1 114.8,557.1 115.5,557.1 116.2,557.1 116.9,557.1 117.6,557.1 118.3,557.1 119.0,557.1 119.7,557.1 120.4,557.1 121.1,557.1 121.8,557.1 122.5,557.1 123.2,557.1 123.9,557.1 124.6,557.1 125.3,557.1 126.0,557.1 126.7,557.1 127.4,557.1 128.1,557.1 128.8,557.1 129.5,557.1 130.2,557.1 130.9,557.1 131.6,557.1 132.3,557.1 133.0,557.1 133.7,557.1 134.4,557.1 135.1,557.1" fill="none" stroke="#34363f" stroke-width="1.2" stroke-linejoin="round"/>
<path d="M62.2,557.1 62.9,557.1 63.6,557.1 64.3,557.1 65.0,557.1 65.7,557.1 66.4,557.1 67.1,557.1 67.8,557.1 68.5,557.1 69.2,557.1 69.9,557.1 70.6,557.1 71.3,557.1 72.0,557.1 72.7,557.1 73.4,557.1 74.1,557.1 74.8,557.1 75.5,557.1 76.2,557.1 76.9,557.1 77.6,557.0 78.3,556.7 79.0,556.3 79.7,556.5 80.4,556.7 81.1,556.1 81.8,555.1 82.5,553.3 83.2,550.8 83.9,547.6 84.6,543.4 85.3,539.5 86.0,534.9 86.7,531.2 87.4,527.7 88.1,523.1 88.8,520.7 89.5,518.0 90.2,516.3 90.9,519.8 91.6,524.0 92.3,527.8 93.0,531.9 93.7,533.9 94.4,536.2 95.1,539.8 95.8,543.1 96.5,546.6 97.2,549.5 97.9,551.4 98.7,552.9 99.4,554.1 100.1,554.9 100.8,555.4 101.5,555.7 102.2,556.3 102.9,556.6 103.6,556.8 104.3,556.9 105.0,557.0 105.7,557.0 106.4,557.1 107.1,557.1 107.8,557.1 108.5,557.1 109.2,557.1 109.9,557.1 110.6,557.1 111.3,557.1 112.0,557.1 112.7,557.1 113.4,557.1 114.1,557.1 114.8,557.1 115.5,557.1 116.2,557.1 116.9,557.1 117.6,557.1 118.3,557.1 119.0,557.1 119.7,557.1 120.4,557.1 121.1,557.1 121.8,557.1 122.5,557.1 123.2,557.1 123.9,557.1 124.6,557.1 125.3,557.1 126.0,557.1 126.7,557.1 127.4,557.1 128.1,557.1 128.8,557.1 129.5,557.1 130.2,557.1 130.9,557.1 131.6,557.1 132.3,557.1 133.0,557.1 133.7,557.1 134.4,557.1 135.1,557.1" fill="none" stroke="#b5183c" stroke-width="1.2" stroke-linejoin="round"/>
<path d="M62.2,557.1 62.9,557.1 63.6,557.1 64.3,557.1 65.0,557.1 65.7,557.1 66.4,557.1 67.1,557.1 67.8,557.1 68.5,557.1 69.2,557.1 69.9,557.1 70.6,557.1 71.3,557.1 72.0,557.1 72.7,557.1 73.4,557.0 74.1,557.1 74.8,557.1 75.5,557.1 76.2,557.0 76.9,557.0 77.6,557.1 78.3,557.1 79.0,557.0 79.7,556.9 80.4,556.7 81.1,556.5 81.8,556.3 82.5,556.2 83.2,556.0 83.9,555.8 84.6,555.7 85.3,555.5 86.0,555.2 86.7,554.9 87.4,554.6 88.1,554.2 88.8,553.7 89.5,553.7 90.2,553.6 90.9,553.3 91.6,552.9 92.3,552.6 93.0,552.3 93.7,552.3 94.4,552.3 95.1,551.6 95.8,550.6 96.5,549.8 97.2,548.5 97.9,545.8 98.7,542.4 99.4,540.2 100.1,537.7 100.8,534.2 101.5,530.6 102.2,526.4 102.9,522.6 103.6,519.2 104.3,516.8 105.0,515.0 105.7,514.5 106.4,517.6 107.1,521.7 107.8,524.6 108.5,528.1 109.2,531.3 109.9,534.7 110.6,542.0 111.3,548.1 112.0,550.0 112.7,551.6 113.4,552.9 114.1,553.8 114.8,554.9 115.5,555.6 116.2,556.2 116.9,556.6 117.6,556.8 118.3,557.0 119.0,557.0 119.7,557.0 120.4,557.1 121.1,557.1 121.8,557.1 122.5,557.1 123.2,557.1 123.9,557.1 124.6,557.1 125.3,557.1 126.0,557.1 126.7,557.1 127.4,557.1 128.1,557.1 128.8,557.1 129.5,557.1 130.2,557.1 130.9,557.1 131.6,557.1 132.3,557.1 133.0,557.1 133.7,557.1 134.4,557.1 135.1,557.1" fill="none" stroke="#34363f" stroke-width="1.2" stroke-linejoin="round"/>
<path d="M62.2,557.1 62.9,557.1 63.6,557.1 64.3,557.1 65.0,557.1 65.7,557.1 66.4,557.1 67.1,557.1 67.8,557.1 68.5,557.1 69.2,557.1 69.9,557.1 70.6,557.1 71.3,557.1 72.0,557.1 72.7,557.1 73.4,557.1 74.1,557.1 74.8,557.1 75.5,557.1 76.2,557.0 76.9,557.1 77.6,557.1 78.3,557.0 79.0,556.8 79.7,556.9 80.4,557.1 81.1,556.8 81.8,556.5 82.5,556.2 83.2,555.9 83.9,555.9 84.6,555.9 85.3,555.6 86.0,555.2 86.7,554.8 87.4,554.3 88.1,554.1 88.8,554.0 89.5,553.8 90.2,553.6 90.9,552.8 91.6,552.0 92.3,552.0 93.0,552.0 93.7,552.2 94.4,552.5 95.1,550.9 95.8,548.9 96.5,549.5 97.2,550.0 97.9,547.1 98.7,543.4 99.4,540.9 100.1,538.0 100.8,533.5 101.5,528.8 102.2,523.8 102.9,519.2 103.6,516.5 104.3,514.9 105.0,513.6 105.7,513.7 106.4,517.9 107.1,523.0 107.8,526.6 108.5,530.6 109.2,533.1 109.9,535.8 110.6,541.2 111.3,545.8 112.0,548.8 112.7,551.3 113.4,553.3 114.1,554.8 114.8,555.0 115.5,555.2 116.2,555.9 116.9,556.4 117.6,556.6 118.3,556.7 119.0,557.0 119.7,557.1 120.4,557.1 121.1,557.1 121.8,557.1 122.5,557.1 123.2,557.1 123.9,557.1 124.6,557.1 125.3,557.1 126.0,557.1 126.7,557.1 127.4,557.1 128.1,557.1 128.8,557.1 129.5,557.1 130.2,557.1 130.9,557.1 131.6,557.1 132.3,557.1 133.0,557.1 133.7,557.1 134.4,557.1 135.1,557.1" fill="none" stroke="#b5183c" stroke-width="1.2" stroke-linejoin="round"/>
<rect x="62.2" y="484.6" width="72.9" height="72.5" fill="none" stroke="#1a1a1a" stroke-width="1.1"/>
<line x1="59.6" y1="557.1" x2="62.2" y2="557.1" stroke="#1a1a1a" stroke-width="0.9"/>
<text x="56.6" y="559.1" font-size="5.8" text-anchor="end" fill="#1e1e1e" stroke="#1e1e1e" stroke-width="0.16" >0</text>
<line x1="60.9" y1="553.65" x2="62.2" y2="553.65" stroke="#1a1a1a" stroke-width="0.7"/>
<line x1="60.9" y1="550.21" x2="62.2" y2="550.21" stroke="#1a1a1a" stroke-width="0.7"/>
<line x1="60.9" y1="546.76" x2="62.2" y2="546.76" stroke="#1a1a1a" stroke-width="0.7"/>
<line x1="59.6" y1="543.32" x2="62.2" y2="543.32" stroke="#1a1a1a" stroke-width="0.9"/>
<text x="56.6" y="545.32" font-size="5.8" text-anchor="end" fill="#1e1e1e" stroke="#1e1e1e" stroke-width="0.16" >20</text>
<line x1="60.9" y1="539.88" x2="62.2" y2="539.88" stroke="#1a1a1a" stroke-width="0.7"/>
<line x1="60.9" y1="536.43" x2="62.2" y2="536.43" stroke="#1a1a1a" stroke-width="0.7"/>
<line x1="60.9" y1="532.99" x2="62.2" y2="532.99" stroke="#1a1a1a" stroke-width="0.7"/>
<line x1="59.6" y1="529.54" x2="62.2" y2="529.54" stroke="#1a1a1a" stroke-width="0.9"/>
<text x="56.6" y="531.54" font-size="5.8" text-anchor="end" fill="#1e1e1e" stroke="#1e1e1e" stroke-width="0.16" >40</text>
<line x1="60.9" y1="526.1" x2="62.2" y2="526.1" stroke="#1a1a1a" stroke-width="0.7"/>
<line x1="60.9" y1="522.65" x2="62.2" y2="522.65" stroke="#1a1a1a" stroke-width="0.7"/>
<line x1="60.9" y1="519.21" x2="62.2" y2="519.21" stroke="#1a1a1a" stroke-width="0.7"/>
<line x1="59.6" y1="515.76" x2="62.2" y2="515.76" stroke="#1a1a1a" stroke-width="0.9"/>
<text x="56.6" y="517.76" font-size="5.8" text-anchor="end" fill="#1e1e1e" stroke="#1e1e1e" stroke-width="0.16" >60</text>
<line x1="60.9" y1="512.32" x2="62.2" y2="512.32" stroke="#1a1a1a" stroke-width="0.7"/>
<line x1="60.9" y1="508.87" x2="62.2" y2="508.87" stroke="#1a1a1a" stroke-width="0.7"/>
<line x1="60.9" y1="505.43" x2="62.2" y2="505.43" stroke="#1a1a1a" stroke-width="0.7"/>
<line x1="59.6" y1="501.98" x2="62.2" y2="501.98" stroke="#1a1a1a" stroke-width="0.9"/>
<text x="56.6" y="503.98" font-size="5.8" text-anchor="end" fill="#1e1e1e" stroke="#1e1e1e" stroke-width="0.16" >80</text>
<line x1="60.9" y1="498.54" x2="62.2" y2="498.54" stroke="#1a1a1a" stroke-width="0.7"/>
<line x1="60.9" y1="495.09" x2="62.2" y2="495.09" stroke="#1a1a1a" stroke-width="0.7"/>
<line x1="60.9" y1="491.64" x2="62.2" y2="491.64" stroke="#1a1a1a" stroke-width="0.7"/>
<line x1="59.6" y1="488.2" x2="62.2" y2="488.2" stroke="#1a1a1a" stroke-width="0.9"/>
<text x="56.6" y="490.2" font-size="5.8" text-anchor="end" fill="#1e1e1e" stroke="#1e1e1e" stroke-width="0.16" >100</text>
<line x1="65" y1="557.1" x2="65" y2="559.5" stroke="#1a1a1a" stroke-width="0.9"/>
<text x="61.9" y="567.6" font-size="6" fill="#333">10<tspan dy="-2.4" font-size="4">2</tspan></text>
<line x1="70.69" y1="557.1" x2="70.69" y2="558.4" stroke="#1a1a1a" stroke-width="0.6"/>
<line x1="74.02" y1="557.1" x2="74.02" y2="558.4" stroke="#1a1a1a" stroke-width="0.6"/>
<line x1="76.38" y1="557.1" x2="76.38" y2="558.4" stroke="#1a1a1a" stroke-width="0.6"/>
<line x1="78.21" y1="557.1" x2="78.21" y2="558.4" stroke="#1a1a1a" stroke-width="0.6"/>
<line x1="79.71" y1="557.1" x2="79.71" y2="558.4" stroke="#1a1a1a" stroke-width="0.6"/>
<line x1="80.97" y1="557.1" x2="80.97" y2="558.4" stroke="#1a1a1a" stroke-width="0.6"/>
<line x1="82.07" y1="557.1" x2="82.07" y2="558.4" stroke="#1a1a1a" stroke-width="0.6"/>
<line x1="83.04" y1="557.1" x2="83.04" y2="558.4" stroke="#1a1a1a" stroke-width="0.6"/>
<line x1="83.9" y1="557.1" x2="83.9" y2="559.5" stroke="#1a1a1a" stroke-width="0.9"/>
<text x="80.8" y="567.6" font-size="6" fill="#333">10<tspan dy="-2.4" font-size="4">3</tspan></text>
<line x1="89.59" y1="557.1" x2="89.59" y2="558.4" stroke="#1a1a1a" stroke-width="0.6"/>
<line x1="92.92" y1="557.1" x2="92.92" y2="558.4" stroke="#1a1a1a" stroke-width="0.6"/>
<line x1="95.28" y1="557.1" x2="95.28" y2="558.4" stroke="#1a1a1a" stroke-width="0.6"/>
<line x1="97.11" y1="557.1" x2="97.11" y2="558.4" stroke="#1a1a1a" stroke-width="0.6"/>
<line x1="98.61" y1="557.1" x2="98.61" y2="558.4" stroke="#1a1a1a" stroke-width="0.6"/>
<line x1="99.87" y1="557.1" x2="99.87" y2="558.4" stroke="#1a1a1a" stroke-width="0.6"/>
<line x1="100.97" y1="557.1" x2="100.97" y2="558.4" stroke="#1a1a1a" stroke-width="0.6"/>
<line x1="101.94" y1="557.1" x2="101.94" y2="558.4" stroke="#1a1a1a" stroke-width="0.6"/>
<line x1="102.8" y1="557.1" x2="102.8" y2="559.5" stroke="#1a1a1a" stroke-width="0.9"/>
<text x="99.7" y="567.6" font-size="6" fill="#333">10<tspan dy="-2.4" font-size="4">4</tspan></text>
<line x1="108.49" y1="557.1" x2="108.49" y2="558.4" stroke="#1a1a1a" stroke-width="0.6"/>
<line x1="111.82" y1="557.1" x2="111.82" y2="558.4" stroke="#1a1a1a" stroke-width="0.6"/>
<line x1="114.18" y1="557.1" x2="114.18" y2="558.4" stroke="#1a1a1a" stroke-width="0.6"/>
<line x1="116.01" y1="557.1" x2="116.01" y2="558.4" stroke="#1a1a1a" stroke-width="0.6"/>
<line x1="117.51" y1="557.1" x2="117.51" y2="558.4" stroke="#1a1a1a" stroke-width="0.6"/>
<line x1="118.77" y1="557.1" x2="118.77" y2="558.4" stroke="#1a1a1a" stroke-width="0.6"/>
<line x1="119.87" y1="557.1" x2="119.87" y2="558.4" stroke="#1a1a1a" stroke-width="0.6"/>
<line x1="120.84" y1="557.1" x2="120.84" y2="558.4" stroke="#1a1a1a" stroke-width="0.6"/>
<line x1="121.7" y1="557.1" x2="121.7" y2="559.5" stroke="#1a1a1a" stroke-width="0.9"/>
<text x="118.6" y="567.6" font-size="6" fill="#333">10<tspan dy="-2.4" font-size="4">5</tspan></text>
<line x1="127.39" y1="557.1" x2="127.39" y2="558.4" stroke="#1a1a1a" stroke-width="0.6"/>
<line x1="130.72" y1="557.1" x2="130.72" y2="558.4" stroke="#1a1a1a" stroke-width="0.6"/>
<line x1="133.08" y1="557.1" x2="133.08" y2="558.4" stroke="#1a1a1a" stroke-width="0.6"/>
<line x1="63.17" y1="557.1" x2="63.17" y2="558.4" stroke="#1a1a1a" stroke-width="0.6"/>
<line x1="64.14" y1="557.1" x2="64.14" y2="558.4" stroke="#1a1a1a" stroke-width="0.6"/>
<path d="M159.5,557.2 160.2,557.2 160.9,557.2 161.6,557.2 162.3,557.2 163.0,557.2 163.7,557.2 164.4,557.2 165.1,557.2 165.8,557.2 166.5,557.2 167.2,557.2 167.9,557.2 168.6,557.2 169.3,557.2 170.0,557.2 170.7,557.2 171.4,557.2 172.1,557.2 172.8,557.2 173.5,557.2 174.2,557.2 174.9,557.2 175.6,557.1 176.3,557.1 177.0,556.9 177.7,556.6 178.4,556.4 179.1,556.2 179.8,555.5 180.5,554.5 181.2,552.7 181.9,550.0 182.6,547.1 183.3,543.4 184.0,540.1 184.7,536.6 185.4,525.8 186.1,513.8 186.8,509.2 187.5,506.2 188.2,500.8 188.9,497.5 189.6,498.9 190.3,502.5 191.0,501.0 191.7,501.6 192.4,512.0 193.1,522.1 193.8,530.1 194.5,537.2 195.2,543.9 195.9,549.2 196.7,550.7 197.4,551.8 198.1,554.4 198.8,556.1 199.5,556.1 200.2,556.2 200.9,556.9 201.6,557.2 202.3,557.2 203.0,557.2 203.7,557.1 204.4,557.1 205.1,557.2 205.8,557.2 206.5,557.2 207.2,557.2 207.9,557.2 208.6,557.2 209.3,557.2 210.0,557.2 210.7,557.2 211.4,557.2 212.1,557.2 212.8,557.2 213.5,557.2 214.2,557.2 214.9,557.2 215.6,557.2 216.3,557.2 217.0,557.2 217.7,557.2 218.4,557.2 219.1,557.2 219.8,557.2 220.5,557.2 221.2,557.2 221.9,557.2 222.6,557.2 223.3,557.2 224.0,557.2 224.7,557.2 225.4,557.2 226.1,557.2 226.8,557.2 227.5,557.2 228.2,557.2 228.9,557.2 229.6,557.2 230.3,557.2 231.0,557.2 231.7,557.2 232.4,557.2 L232.4,557.2 L159.5,557.2 Z" fill="#8e94ad" stroke="none"/>
<path d="M159.5,557.2 160.2,557.2 160.9,557.2 161.6,557.2 162.3,557.2 163.0,557.2 163.7,557.2 164.4,557.2 165.1,557.2 165.8,557.2 166.5,557.2 167.2,557.2 167.9,557.2 168.6,557.2 169.3,557.2 170.0,557.2 170.7,557.2 171.4,557.2 172.1,557.2 172.8,557.2 173.5,557.2 174.2,557.2 174.9,557.2 175.6,557.2 176.3,557.1 177.0,557.0 177.7,556.7 178.4,556.7 179.1,556.6 179.8,555.4 180.5,553.4 181.2,551.6 181.9,549.2 182.6,546.0 183.3,541.9 184.0,536.4 184.7,530.1 185.4,522.3 186.1,514.5 186.8,510.3 187.5,507.8 188.2,506.2 188.9,506.8 189.6,504.8 190.3,504.8 191.0,508.6 191.7,513.7 192.4,522.3 193.1,530.5 193.8,536.4 194.5,541.6 195.2,546.0 195.9,549.5 196.7,552.5 197.4,554.5 198.1,555.3 198.8,555.8 199.5,556.3 200.2,556.6 200.9,556.9 201.6,557.1 202.3,557.1 203.0,557.1 203.7,557.2 204.4,557.2 205.1,557.2 205.8,557.2 206.5,557.2 207.2,557.2 207.9,557.2 208.6,557.2 209.3,557.2 210.0,557.2 210.7,557.2 211.4,557.2 212.1,557.2 212.8,557.2 213.5,557.2 214.2,557.2 214.9,557.2 215.6,557.2 216.3,557.2 217.0,557.2 217.7,557.2 218.4,557.2 219.1,557.2 219.8,557.2 220.5,557.2 221.2,557.2 221.9,557.2 222.6,557.2 223.3,557.2 224.0,557.2 224.7,557.2 225.4,557.2 226.1,557.2 226.8,557.2 227.5,557.2 228.2,557.2 228.9,557.2 229.6,557.2 230.3,557.2 231.0,557.2 231.7,557.2 232.4,557.2 L232.4,557.2 L159.5,557.2 Z" fill="#d99c9c" stroke="none"/>
<path d="M159.5,557.2 160.2,557.2 160.9,557.2 161.6,557.2 162.3,557.2 163.0,557.2 163.7,557.2 164.4,557.2 165.1,557.2 165.8,557.2 166.5,557.2 167.2,557.2 167.9,557.2 168.6,557.2 169.3,557.2 170.0,557.2 170.7,557.2 171.4,557.2 172.1,557.2 172.8,557.2 173.5,557.2 174.2,557.2 174.9,557.2 175.6,557.1 176.3,557.1 177.0,556.9 177.7,556.6 178.4,556.4 179.1,556.2 179.8,555.5 180.5,554.5 181.2,552.7 181.9,550.0 182.6,547.1 183.3,543.4 184.0,540.1 184.7,536.6 185.4,525.8 186.1,513.8 186.8,509.2 187.5,506.2 188.2,500.8 188.9,497.5 189.6,498.9 190.3,502.5 191.0,501.0 191.7,501.6 192.4,512.0 193.1,522.1 193.8,530.1 194.5,537.2 195.2,543.9 195.9,549.2 196.7,550.7 197.4,551.8 198.1,554.4 198.8,556.1 199.5,556.1 200.2,556.2 200.9,556.9 201.6,557.2 202.3,557.2 203.0,557.2 203.7,557.1 204.4,557.1 205.1,557.2 205.8,557.2 206.5,557.2 207.2,557.2 207.9,557.2 208.6,557.2 209.3,557.2 210.0,557.2 210.7,557.2 211.4,557.2 212.1,557.2 212.8,557.2 213.5,557.2 214.2,557.2 214.9,557.2 215.6,557.2 216.3,557.2 217.0,557.2 217.7,557.2 218.4,557.2 219.1,557.2 219.8,557.2 220.5,557.2 221.2,557.2 221.9,557.2 222.6,557.2 223.3,557.2 224.0,557.2 224.7,557.2 225.4,557.2 226.1,557.2 226.8,557.2 227.5,557.2 228.2,557.2 228.9,557.2 229.6,557.2 230.3,557.2 231.0,557.2 231.7,557.2 232.4,557.2" fill="none" stroke="#34363f" stroke-width="1.2" stroke-linejoin="round"/>
<path d="M159.5,557.2 160.2,557.2 160.9,557.2 161.6,557.2 162.3,557.2 163.0,557.2 163.7,557.2 164.4,557.2 165.1,557.2 165.8,557.2 166.5,557.2 167.2,557.2 167.9,557.2 168.6,557.2 169.3,557.2 170.0,557.2 170.7,557.2 171.4,557.2 172.1,557.2 172.8,557.2 173.5,557.2 174.2,557.2 174.9,557.2 175.6,557.2 176.3,557.1 177.0,557.0 177.7,556.7 178.4,556.7 179.1,556.6 179.8,555.4 180.5,553.4 181.2,551.6 181.9,549.2 182.6,546.0 183.3,541.9 184.0,536.4 184.7,530.1 185.4,522.3 186.1,514.5 186.8,510.3 187.5,507.8 188.2,506.2 188.9,506.8 189.6,504.8 190.3,504.8 191.0,508.6 191.7,513.7 192.4,522.3 193.1,530.5 193.8,536.4 194.5,541.6 195.2,546.0 195.9,549.5 196.7,552.5 197.4,554.5 198.1,555.3 198.8,555.8 199.5,556.3 200.2,556.6 200.9,556.9 201.6,557.1 202.3,557.1 203.0,557.1 203.7,557.2 204.4,557.2 205.1,557.2 205.8,557.2 206.5,557.2 207.2,557.2 207.9,557.2 208.6,557.2 209.3,557.2 210.0,557.2 210.7,557.2 211.4,557.2 212.1,557.2 212.8,557.2 213.5,557.2 214.2,557.2 214.9,557.2 215.6,557.2 216.3,557.2 217.0,557.2 217.7,557.2 218.4,557.2 219.1,557.2 219.8,557.2 220.5,557.2 221.2,557.2 221.9,557.2 222.6,557.2 223.3,557.2 224.0,557.2 224.7,557.2 225.4,557.2 226.1,557.2 226.8,557.2 227.5,557.2 228.2,557.2 228.9,557.2 229.6,557.2 230.3,557.2 231.0,557.2 231.7,557.2 232.4,557.2" fill="none" stroke="#b5183c" stroke-width="1.2" stroke-linejoin="round"/>
<path d="M159.5,557.2 160.2,557.2 160.9,557.2 161.6,557.2 162.3,557.2 163.0,557.2 163.7,557.2 164.4,557.2 165.1,557.2 165.8,557.2 166.5,557.2 167.2,557.2 167.9,557.2 168.6,557.2 169.3,557.2 170.0,557.2 170.7,557.2 171.4,557.2 172.1,557.2 172.8,557.2 173.5,557.2 174.2,557.2 174.9,557.2 175.6,557.2 176.3,557.2 177.0,557.2 177.7,557.2 178.4,557.2 179.1,557.2 179.8,557.2 180.5,557.2 181.2,557.2 181.9,557.2 182.6,557.1 183.3,557.1 184.0,557.1 184.7,557.0 185.4,556.7 186.1,556.1 186.8,555.9 187.5,555.7 188.2,554.8 188.9,554.1 189.6,554.6 190.3,555.4 191.0,556.1 191.7,556.7 192.4,556.8 193.1,556.7 193.8,556.0 194.5,554.6 195.2,553.0 195.9,550.6 196.7,546.9 197.4,542.4 198.1,538.5 198.8,534.9 199.5,530.2 200.2,525.9 200.9,523.2 201.6,520.9 202.3,519.4 203.0,517.7 203.7,512.9 204.4,508.5 205.1,506.8 205.8,506.9 206.5,510.0 207.2,515.3 207.9,520.0 208.6,525.8 209.3,532.0 210.0,537.8 210.7,544.0 211.4,548.8 212.1,552.4 212.8,554.7 213.5,556.1 214.2,556.9 214.9,557.0 215.6,557.1 216.3,557.2 217.0,557.2 217.7,557.2 218.4,557.2 219.1,557.2 219.8,557.2 220.5,557.2 221.2,557.2 221.9,557.2 222.6,557.2 223.3,557.2 224.0,557.2 224.7,557.2 225.4,557.2 226.1,557.2 226.8,557.2 227.5,557.2 228.2,557.2 228.9,557.2 229.6,557.2 230.3,557.2 231.0,557.2 231.7,557.2 232.4,557.2" fill="none" stroke="#34363f" stroke-width="1.2" stroke-linejoin="round"/>
<path d="M159.5,557.2 160.2,557.2 160.9,557.2 161.6,557.2 162.3,557.2 163.0,557.2 163.7,557.2 164.4,557.2 165.1,557.2 165.8,557.2 166.5,557.2 167.2,557.2 167.9,557.2 168.6,557.2 169.3,557.2 170.0,557.2 170.7,557.2 171.4,557.2 172.1,557.2 172.8,557.2 173.5,557.2 174.2,557.2 174.9,557.2 175.6,557.2 176.3,557.2 177.0,557.0 177.7,556.7 178.4,556.6 179.1,556.6 179.8,556.5 180.5,556.5 181.2,556.1 181.9,555.7 182.6,554.8 183.3,553.7 184.0,553.2 184.7,552.7 185.4,552.7 186.1,552.9 186.8,551.0 187.5,549.1 188.2,549.3 188.9,549.6 189.6,548.2 190.3,546.8 191.0,547.1 191.7,547.4 192.4,546.3 193.1,545.3 193.8,543.3 194.5,540.5 195.2,538.6 195.9,535.4 196.7,528.1 197.4,520.6 198.1,514.9 198.8,511.0 199.5,510.3 200.2,510.8 200.9,508.2 201.6,505.8 202.3,507.0 203.0,508.2 203.7,509.8 204.4,512.1 205.1,513.3 205.8,515.9 206.5,521.1 207.2,527.8 207.9,535.6 208.6,542.9 209.3,549.3 210.0,553.4 210.7,555.0 211.4,555.8 212.1,556.3 212.8,556.7 213.5,557.0 214.2,557.2 214.9,557.2 215.6,557.2 216.3,557.1 217.0,557.1 217.7,557.2 218.4,557.2 219.1,557.2 219.8,557.2 220.5,557.2 221.2,557.2 221.9,557.2 222.6,557.2 223.3,557.2 224.0,557.2 224.7,557.2 225.4,557.2 226.1,557.2 226.8,557.2 227.5,557.2 228.2,557.2 228.9,557.2 229.6,557.2 230.3,557.2 231.0,557.2 231.7,557.2 232.4,557.2" fill="none" stroke="#b5183c" stroke-width="1.2" stroke-linejoin="round"/>
<rect x="159.5" y="484.8" width="72.9" height="72.4" fill="none" stroke="#1a1a1a" stroke-width="1.1"/>
<line x1="156.9" y1="557.2" x2="159.5" y2="557.2" stroke="#1a1a1a" stroke-width="0.9"/>
<text x="153.9" y="559.2" font-size="5.8" text-anchor="end" fill="#1e1e1e" stroke="#1e1e1e" stroke-width="0.16" >0</text>
<line x1="158.2" y1="553.76" x2="159.5" y2="553.76" stroke="#1a1a1a" stroke-width="0.7"/>
<line x1="158.2" y1="550.32" x2="159.5" y2="550.32" stroke="#1a1a1a" stroke-width="0.7"/>
<line x1="158.2" y1="546.88" x2="159.5" y2="546.88" stroke="#1a1a1a" stroke-width="0.7"/>
<line x1="156.9" y1="543.44" x2="159.5" y2="543.44" stroke="#1a1a1a" stroke-width="0.9"/>
<text x="153.9" y="545.44" font-size="5.8" text-anchor="end" fill="#1e1e1e" stroke="#1e1e1e" stroke-width="0.16" >20</text>
<line x1="158.2" y1="540" x2="159.5" y2="540" stroke="#1a1a1a" stroke-width="0.7"/>
<line x1="158.2" y1="536.56" x2="159.5" y2="536.56" stroke="#1a1a1a" stroke-width="0.7"/>
<line x1="158.2" y1="533.12" x2="159.5" y2="533.12" stroke="#1a1a1a" stroke-width="0.7"/>
<line x1="156.9" y1="529.68" x2="159.5" y2="529.68" stroke="#1a1a1a" stroke-width="0.9"/>
<text x="153.9" y="531.68" font-size="5.8" text-anchor="end" fill="#1e1e1e" stroke="#1e1e1e" stroke-width="0.16" >40</text>
<line x1="158.2" y1="526.24" x2="159.5" y2="526.24" stroke="#1a1a1a" stroke-width="0.7"/>
<line x1="158.2" y1="522.8" x2="159.5" y2="522.8" stroke="#1a1a1a" stroke-width="0.7"/>
<line x1="158.2" y1="519.36" x2="159.5" y2="519.36" stroke="#1a1a1a" stroke-width="0.7"/>
<line x1="156.9" y1="515.92" x2="159.5" y2="515.92" stroke="#1a1a1a" stroke-width="0.9"/>
<text x="153.9" y="517.92" font-size="5.8" text-anchor="end" fill="#1e1e1e" stroke="#1e1e1e" stroke-width="0.16" >60</text>
<line x1="158.2" y1="512.48" x2="159.5" y2="512.48" stroke="#1a1a1a" stroke-width="0.7"/>
<line x1="158.2" y1="509.04" x2="159.5" y2="509.04" stroke="#1a1a1a" stroke-width="0.7"/>
<line x1="158.2" y1="505.6" x2="159.5" y2="505.6" stroke="#1a1a1a" stroke-width="0.7"/>
<line x1="156.9" y1="502.16" x2="159.5" y2="502.16" stroke="#1a1a1a" stroke-width="0.9"/>
<text x="153.9" y="504.16" font-size="5.8" text-anchor="end" fill="#1e1e1e" stroke="#1e1e1e" stroke-width="0.16" >80</text>
<line x1="158.2" y1="498.72" x2="159.5" y2="498.72" stroke="#1a1a1a" stroke-width="0.7"/>
<line x1="158.2" y1="495.28" x2="159.5" y2="495.28" stroke="#1a1a1a" stroke-width="0.7"/>
<line x1="158.2" y1="491.84" x2="159.5" y2="491.84" stroke="#1a1a1a" stroke-width="0.7"/>
<line x1="156.9" y1="488.4" x2="159.5" y2="488.4" stroke="#1a1a1a" stroke-width="0.9"/>
<text x="153.9" y="490.4" font-size="5.8" text-anchor="end" fill="#1e1e1e" stroke="#1e1e1e" stroke-width="0.16" >100</text>
<line x1="162.3" y1="557.2" x2="162.3" y2="559.6" stroke="#1a1a1a" stroke-width="0.9"/>
<text x="159.2" y="567.7" font-size="6" fill="#333">10<tspan dy="-2.4" font-size="4">2</tspan></text>
<line x1="167.99" y1="557.2" x2="167.99" y2="558.5" stroke="#1a1a1a" stroke-width="0.6"/>
<line x1="171.32" y1="557.2" x2="171.32" y2="558.5" stroke="#1a1a1a" stroke-width="0.6"/>
<line x1="173.68" y1="557.2" x2="173.68" y2="558.5" stroke="#1a1a1a" stroke-width="0.6"/>
<line x1="175.51" y1="557.2" x2="175.51" y2="558.5" stroke="#1a1a1a" stroke-width="0.6"/>
<line x1="177.01" y1="557.2" x2="177.01" y2="558.5" stroke="#1a1a1a" stroke-width="0.6"/>
<line x1="178.27" y1="557.2" x2="178.27" y2="558.5" stroke="#1a1a1a" stroke-width="0.6"/>
<line x1="179.37" y1="557.2" x2="179.37" y2="558.5" stroke="#1a1a1a" stroke-width="0.6"/>
<line x1="180.34" y1="557.2" x2="180.34" y2="558.5" stroke="#1a1a1a" stroke-width="0.6"/>
<line x1="181.2" y1="557.2" x2="181.2" y2="559.6" stroke="#1a1a1a" stroke-width="0.9"/>
<text x="178.1" y="567.7" font-size="6" fill="#333">10<tspan dy="-2.4" font-size="4">3</tspan></text>
<line x1="186.89" y1="557.2" x2="186.89" y2="558.5" stroke="#1a1a1a" stroke-width="0.6"/>
<line x1="190.22" y1="557.2" x2="190.22" y2="558.5" stroke="#1a1a1a" stroke-width="0.6"/>
<line x1="192.58" y1="557.2" x2="192.58" y2="558.5" stroke="#1a1a1a" stroke-width="0.6"/>
<line x1="194.41" y1="557.2" x2="194.41" y2="558.5" stroke="#1a1a1a" stroke-width="0.6"/>
<line x1="195.91" y1="557.2" x2="195.91" y2="558.5" stroke="#1a1a1a" stroke-width="0.6"/>
<line x1="197.17" y1="557.2" x2="197.17" y2="558.5" stroke="#1a1a1a" stroke-width="0.6"/>
<line x1="198.27" y1="557.2" x2="198.27" y2="558.5" stroke="#1a1a1a" stroke-width="0.6"/>
<line x1="199.24" y1="557.2" x2="199.24" y2="558.5" stroke="#1a1a1a" stroke-width="0.6"/>
<line x1="200.1" y1="557.2" x2="200.1" y2="559.6" stroke="#1a1a1a" stroke-width="0.9"/>
<text x="197" y="567.7" font-size="6" fill="#333">10<tspan dy="-2.4" font-size="4">4</tspan></text>
<line x1="205.79" y1="557.2" x2="205.79" y2="558.5" stroke="#1a1a1a" stroke-width="0.6"/>
<line x1="209.12" y1="557.2" x2="209.12" y2="558.5" stroke="#1a1a1a" stroke-width="0.6"/>
<line x1="211.48" y1="557.2" x2="211.48" y2="558.5" stroke="#1a1a1a" stroke-width="0.6"/>
<line x1="213.31" y1="557.2" x2="213.31" y2="558.5" stroke="#1a1a1a" stroke-width="0.6"/>
<line x1="214.81" y1="557.2" x2="214.81" y2="558.5" stroke="#1a1a1a" stroke-width="0.6"/>
<line x1="216.07" y1="557.2" x2="216.07" y2="558.5" stroke="#1a1a1a" stroke-width="0.6"/>
<line x1="217.17" y1="557.2" x2="217.17" y2="558.5" stroke="#1a1a1a" stroke-width="0.6"/>
<line x1="218.14" y1="557.2" x2="218.14" y2="558.5" stroke="#1a1a1a" stroke-width="0.6"/>
<line x1="219" y1="557.2" x2="219" y2="559.6" stroke="#1a1a1a" stroke-width="0.9"/>
<text x="215.9" y="567.7" font-size="6" fill="#333">10<tspan dy="-2.4" font-size="4">5</tspan></text>
<line x1="224.69" y1="557.2" x2="224.69" y2="558.5" stroke="#1a1a1a" stroke-width="0.6"/>
<line x1="228.02" y1="557.2" x2="228.02" y2="558.5" stroke="#1a1a1a" stroke-width="0.6"/>
<line x1="230.38" y1="557.2" x2="230.38" y2="558.5" stroke="#1a1a1a" stroke-width="0.6"/>
<line x1="160.47" y1="557.2" x2="160.47" y2="558.5" stroke="#1a1a1a" stroke-width="0.6"/>
<line x1="161.44" y1="557.2" x2="161.44" y2="558.5" stroke="#1a1a1a" stroke-width="0.6"/>
<text x="61.3" y="578.2" font-size="6.4" text-anchor="start" fill="#1a1a1a" stroke="#1a1a1a" stroke-width="0.38" textLength="16.8" lengthAdjust="spacingAndGlyphs" >pSTAT3</text>
<line x1="82.8" y1="576.3" x2="229.6" y2="576.3" stroke="#1a1a1a" stroke-width="1.15"/>
<path d="M233.6,576.3 L228.4,574.1 L229.4,576.3 L228.4,578.5 Z" fill="#1a1a1a"/>
<text x="61.9" y="601" font-size="5.6" text-anchor="start" fill="#444" stroke="#444" stroke-width="0.16" >WT:</text>
<text x="106.9" y="601" font-size="5.6" text-anchor="start" fill="#444" stroke="#444" stroke-width="0.16" >shRNA:</text>
<rect x="62" y="606.4" width="15" height="4" fill="#73778b" stroke="#4a4c5a" stroke-width="0.8"/>
<rect x="107" y="606.4" width="14.8" height="4" fill="#e0505c" stroke="#b01c34" stroke-width="0.8"/>
<text x="79.2" y="609.8" font-size="5.6" text-anchor="start" fill="#444" stroke="#444" stroke-width="0.16" >&#8211; IL-27</text>
<text x="124" y="609.8" font-size="5.6" text-anchor="start" fill="#444" stroke="#444" stroke-width="0.16" >&#8211; IL-27</text>
<line x1="62" y1="617.4" x2="76.8" y2="617.4" stroke="#2f3240" stroke-width="1.1"/>
<line x1="107" y1="617.4" x2="121.8" y2="617.4" stroke="#b8123a" stroke-width="1.1"/>
<text x="79.2" y="619.3" font-size="5.6" text-anchor="start" fill="#444" stroke="#444" stroke-width="0.16" >+ IL-27</text>
<text x="124" y="619.3" font-size="5.6" text-anchor="start" fill="#444" stroke="#444" stroke-width="0.16" >+ IL-27</text>
<text x="326.95" y="344.8" font-size="7.4" text-anchor="middle" fill="#141414" stroke="#141414" stroke-width="0.16" >shRen</text>
<line x1="287.4" y1="359.9" x2="287.4" y2="444.3" stroke="#222" stroke-width="1.2"/>
<line x1="286.8" y1="443.7" x2="364.5" y2="443.7" stroke="#222" stroke-width="1.2"/>
<line x1="284.7" y1="443.7" x2="287.4" y2="443.7" stroke="#222" stroke-width="0.9"/>
<text x="281.8" y="445.9" font-size="6.2" text-anchor="end" fill="#1e1e1e" stroke="#1e1e1e" stroke-width="0.16" >0</text>
<line x1="284.7" y1="423.3" x2="287.4" y2="423.3" stroke="#222" stroke-width="0.9"/>
<text x="281.8" y="425.5" font-size="6.2" text-anchor="end" fill="#1e1e1e" stroke="#1e1e1e" stroke-width="0.16" >5000</text>
<line x1="284.7" y1="402.9" x2="287.4" y2="402.9" stroke="#222" stroke-width="0.9"/>
<text x="281.8" y="405.1" font-size="6.2" text-anchor="end" fill="#1e1e1e" stroke="#1e1e1e" stroke-width="0.16" >10000</text>
<line x1="284.7" y1="382.5" x2="287.4" y2="382.5" stroke="#222" stroke-width="0.9"/>
<text x="281.8" y="384.7" font-size="6.2" text-anchor="end" fill="#1e1e1e" stroke="#1e1e1e" stroke-width="0.16" >15000</text>
<line x1="284.7" y1="362.1" x2="287.4" y2="362.1" stroke="#222" stroke-width="0.9"/>
<text x="281.8" y="364.3" font-size="6.2" text-anchor="end" fill="#1e1e1e" stroke="#1e1e1e" stroke-width="0.16" >20000</text>
<line x1="299.1" y1="443.7" x2="299.1" y2="446.1" stroke="#222" stroke-width="0.9"/>
<line x1="316.9" y1="443.7" x2="316.9" y2="446.1" stroke="#222" stroke-width="0.9"/>
<line x1="334.5" y1="443.7" x2="334.5" y2="446.1" stroke="#222" stroke-width="0.9"/>
<line x1="352.3" y1="443.7" x2="352.3" y2="446.1" stroke="#222" stroke-width="0.9"/>
<line x1="293" y1="439.8" x2="305.5" y2="439.8" stroke="#56627f" stroke-width="1"/>
<circle cx="295" cy="439.8" r="1.95" fill="none" stroke="#56627f" stroke-width="1"/>
<circle cx="299.1" cy="439.9" r="1.95" fill="none" stroke="#56627f" stroke-width="1"/>
<circle cx="303.1" cy="439.8" r="1.95" fill="none" stroke="#56627f" stroke-width="1"/>
<line x1="311" y1="439.8" x2="323" y2="439.8" stroke="#cc1530" stroke-width="1"/>
<circle cx="313.1" cy="439.6" r="1.95" fill="none" stroke="#cc1530" stroke-width="1"/>
<circle cx="316.7" cy="440.2" r="1.95" fill="none" stroke="#cc1530" stroke-width="1"/>
<circle cx="320.4" cy="439.6" r="1.95" fill="none" stroke="#cc1530" stroke-width="1"/>
<line x1="334.4" y1="366" x2="334.4" y2="377.5" stroke="#56627f" stroke-width="0.9"/>
<line x1="332.8" y1="366" x2="336" y2="366" stroke="#56627f" stroke-width="0.9"/>
<line x1="332.8" y1="377.5" x2="336" y2="377.5" stroke="#56627f" stroke-width="0.9"/>
<line x1="328.5" y1="371.7" x2="340.6" y2="371.7" stroke="#56627f" stroke-width="1"/>
<circle cx="334.3" cy="364.3" r="1.95" fill="none" stroke="#56627f" stroke-width="1"/>
<circle cx="332.2" cy="376" r="1.95" fill="none" stroke="#56627f" stroke-width="1"/>
<circle cx="336.4" cy="376" r="1.95" fill="none" stroke="#56627f" stroke-width="1"/>
<line x1="352.3" y1="369.8" x2="352.3" y2="373.6" stroke="#cc1530" stroke-width="0.9"/>
<line x1="350.7" y1="369.8" x2="353.9" y2="369.8" stroke="#cc1530" stroke-width="0.9"/>
<line x1="350.7" y1="373.6" x2="353.9" y2="373.6" stroke="#cc1530" stroke-width="0.9"/>
<line x1="346.8" y1="371.6" x2="357.9" y2="371.6" stroke="#cc1530" stroke-width="1"/>
<circle cx="353" cy="370.1" r="1.95" fill="none" stroke="#cc1530" stroke-width="1"/>
<circle cx="350.6" cy="372.9" r="1.95" fill="none" stroke="#cc1530" stroke-width="1"/>
<circle cx="354.4" cy="374.6" r="1.95" fill="none" stroke="#cc1530" stroke-width="1"/>
<line x1="293" y1="449.8" x2="322.4" y2="449.8" stroke="#333" stroke-width="0.9"/>
<line x1="328.4" y1="449.8" x2="358.7" y2="449.8" stroke="#333" stroke-width="0.9"/>
<text x="308.4" y="459.4" font-size="7" text-anchor="middle" fill="#222" stroke="#222" stroke-width="0.38" textLength="16" lengthAdjust="spacingAndGlyphs" >&#8211;IL-27</text>
<text x="343.8" y="459.4" font-size="7" text-anchor="middle" fill="#222" stroke="#222" stroke-width="0.38" textLength="16" lengthAdjust="spacingAndGlyphs" >+IL-27</text>
<path d="M298.6,433.1 L298.6,431.5 L315.5,431.5 L315.5,433.1" fill="none" stroke="#333" stroke-width="0.9"/>
<text x="307.05" y="428.9" font-size="5.4" text-anchor="middle" fill="#444" stroke="#444" stroke-width="0.16" >ns</text>
<path d="M334,357.7 L334,356.1 L351,356.1 L351,357.7" fill="none" stroke="#333" stroke-width="0.9"/>
<text x="342.5" y="353.5" font-size="5.4" text-anchor="middle" fill="#444" stroke="#444" stroke-width="0.16" >ns</text>
<text x="259.2" y="401.7" font-size="6" text-anchor="middle" fill="#222" stroke="#222" stroke-width="0.38" textLength="27.7" lengthAdjust="spacingAndGlyphs" transform="rotate(-90 259.2 401.7)" >pSTAT1 MFI</text>
<text x="446.5" y="344.5" font-size="7.4" text-anchor="middle" fill="#141414" stroke="#141414" stroke-width="0.16" >shRELA</text>
<line x1="405" y1="357.2" x2="405" y2="443.9" stroke="#222" stroke-width="1.2"/>
<line x1="404.4" y1="443.3" x2="486" y2="443.3" stroke="#222" stroke-width="1.2"/>
<line x1="402.3" y1="443.3" x2="405" y2="443.3" stroke="#222" stroke-width="0.9"/>
<text x="399.4" y="445.5" font-size="6.2" text-anchor="end" fill="#1e1e1e" stroke="#1e1e1e" stroke-width="0.16" >0</text>
<line x1="402.3" y1="422.18" x2="405" y2="422.18" stroke="#222" stroke-width="0.9"/>
<text x="399.4" y="424.38" font-size="6.2" text-anchor="end" fill="#1e1e1e" stroke="#1e1e1e" stroke-width="0.16" >5000</text>
<line x1="402.3" y1="401.05" x2="405" y2="401.05" stroke="#222" stroke-width="0.9"/>
<text x="399.4" y="403.25" font-size="6.2" text-anchor="end" fill="#1e1e1e" stroke="#1e1e1e" stroke-width="0.16" >10000</text>
<line x1="402.3" y1="379.93" x2="405" y2="379.93" stroke="#222" stroke-width="0.9"/>
<text x="399.4" y="382.12" font-size="6.2" text-anchor="end" fill="#1e1e1e" stroke="#1e1e1e" stroke-width="0.16" >15000</text>
<line x1="402.3" y1="358.8" x2="405" y2="358.8" stroke="#222" stroke-width="0.9"/>
<text x="399.4" y="361" font-size="6.2" text-anchor="end" fill="#1e1e1e" stroke="#1e1e1e" stroke-width="0.16" >20000</text>
<line x1="417.9" y1="443.3" x2="417.9" y2="445.7" stroke="#222" stroke-width="0.9"/>
<line x1="436" y1="443.3" x2="436" y2="445.7" stroke="#222" stroke-width="0.9"/>
<line x1="454" y1="443.3" x2="454" y2="445.7" stroke="#222" stroke-width="0.9"/>
<line x1="473" y1="443.3" x2="473" y2="445.7" stroke="#222" stroke-width="0.9"/>
<line x1="411.5" y1="439.9" x2="424" y2="439.9" stroke="#56627f" stroke-width="1"/>
<circle cx="413.9" cy="439.9" r="1.95" fill="none" stroke="#56627f" stroke-width="1"/>
<circle cx="417.9" cy="439.9" r="1.95" fill="none" stroke="#56627f" stroke-width="1"/>
<circle cx="421.9" cy="439.9" r="1.95" fill="none" stroke="#56627f" stroke-width="1"/>
<line x1="429.5" y1="440" x2="442.5" y2="440" stroke="#cc1530" stroke-width="1"/>
<circle cx="432" cy="440" r="1.95" fill="none" stroke="#cc1530" stroke-width="1"/>
<circle cx="436" cy="440" r="1.95" fill="none" stroke="#cc1530" stroke-width="1"/>
<circle cx="440" cy="440" r="1.95" fill="none" stroke="#cc1530" stroke-width="1"/>
<line x1="454.4" y1="383" x2="454.4" y2="386.5" stroke="#56627f" stroke-width="0.9"/>
<line x1="452.8" y1="383" x2="456" y2="383" stroke="#56627f" stroke-width="0.9"/>
<line x1="452.8" y1="386.5" x2="456" y2="386.5" stroke="#56627f" stroke-width="0.9"/>
<line x1="448.7" y1="384.7" x2="460.7" y2="384.7" stroke="#56627f" stroke-width="1"/>
<circle cx="454.4" cy="382.3" r="1.95" fill="none" stroke="#56627f" stroke-width="1"/>
<circle cx="456.8" cy="384.7" r="1.95" fill="none" stroke="#56627f" stroke-width="1"/>
<circle cx="452" cy="387.6" r="1.95" fill="none" stroke="#56627f" stroke-width="1"/>
<line x1="473" y1="393.5" x2="473" y2="400.5" stroke="#cc1530" stroke-width="0.9"/>
<line x1="471.4" y1="393.5" x2="474.6" y2="393.5" stroke="#cc1530" stroke-width="0.9"/>
<line x1="471.4" y1="400.5" x2="474.6" y2="400.5" stroke="#cc1530" stroke-width="0.9"/>
<line x1="467.4" y1="397.2" x2="479" y2="397.2" stroke="#cc1530" stroke-width="1"/>
<circle cx="470.3" cy="395.6" r="1.95" fill="none" stroke="#cc1530" stroke-width="1"/>
<circle cx="475.1" cy="395.6" r="1.95" fill="none" stroke="#cc1530" stroke-width="1"/>
<circle cx="473.2" cy="401.8" r="1.95" fill="none" stroke="#cc1530" stroke-width="1"/>
<line x1="411.7" y1="449.2" x2="441.4" y2="449.2" stroke="#333" stroke-width="0.9"/>
<line x1="448" y1="449.2" x2="479" y2="449.2" stroke="#333" stroke-width="0.9"/>
<text x="425.8" y="459.2" font-size="7" text-anchor="middle" fill="#222" stroke="#222" stroke-width="0.38" textLength="16" lengthAdjust="spacingAndGlyphs" >&#8211;IL-27</text>
<text x="463.2" y="459.2" font-size="7" text-anchor="middle" fill="#222" stroke="#222" stroke-width="0.38" textLength="16" lengthAdjust="spacingAndGlyphs" >+IL-27</text>
<path d="M417,432.6 L417,431 L434.6,431 L434.6,432.6" fill="none" stroke="#333" stroke-width="0.9"/>
<text x="425.8" y="428.4" font-size="5.4" text-anchor="middle" fill="#444" stroke="#444" stroke-width="0.16" >ns</text>
<path d="M454.6,376.2 L454.6,374.6 L472.5,374.6 L472.5,376.2" fill="none" stroke="#333" stroke-width="0.9"/>
<text x="463.55" y="374" font-size="6.5" text-anchor="middle" fill="#333" stroke="#333" stroke-width="0.16" >***</text>
<line x1="287.9" y1="482.1" x2="287.9" y2="567.6" stroke="#222" stroke-width="1.2"/>
<line x1="287.3" y1="567" x2="366.5" y2="567" stroke="#222" stroke-width="1.2"/>
<line x1="285.2" y1="567" x2="287.9" y2="567" stroke="#222" stroke-width="0.9"/>
<text x="282.3" y="569.2" font-size="6.2" text-anchor="end" fill="#1e1e1e" stroke="#1e1e1e" stroke-width="0.16" >0</text>
<line x1="285.2" y1="546.25" x2="287.9" y2="546.25" stroke="#222" stroke-width="0.9"/>
<text x="282.3" y="548.45" font-size="6.2" text-anchor="end" fill="#1e1e1e" stroke="#1e1e1e" stroke-width="0.16" >5000</text>
<line x1="285.2" y1="525.5" x2="287.9" y2="525.5" stroke="#222" stroke-width="0.9"/>
<text x="282.3" y="527.7" font-size="6.2" text-anchor="end" fill="#1e1e1e" stroke="#1e1e1e" stroke-width="0.16" >10000</text>
<line x1="285.2" y1="504.75" x2="287.9" y2="504.75" stroke="#222" stroke-width="0.9"/>
<text x="282.3" y="506.95" font-size="6.2" text-anchor="end" fill="#1e1e1e" stroke="#1e1e1e" stroke-width="0.16" >15000</text>
<line x1="285.2" y1="484" x2="287.9" y2="484" stroke="#222" stroke-width="0.9"/>
<text x="282.3" y="486.2" font-size="6.2" text-anchor="end" fill="#1e1e1e" stroke="#1e1e1e" stroke-width="0.16" >20000</text>
<line x1="299.6" y1="567" x2="299.6" y2="569.4" stroke="#222" stroke-width="0.9"/>
<line x1="317.8" y1="567" x2="317.8" y2="569.4" stroke="#222" stroke-width="0.9"/>
<line x1="335.5" y1="567" x2="335.5" y2="569.4" stroke="#222" stroke-width="0.9"/>
<line x1="353.5" y1="567" x2="353.5" y2="569.4" stroke="#222" stroke-width="0.9"/>
<line x1="293.5" y1="555.4" x2="305.5" y2="555.4" stroke="#56627f" stroke-width="1"/>
<circle cx="295.8" cy="554.8" r="1.95" fill="none" stroke="#56627f" stroke-width="1"/>
<circle cx="299.6" cy="556.2" r="1.95" fill="none" stroke="#56627f" stroke-width="1"/>
<circle cx="303.1" cy="555.4" r="1.95" fill="none" stroke="#56627f" stroke-width="1"/>
<line x1="311.5" y1="555" x2="324" y2="555" stroke="#cc1530" stroke-width="1"/>
<circle cx="313.8" cy="553.8" r="1.95" fill="none" stroke="#cc1530" stroke-width="1"/>
<circle cx="317.7" cy="555.8" r="1.95" fill="none" stroke="#cc1530" stroke-width="1"/>
<circle cx="321.5" cy="555" r="1.95" fill="none" stroke="#cc1530" stroke-width="1"/>
<line x1="335.5" y1="512" x2="335.5" y2="517" stroke="#56627f" stroke-width="0.9"/>
<line x1="333.9" y1="512" x2="337.1" y2="512" stroke="#56627f" stroke-width="0.9"/>
<line x1="333.9" y1="517" x2="337.1" y2="517" stroke="#56627f" stroke-width="0.9"/>
<line x1="330" y1="514.5" x2="341.5" y2="514.5" stroke="#56627f" stroke-width="1"/>
<circle cx="336.5" cy="512.3" r="1.95" fill="none" stroke="#56627f" stroke-width="1"/>
<circle cx="338.5" cy="513.8" r="1.95" fill="none" stroke="#56627f" stroke-width="1"/>
<circle cx="333.1" cy="517.7" r="1.95" fill="none" stroke="#56627f" stroke-width="1"/>
<line x1="353.5" y1="506.5" x2="353.5" y2="512" stroke="#cc1530" stroke-width="0.9"/>
<line x1="351.9" y1="506.5" x2="355.1" y2="506.5" stroke="#cc1530" stroke-width="0.9"/>
<line x1="351.9" y1="512" x2="355.1" y2="512" stroke="#cc1530" stroke-width="0.9"/>
<line x1="348" y1="509.2" x2="359.6" y2="509.2" stroke="#cc1530" stroke-width="1"/>
<circle cx="353.8" cy="506.9" r="1.95" fill="none" stroke="#cc1530" stroke-width="1"/>
<circle cx="356.2" cy="508.8" r="1.95" fill="none" stroke="#cc1530" stroke-width="1"/>
<circle cx="351.5" cy="512.3" r="1.95" fill="none" stroke="#cc1530" stroke-width="1"/>
<text x="309" y="580" font-size="7" text-anchor="middle" fill="#222" stroke="#222" stroke-width="0.38" textLength="16" lengthAdjust="spacingAndGlyphs" >&#8211;IL-27</text>
<text x="344.8" y="580" font-size="7" text-anchor="middle" fill="#222" stroke="#222" stroke-width="0.38" textLength="16" lengthAdjust="spacingAndGlyphs" >+IL-27</text>
<path d="M300.4,549.1 L300.4,547.5 L317.3,547.5 L317.3,549.1" fill="none" stroke="#333" stroke-width="0.9"/>
<text x="308.85" y="544.9" font-size="5.4" text-anchor="middle" fill="#444" stroke="#444" stroke-width="0.16" >ns</text>
<path d="M337.2,501.2 L337.2,499.6 L354.1,499.6 L354.1,501.2" fill="none" stroke="#333" stroke-width="0.9"/>
<text x="345.65" y="497" font-size="5.4" text-anchor="middle" fill="#444" stroke="#444" stroke-width="0.16" >ns</text>
<text x="259.2" y="524.3" font-size="6" text-anchor="middle" fill="#222" stroke="#222" stroke-width="0.38" textLength="27.7" lengthAdjust="spacingAndGlyphs" transform="rotate(-90 259.2 524.3)" >pSTAT3 MFI</text>
<line x1="404.2" y1="482" x2="404.2" y2="567.6" stroke="#222" stroke-width="1.2"/>
<line x1="403.6" y1="567" x2="483.5" y2="567" stroke="#222" stroke-width="1.2"/>
<line x1="401.5" y1="567" x2="404.2" y2="567" stroke="#222" stroke-width="0.9"/>
<text x="398.6" y="569.2" font-size="6.2" text-anchor="end" fill="#1e1e1e" stroke="#1e1e1e" stroke-width="0.16" >0</text>
<line x1="401.5" y1="546.33" x2="404.2" y2="546.33" stroke="#222" stroke-width="0.9"/>
<text x="398.6" y="548.53" font-size="6.2" text-anchor="end" fill="#1e1e1e" stroke="#1e1e1e" stroke-width="0.16" >5000</text>
<line x1="401.5" y1="525.65" x2="404.2" y2="525.65" stroke="#222" stroke-width="0.9"/>
<text x="398.6" y="527.85" font-size="6.2" text-anchor="end" fill="#1e1e1e" stroke="#1e1e1e" stroke-width="0.16" >10000</text>
<line x1="401.5" y1="504.98" x2="404.2" y2="504.98" stroke="#222" stroke-width="0.9"/>
<text x="398.6" y="507.18" font-size="6.2" text-anchor="end" fill="#1e1e1e" stroke="#1e1e1e" stroke-width="0.16" >15000</text>
<line x1="401.5" y1="484.3" x2="404.2" y2="484.3" stroke="#222" stroke-width="0.9"/>
<text x="398.6" y="486.5" font-size="6.2" text-anchor="end" fill="#1e1e1e" stroke="#1e1e1e" stroke-width="0.16" >20000</text>
<line x1="417" y1="567" x2="417" y2="569.4" stroke="#222" stroke-width="0.9"/>
<line x1="434.6" y1="567" x2="434.6" y2="569.4" stroke="#222" stroke-width="0.9"/>
<line x1="452" y1="567" x2="452" y2="569.4" stroke="#222" stroke-width="0.9"/>
<line x1="470.2" y1="567" x2="470.2" y2="569.4" stroke="#222" stroke-width="0.9"/>
<line x1="411" y1="555" x2="423" y2="555" stroke="#56627f" stroke-width="1"/>
<circle cx="413" cy="554.8" r="1.95" fill="none" stroke="#56627f" stroke-width="1"/>
<circle cx="417" cy="555.4" r="1.95" fill="none" stroke="#56627f" stroke-width="1"/>
<circle cx="421" cy="554.8" r="1.95" fill="none" stroke="#56627f" stroke-width="1"/>
<line x1="428.5" y1="555.6" x2="441" y2="555.6" stroke="#cc1530" stroke-width="1"/>
<circle cx="430.6" cy="555.2" r="1.95" fill="none" stroke="#cc1530" stroke-width="1"/>
<circle cx="434.6" cy="556" r="1.95" fill="none" stroke="#cc1530" stroke-width="1"/>
<circle cx="438.6" cy="555.4" r="1.95" fill="none" stroke="#cc1530" stroke-width="1"/>
<line x1="452" y1="506.5" x2="452" y2="511" stroke="#56627f" stroke-width="0.9"/>
<line x1="450.4" y1="506.5" x2="453.6" y2="506.5" stroke="#56627f" stroke-width="0.9"/>
<line x1="450.4" y1="511" x2="453.6" y2="511" stroke="#56627f" stroke-width="0.9"/>
<line x1="447.4" y1="508.6" x2="458.6" y2="508.6" stroke="#56627f" stroke-width="1"/>
<circle cx="453" cy="506" r="1.95" fill="none" stroke="#56627f" stroke-width="1"/>
<circle cx="455.1" cy="508.6" r="1.95" fill="none" stroke="#56627f" stroke-width="1"/>
<circle cx="450.4" cy="512.1" r="1.95" fill="none" stroke="#56627f" stroke-width="1"/>
<line x1="470.5" y1="517.5" x2="470.5" y2="523" stroke="#cc1530" stroke-width="0.9"/>
<line x1="468.9" y1="517.5" x2="472.1" y2="517.5" stroke="#cc1530" stroke-width="0.9"/>
<line x1="468.9" y1="523" x2="472.1" y2="523" stroke="#cc1530" stroke-width="0.9"/>
<line x1="465.1" y1="520.3" x2="476.8" y2="520.3" stroke="#cc1530" stroke-width="1"/>
<circle cx="470.7" cy="516" r="1.95" fill="none" stroke="#cc1530" stroke-width="1"/>
<circle cx="468.1" cy="522" r="1.95" fill="none" stroke="#cc1530" stroke-width="1"/>
<circle cx="472.9" cy="522" r="1.95" fill="none" stroke="#cc1530" stroke-width="1"/>
<text x="425.4" y="580" font-size="7" text-anchor="middle" fill="#222" stroke="#222" stroke-width="0.38" textLength="16" lengthAdjust="spacingAndGlyphs" >&#8211;IL-27</text>
<text x="461.8" y="580" font-size="7" text-anchor="middle" fill="#222" stroke="#222" stroke-width="0.38" textLength="16" lengthAdjust="spacingAndGlyphs" >+IL-27</text>
<path d="M417,547 L417,545.4 L433.3,545.4 L433.3,547" fill="none" stroke="#333" stroke-width="0.9"/>
<text x="425.15" y="542.8" font-size="5.4" text-anchor="middle" fill="#444" stroke="#444" stroke-width="0.16" >ns</text>
<path d="M453.4,498.1 L453.4,496.5 L470.7,496.5 L470.7,498.1" fill="none" stroke="#333" stroke-width="0.9"/>
<text x="462.05" y="495.9" font-size="6.5" text-anchor="middle" fill="#333" stroke="#333" stroke-width="0.16" >*</text>
<text x="13" y="57.3" font-size="7.8" text-anchor="middle" fill="#2a2a2a" stroke="#2a2a2a" stroke-width="0.38" textLength="15.6" lengthAdjust="spacingAndGlyphs" transform="rotate(-90 13 57.3)" >Counts</text>
<text x="13" y="216.2" font-size="7.8" text-anchor="middle" fill="#2a2a2a" stroke="#2a2a2a" stroke-width="0.38" textLength="15.6" lengthAdjust="spacingAndGlyphs" transform="rotate(-90 13 216.2)" >Counts</text>
<text x="41.3" y="397.6" font-size="7.8" text-anchor="middle" fill="#2a2a2a" stroke="#2a2a2a" stroke-width="0.38" textLength="15.6" lengthAdjust="spacingAndGlyphs" transform="rotate(-90 41.3 397.6)" >Counts</text>
<text x="41.3" y="520.9" font-size="7.8" text-anchor="middle" fill="#2a2a2a" stroke="#2a2a2a" stroke-width="0.38" textLength="15.6" lengthAdjust="spacingAndGlyphs" transform="rotate(-90 41.3 520.9)" >Counts</text>
<rect x="0.5" y="0.5" width="519" height="626" fill="none" stroke="#4a4a4a" stroke-width="1"/>
</svg>
</body></html>
